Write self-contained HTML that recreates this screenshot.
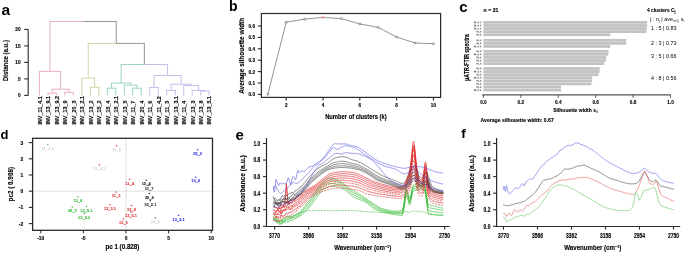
<!DOCTYPE html>
<html><head><meta charset="utf-8"><style>
html,body{margin:0;padding:0;background:#fff;}
svg{display:block;will-change:transform;}
text{font-family:"Liberation Sans", sans-serif;}
</style></head><body>
<svg width="685" height="253" viewBox="0 0 685 253">
<rect width="685" height="253" fill="#fff"/>
<text x="1.60" y="14.60" font-size="15.5" font-weight="bold" fill="#000" text-anchor="start" >a</text>
<text x="229.00" y="10.80" font-size="14" font-weight="bold" fill="#000" text-anchor="start" >b</text>
<text x="459.20" y="11.80" font-size="15" font-weight="bold" fill="#000" text-anchor="start" >c</text>
<text x="0.60" y="138.50" font-size="13" font-weight="bold" fill="#000" text-anchor="start" >d</text>
<text x="235.60" y="140.40" font-size="15" font-weight="bold" fill="#000" text-anchor="start" >e</text>
<text x="461.20" y="137.50" font-size="13.5" font-weight="bold" fill="#000" text-anchor="start" >f</text>
<line x1="28.20" y1="29.40" x2="28.20" y2="95.40" stroke="#2a2a2a" stroke-width="1.1" />
<line x1="24.20" y1="95.40" x2="28.20" y2="95.40" stroke="#2a2a2a" stroke-width="1.1" />
<text x="20.60" y="97.30" font-size="5.4" font-weight="bold" fill="#000" text-anchor="end" textLength="2.64" lengthAdjust="spacingAndGlyphs"  stroke="#000" stroke-width="0.13">0</text>
<line x1="24.20" y1="78.90" x2="28.20" y2="78.90" stroke="#2a2a2a" stroke-width="1.1" />
<text x="20.60" y="80.80" font-size="5.4" font-weight="bold" fill="#000" text-anchor="end" textLength="2.64" lengthAdjust="spacingAndGlyphs"  stroke="#000" stroke-width="0.13">5</text>
<line x1="24.20" y1="62.40" x2="28.20" y2="62.40" stroke="#2a2a2a" stroke-width="1.1" />
<text x="20.60" y="64.30" font-size="5.4" font-weight="bold" fill="#000" text-anchor="end" textLength="5.29" lengthAdjust="spacingAndGlyphs"  stroke="#000" stroke-width="0.13">10</text>
<line x1="24.20" y1="45.90" x2="28.20" y2="45.90" stroke="#2a2a2a" stroke-width="1.1" />
<text x="20.60" y="47.80" font-size="5.4" font-weight="bold" fill="#000" text-anchor="end" textLength="5.29" lengthAdjust="spacingAndGlyphs"  stroke="#000" stroke-width="0.13">15</text>
<line x1="24.20" y1="29.40" x2="28.20" y2="29.40" stroke="#2a2a2a" stroke-width="1.1" />
<text x="20.60" y="31.30" font-size="5.4" font-weight="bold" fill="#000" text-anchor="end" textLength="5.29" lengthAdjust="spacingAndGlyphs"  stroke="#000" stroke-width="0.13">20</text>
<text x="8.40" y="60.60" font-size="7.2" font-weight="bold" fill="#000" text-anchor="middle" transform="rotate(-90 8.40 60.60)" textLength="41.00" lengthAdjust="spacingAndGlyphs"  stroke="#000" stroke-width="0.13">Distance (a.u.)</text>
<text x="41.70" y="124.60" font-size="5.8" font-weight="bold" fill="#111" text-anchor="start" transform="rotate(-90 41.70 124.60)" textLength="28.34" lengthAdjust="spacingAndGlyphs" stroke="#111" stroke-width="0.16">INV_11_4.1</text>
<text x="50.19" y="124.60" font-size="5.8" font-weight="bold" fill="#111" text-anchor="start" transform="rotate(-90 50.19 124.60)" textLength="28.64" lengthAdjust="spacingAndGlyphs" stroke="#111" stroke-width="0.16">INV_13_9.1</text>
<text x="58.68" y="124.60" font-size="5.8" font-weight="bold" fill="#111" text-anchor="start" transform="rotate(-90 58.68 124.60)" textLength="28.64" lengthAdjust="spacingAndGlyphs" stroke="#111" stroke-width="0.16">INV_13_9.2</text>
<text x="67.17" y="124.60" font-size="5.8" font-weight="bold" fill="#111" text-anchor="start" transform="rotate(-90 67.17 124.60)" textLength="24.12" lengthAdjust="spacingAndGlyphs" stroke="#111" stroke-width="0.16">INV_13_9</text>
<text x="75.66" y="124.60" font-size="5.8" font-weight="bold" fill="#111" text-anchor="start" transform="rotate(-90 75.66 124.60)" textLength="24.12" lengthAdjust="spacingAndGlyphs" stroke="#111" stroke-width="0.16">INV_20_3</text>
<text x="84.15" y="124.60" font-size="5.8" font-weight="bold" fill="#111" text-anchor="start" transform="rotate(-90 84.15 124.60)" textLength="28.64" lengthAdjust="spacingAndGlyphs" stroke="#111" stroke-width="0.16">INV_13_2.1</text>
<text x="92.64" y="124.60" font-size="5.8" font-weight="bold" fill="#111" text-anchor="start" transform="rotate(-90 92.64 124.60)" textLength="24.12" lengthAdjust="spacingAndGlyphs" stroke="#111" stroke-width="0.16">INV_13_2</text>
<text x="101.13" y="124.60" font-size="5.8" font-weight="bold" fill="#111" text-anchor="start" transform="rotate(-90 101.13 124.60)" textLength="24.12" lengthAdjust="spacingAndGlyphs" stroke="#111" stroke-width="0.16">INV_15_2</text>
<text x="109.62" y="124.60" font-size="5.8" font-weight="bold" fill="#111" text-anchor="start" transform="rotate(-90 109.62 124.60)" textLength="24.12" lengthAdjust="spacingAndGlyphs" stroke="#111" stroke-width="0.16">INV_15_4</text>
<text x="118.11" y="124.60" font-size="5.8" font-weight="bold" fill="#111" text-anchor="start" transform="rotate(-90 118.11 124.60)" textLength="28.64" lengthAdjust="spacingAndGlyphs" stroke="#111" stroke-width="0.16">INV_15_2.1</text>
<text x="126.60" y="124.60" font-size="5.8" font-weight="bold" fill="#111" text-anchor="start" transform="rotate(-90 126.60 124.60)" textLength="24.12" lengthAdjust="spacingAndGlyphs" stroke="#111" stroke-width="0.16">INV_13_5</text>
<text x="135.09" y="124.60" font-size="5.8" font-weight="bold" fill="#111" text-anchor="start" transform="rotate(-90 135.09 124.60)" textLength="23.82" lengthAdjust="spacingAndGlyphs" stroke="#111" stroke-width="0.16">INV_11_7</text>
<text x="143.58" y="124.60" font-size="5.8" font-weight="bold" fill="#111" text-anchor="start" transform="rotate(-90 143.58 124.60)" textLength="24.12" lengthAdjust="spacingAndGlyphs" stroke="#111" stroke-width="0.16">INV_20_4</text>
<text x="152.07" y="124.60" font-size="5.8" font-weight="bold" fill="#111" text-anchor="start" transform="rotate(-90 152.07 124.60)" textLength="23.82" lengthAdjust="spacingAndGlyphs" stroke="#111" stroke-width="0.16">INV_11_6</text>
<text x="160.56" y="124.60" font-size="5.8" font-weight="bold" fill="#111" text-anchor="start" transform="rotate(-90 160.56 124.60)" textLength="28.34" lengthAdjust="spacingAndGlyphs" stroke="#111" stroke-width="0.16">INV_11_4.2</text>
<text x="169.05" y="124.60" font-size="5.8" font-weight="bold" fill="#111" text-anchor="start" transform="rotate(-90 169.05 124.60)" textLength="23.82" lengthAdjust="spacingAndGlyphs" stroke="#111" stroke-width="0.16">INV_11_3</text>
<text x="177.54" y="124.60" font-size="5.8" font-weight="bold" fill="#111" text-anchor="start" transform="rotate(-90 177.54 124.60)" textLength="28.64" lengthAdjust="spacingAndGlyphs" stroke="#111" stroke-width="0.16">INV_13_3.1</text>
<text x="186.03" y="124.60" font-size="5.8" font-weight="bold" fill="#111" text-anchor="start" transform="rotate(-90 186.03 124.60)" textLength="23.82" lengthAdjust="spacingAndGlyphs" stroke="#111" stroke-width="0.16">INV_11_4</text>
<text x="194.52" y="124.60" font-size="5.8" font-weight="bold" fill="#111" text-anchor="start" transform="rotate(-90 194.52 124.60)" textLength="24.12" lengthAdjust="spacingAndGlyphs" stroke="#111" stroke-width="0.16">INV_13_3</text>
<text x="203.01" y="124.60" font-size="5.8" font-weight="bold" fill="#111" text-anchor="start" transform="rotate(-90 203.01 124.60)" textLength="24.12" lengthAdjust="spacingAndGlyphs" stroke="#111" stroke-width="0.16">INV_13_8</text>
<text x="211.50" y="124.60" font-size="5.8" font-weight="bold" fill="#111" text-anchor="start" transform="rotate(-90 211.50 124.60)" textLength="28.64" lengthAdjust="spacingAndGlyphs" stroke="#111" stroke-width="0.16">INV_13_5.1</text>
<line x1="47.89" y1="95.40" x2="47.89" y2="93.20" stroke="#eab0c3" stroke-width="1" />
<line x1="56.38" y1="95.40" x2="56.38" y2="93.20" stroke="#eab0c3" stroke-width="1" />
<line x1="47.39" y1="93.20" x2="52.13" y2="93.20" stroke="#eab0c3" stroke-width="1" />
<line x1="52.13" y1="93.20" x2="56.88" y2="93.20" stroke="#eab0c3" stroke-width="1" />
<line x1="64.87" y1="95.40" x2="64.87" y2="92.40" stroke="#eab0c3" stroke-width="1" />
<line x1="73.36" y1="95.40" x2="73.36" y2="92.40" stroke="#eab0c3" stroke-width="1" />
<line x1="64.37" y1="92.40" x2="69.12" y2="92.40" stroke="#eab0c3" stroke-width="1" />
<line x1="69.12" y1="92.40" x2="73.86" y2="92.40" stroke="#eab0c3" stroke-width="1" />
<line x1="52.13" y1="93.20" x2="52.13" y2="89.20" stroke="#eab0c3" stroke-width="1" />
<line x1="69.12" y1="92.40" x2="69.12" y2="89.20" stroke="#eab0c3" stroke-width="1" />
<line x1="51.63" y1="89.20" x2="60.62" y2="89.20" stroke="#eab0c3" stroke-width="1" />
<line x1="60.62" y1="89.20" x2="69.62" y2="89.20" stroke="#eab0c3" stroke-width="1" />
<line x1="39.40" y1="95.40" x2="39.40" y2="71.40" stroke="#eab0c3" stroke-width="1" />
<line x1="60.62" y1="89.20" x2="60.62" y2="71.40" stroke="#eab0c3" stroke-width="1" />
<line x1="38.90" y1="71.40" x2="50.01" y2="71.40" stroke="#eab0c3" stroke-width="1" />
<line x1="50.01" y1="71.40" x2="61.12" y2="71.40" stroke="#eab0c3" stroke-width="1" />
<line x1="90.34" y1="95.40" x2="90.34" y2="87.30" stroke="#d2d6a6" stroke-width="1" />
<line x1="98.83" y1="95.40" x2="98.83" y2="87.30" stroke="#d2d6a6" stroke-width="1" />
<line x1="89.84" y1="87.30" x2="94.59" y2="87.30" stroke="#d2d6a6" stroke-width="1" />
<line x1="94.59" y1="87.30" x2="99.33" y2="87.30" stroke="#d2d6a6" stroke-width="1" />
<line x1="81.85" y1="95.40" x2="81.85" y2="78.10" stroke="#d2d6a6" stroke-width="1" />
<line x1="94.59" y1="87.30" x2="94.59" y2="78.10" stroke="#d2d6a6" stroke-width="1" />
<line x1="81.35" y1="78.10" x2="88.22" y2="78.10" stroke="#d2d6a6" stroke-width="1" />
<line x1="88.22" y1="78.10" x2="95.09" y2="78.10" stroke="#d2d6a6" stroke-width="1" />
<line x1="107.32" y1="95.40" x2="107.32" y2="88.20" stroke="#9dd4c7" stroke-width="1" />
<line x1="115.81" y1="95.40" x2="115.81" y2="88.20" stroke="#9dd4c7" stroke-width="1" />
<line x1="106.82" y1="88.20" x2="111.56" y2="88.20" stroke="#9dd4c7" stroke-width="1" />
<line x1="111.56" y1="88.20" x2="116.31" y2="88.20" stroke="#9dd4c7" stroke-width="1" />
<line x1="132.79" y1="95.40" x2="132.79" y2="88.20" stroke="#9dd4c7" stroke-width="1" />
<line x1="141.28" y1="95.40" x2="141.28" y2="88.20" stroke="#9dd4c7" stroke-width="1" />
<line x1="132.29" y1="88.20" x2="137.03" y2="88.20" stroke="#9dd4c7" stroke-width="1" />
<line x1="137.03" y1="88.20" x2="141.78" y2="88.20" stroke="#9dd4c7" stroke-width="1" />
<line x1="124.30" y1="95.40" x2="124.30" y2="85.20" stroke="#9dd4c7" stroke-width="1" />
<line x1="137.03" y1="88.20" x2="137.03" y2="85.20" stroke="#9dd4c7" stroke-width="1" />
<line x1="123.80" y1="85.20" x2="130.67" y2="85.20" stroke="#9dd4c7" stroke-width="1" />
<line x1="130.67" y1="85.20" x2="137.53" y2="85.20" stroke="#9dd4c7" stroke-width="1" />
<line x1="111.56" y1="88.20" x2="111.56" y2="83.10" stroke="#9dd4c7" stroke-width="1" />
<line x1="130.67" y1="85.20" x2="130.67" y2="83.10" stroke="#9dd4c7" stroke-width="1" />
<line x1="111.06" y1="83.10" x2="121.12" y2="83.10" stroke="#9dd4c7" stroke-width="1" />
<line x1="121.12" y1="83.10" x2="131.17" y2="83.10" stroke="#9dd4c7" stroke-width="1" />
<line x1="149.77" y1="95.40" x2="149.77" y2="87.50" stroke="#c3bfed" stroke-width="1" />
<line x1="158.26" y1="95.40" x2="158.26" y2="87.50" stroke="#c3bfed" stroke-width="1" />
<line x1="149.27" y1="87.50" x2="154.01" y2="87.50" stroke="#c3bfed" stroke-width="1" />
<line x1="154.01" y1="87.50" x2="158.76" y2="87.50" stroke="#c3bfed" stroke-width="1" />
<line x1="166.75" y1="95.40" x2="166.75" y2="90.40" stroke="#c3bfed" stroke-width="1" />
<line x1="175.24" y1="95.40" x2="175.24" y2="90.40" stroke="#c3bfed" stroke-width="1" />
<line x1="166.25" y1="90.40" x2="171.00" y2="90.40" stroke="#c3bfed" stroke-width="1" />
<line x1="171.00" y1="90.40" x2="175.74" y2="90.40" stroke="#c3bfed" stroke-width="1" />
<line x1="200.71" y1="95.40" x2="200.71" y2="91.10" stroke="#c3bfed" stroke-width="1" />
<line x1="209.20" y1="95.40" x2="209.20" y2="91.10" stroke="#c3bfed" stroke-width="1" />
<line x1="200.21" y1="91.10" x2="204.96" y2="91.10" stroke="#c3bfed" stroke-width="1" />
<line x1="204.96" y1="91.10" x2="209.70" y2="91.10" stroke="#c3bfed" stroke-width="1" />
<line x1="192.22" y1="95.40" x2="192.22" y2="90.40" stroke="#c3bfed" stroke-width="1" />
<line x1="204.96" y1="91.10" x2="204.96" y2="90.40" stroke="#c3bfed" stroke-width="1" />
<line x1="191.72" y1="90.40" x2="198.59" y2="90.40" stroke="#c3bfed" stroke-width="1" />
<line x1="198.59" y1="90.40" x2="205.46" y2="90.40" stroke="#c3bfed" stroke-width="1" />
<line x1="183.73" y1="95.40" x2="183.73" y2="85.60" stroke="#c3bfed" stroke-width="1" />
<line x1="198.59" y1="90.40" x2="198.59" y2="85.60" stroke="#c3bfed" stroke-width="1" />
<line x1="183.23" y1="85.60" x2="191.16" y2="85.60" stroke="#c3bfed" stroke-width="1" />
<line x1="191.16" y1="85.60" x2="199.09" y2="85.60" stroke="#c3bfed" stroke-width="1" />
<line x1="171.00" y1="90.40" x2="171.00" y2="84.20" stroke="#c3bfed" stroke-width="1" />
<line x1="191.16" y1="85.60" x2="191.16" y2="84.20" stroke="#c3bfed" stroke-width="1" />
<line x1="170.50" y1="84.20" x2="181.08" y2="84.20" stroke="#c3bfed" stroke-width="1" />
<line x1="181.08" y1="84.20" x2="191.66" y2="84.20" stroke="#c3bfed" stroke-width="1" />
<line x1="154.01" y1="87.50" x2="154.01" y2="75.50" stroke="#c3bfed" stroke-width="1" />
<line x1="181.08" y1="84.20" x2="181.08" y2="75.50" stroke="#c3bfed" stroke-width="1" />
<line x1="153.51" y1="75.50" x2="167.55" y2="75.50" stroke="#c3bfed" stroke-width="1" />
<line x1="167.55" y1="75.50" x2="181.58" y2="75.50" stroke="#c3bfed" stroke-width="1" />
<line x1="121.12" y1="83.10" x2="121.12" y2="64.50" stroke="#9dd4c7" stroke-width="1" />
<line x1="167.55" y1="75.50" x2="167.55" y2="64.50" stroke="#c3bfed" stroke-width="1" />
<line x1="120.62" y1="64.50" x2="144.33" y2="64.50" stroke="#9dd4c7" stroke-width="1" />
<line x1="144.33" y1="64.50" x2="168.05" y2="64.50" stroke="#c3bfed" stroke-width="1" />
<line x1="88.22" y1="78.10" x2="88.22" y2="43.40" stroke="#d2d6a6" stroke-width="1" />
<line x1="144.33" y1="64.50" x2="144.33" y2="43.40" stroke="#959595" stroke-width="1" />
<line x1="87.72" y1="43.40" x2="116.27" y2="43.40" stroke="#d2d6a6" stroke-width="1" />
<line x1="116.27" y1="43.40" x2="144.83" y2="43.40" stroke="#959595" stroke-width="1" />
<line x1="50.01" y1="71.40" x2="50.01" y2="21.50" stroke="#eab0c3" stroke-width="1" />
<line x1="116.27" y1="43.40" x2="116.27" y2="21.50" stroke="#959595" stroke-width="1" />
<line x1="49.51" y1="21.50" x2="83.14" y2="21.50" stroke="#eab0c3" stroke-width="1" />
<line x1="83.14" y1="21.50" x2="116.77" y2="21.50" stroke="#959595" stroke-width="1" />
<rect x="261.4" y="13.5" width="179.20000000000005" height="83.9" fill="none" stroke="#2a2a2a" stroke-width="1.2"/>
<line x1="257.80" y1="94.40" x2="261.40" y2="94.40" stroke="#2a2a2a" stroke-width="1.1" />
<text x="255.00" y="96.30" font-size="5.3" font-weight="bold" fill="#000" text-anchor="end" textLength="6.48" lengthAdjust="spacingAndGlyphs"  stroke="#000" stroke-width="0.13">0.0</text>
<line x1="257.80" y1="83.00" x2="261.40" y2="83.00" stroke="#2a2a2a" stroke-width="1.1" />
<text x="255.00" y="84.90" font-size="5.3" font-weight="bold" fill="#000" text-anchor="end" textLength="6.48" lengthAdjust="spacingAndGlyphs"  stroke="#000" stroke-width="0.13">0.1</text>
<line x1="257.80" y1="71.60" x2="261.40" y2="71.60" stroke="#2a2a2a" stroke-width="1.1" />
<text x="255.00" y="73.50" font-size="5.3" font-weight="bold" fill="#000" text-anchor="end" textLength="6.48" lengthAdjust="spacingAndGlyphs"  stroke="#000" stroke-width="0.13">0.2</text>
<line x1="257.80" y1="60.20" x2="261.40" y2="60.20" stroke="#2a2a2a" stroke-width="1.1" />
<text x="255.00" y="62.10" font-size="5.3" font-weight="bold" fill="#000" text-anchor="end" textLength="6.48" lengthAdjust="spacingAndGlyphs"  stroke="#000" stroke-width="0.13">0.3</text>
<line x1="257.80" y1="48.80" x2="261.40" y2="48.80" stroke="#2a2a2a" stroke-width="1.1" />
<text x="255.00" y="50.70" font-size="5.3" font-weight="bold" fill="#000" text-anchor="end" textLength="6.48" lengthAdjust="spacingAndGlyphs"  stroke="#000" stroke-width="0.13">0.4</text>
<line x1="257.80" y1="37.40" x2="261.40" y2="37.40" stroke="#2a2a2a" stroke-width="1.1" />
<text x="255.00" y="39.30" font-size="5.3" font-weight="bold" fill="#000" text-anchor="end" textLength="6.48" lengthAdjust="spacingAndGlyphs"  stroke="#000" stroke-width="0.13">0.5</text>
<line x1="257.80" y1="26.00" x2="261.40" y2="26.00" stroke="#2a2a2a" stroke-width="1.1" />
<text x="255.00" y="27.90" font-size="5.3" font-weight="bold" fill="#000" text-anchor="end" textLength="6.48" lengthAdjust="spacingAndGlyphs"  stroke="#000" stroke-width="0.13">0.6</text>
<line x1="286.20" y1="97.40" x2="286.20" y2="100.40" stroke="#2a2a2a" stroke-width="1.1" />
<text x="286.20" y="107.00" font-size="5.3" font-weight="bold" fill="#000" text-anchor="middle" textLength="2.59" lengthAdjust="spacingAndGlyphs"  stroke="#000" stroke-width="0.13">2</text>
<line x1="323.00" y1="97.40" x2="323.00" y2="100.40" stroke="#2a2a2a" stroke-width="1.1" />
<text x="323.00" y="107.00" font-size="5.3" font-weight="bold" fill="#000" text-anchor="middle" textLength="2.59" lengthAdjust="spacingAndGlyphs"  stroke="#000" stroke-width="0.13">4</text>
<line x1="359.80" y1="97.40" x2="359.80" y2="100.40" stroke="#2a2a2a" stroke-width="1.1" />
<text x="359.80" y="107.00" font-size="5.3" font-weight="bold" fill="#000" text-anchor="middle" textLength="2.59" lengthAdjust="spacingAndGlyphs"  stroke="#000" stroke-width="0.13">6</text>
<line x1="396.60" y1="97.40" x2="396.60" y2="100.40" stroke="#2a2a2a" stroke-width="1.1" />
<text x="396.60" y="107.00" font-size="5.3" font-weight="bold" fill="#000" text-anchor="middle" textLength="2.59" lengthAdjust="spacingAndGlyphs"  stroke="#000" stroke-width="0.13">8</text>
<line x1="433.40" y1="97.40" x2="433.40" y2="100.40" stroke="#2a2a2a" stroke-width="1.1" />
<text x="433.40" y="107.00" font-size="5.3" font-weight="bold" fill="#000" text-anchor="middle" textLength="5.19" lengthAdjust="spacingAndGlyphs"  stroke="#000" stroke-width="0.13">10</text>
<text x="355.90" y="119.30" font-size="7.0" font-weight="bold" fill="#000" text-anchor="middle" textLength="61.50" lengthAdjust="spacingAndGlyphs"  stroke="#000" stroke-width="0.13">Number of clusters (k)</text>
<text x="243.60" y="55.80" font-size="7.0" font-weight="bold" fill="#000" text-anchor="middle" transform="rotate(-90 243.60 55.80)" textLength="76.00" lengthAdjust="spacingAndGlyphs"  stroke="#000" stroke-width="0.13">Average silhouette width</text>
<polyline points="267.80,94.40 286.20,22.24 304.60,19.16 323.00,17.45 341.40,18.59 359.80,23.95 378.20,27.37 396.60,37.06 415.00,42.99 433.40,43.67" fill="none" stroke="#666" stroke-width="0.7"/>
<circle cx="267.80" cy="94.40" r="1.0" fill="#fff" stroke="#555" stroke-width="0.6"/>
<circle cx="286.20" cy="22.24" r="1.0" fill="#fff" stroke="#555" stroke-width="0.6"/>
<circle cx="304.60" cy="19.16" r="1.0" fill="#fff" stroke="#555" stroke-width="0.6"/>
<circle cx="323.00" cy="17.45" r="1.0" fill="#fff" stroke="#e05050" stroke-width="0.6"/>
<circle cx="341.40" cy="18.59" r="1.0" fill="#fff" stroke="#555" stroke-width="0.6"/>
<circle cx="359.80" cy="23.95" r="1.0" fill="#fff" stroke="#555" stroke-width="0.6"/>
<circle cx="378.20" cy="27.37" r="1.0" fill="#fff" stroke="#555" stroke-width="0.6"/>
<circle cx="396.60" cy="37.06" r="1.0" fill="#fff" stroke="#555" stroke-width="0.6"/>
<circle cx="415.00" cy="42.99" r="1.0" fill="#fff" stroke="#555" stroke-width="0.6"/>
<circle cx="433.40" cy="43.67" r="1.0" fill="#fff" stroke="#555" stroke-width="0.6"/>
<rect x="483.4" y="21.00" width="163.76" height="2.78" fill="#c2c2c2"/>
<rect x="473.88" y="21.60" width="1.02" height="1.6" fill="#555" fill-opacity="0.85"/>
<rect x="475.15" y="21.60" width="1.02" height="1.6" fill="#555" fill-opacity="0.85"/>
<rect x="476.32" y="22.90" width="1.27" height="0.4" fill="#555" fill-opacity="0.7"/>
<rect x="477.69" y="21.60" width="1.02" height="1.6" fill="#555" fill-opacity="0.85"/>
<rect x="479.16" y="22.70" width="0.5" height="0.5" fill="#555" fill-opacity="0.8"/>
<rect x="480.23" y="21.60" width="1.02" height="1.6" fill="#555" fill-opacity="0.85"/>
<rect x="483.4" y="24.08" width="163.76" height="2.78" fill="#c2c2c2"/>
<rect x="473.88" y="24.68" width="1.02" height="1.6" fill="#555" fill-opacity="0.85"/>
<rect x="475.15" y="24.68" width="1.02" height="1.6" fill="#555" fill-opacity="0.85"/>
<rect x="476.32" y="25.98" width="1.27" height="0.4" fill="#555" fill-opacity="0.7"/>
<rect x="477.69" y="24.68" width="1.02" height="1.6" fill="#555" fill-opacity="0.85"/>
<rect x="479.16" y="25.78" width="0.5" height="0.5" fill="#555" fill-opacity="0.8"/>
<rect x="480.23" y="24.68" width="1.02" height="1.6" fill="#555" fill-opacity="0.85"/>
<rect x="483.4" y="27.16" width="163.39" height="2.78" fill="#c2c2c2"/>
<rect x="473.88" y="27.76" width="1.02" height="1.6" fill="#555" fill-opacity="0.85"/>
<rect x="475.15" y="27.76" width="1.02" height="1.6" fill="#555" fill-opacity="0.85"/>
<rect x="476.32" y="29.06" width="1.27" height="0.4" fill="#555" fill-opacity="0.7"/>
<rect x="477.69" y="27.76" width="1.02" height="1.6" fill="#555" fill-opacity="0.85"/>
<rect x="479.16" y="28.86" width="0.5" height="0.5" fill="#555" fill-opacity="0.8"/>
<rect x="480.23" y="27.76" width="1.02" height="1.6" fill="#555" fill-opacity="0.85"/>
<rect x="483.4" y="30.24" width="163.01" height="2.78" fill="#c2c2c2"/>
<rect x="476.42" y="30.84" width="1.02" height="1.6" fill="#555" fill-opacity="0.85"/>
<rect x="477.69" y="30.84" width="1.02" height="1.6" fill="#555" fill-opacity="0.85"/>
<rect x="478.86" y="32.14" width="1.27" height="0.4" fill="#555" fill-opacity="0.7"/>
<rect x="480.23" y="30.84" width="1.02" height="1.6" fill="#555" fill-opacity="0.85"/>
<rect x="483.4" y="33.32" width="126.90" height="2.78" fill="#c2c2c2"/>
<rect x="476.42" y="33.92" width="1.02" height="1.6" fill="#555" fill-opacity="0.85"/>
<rect x="477.69" y="33.92" width="1.02" height="1.6" fill="#555" fill-opacity="0.85"/>
<rect x="478.86" y="35.22" width="1.27" height="0.4" fill="#555" fill-opacity="0.7"/>
<rect x="480.23" y="33.92" width="1.02" height="1.6" fill="#555" fill-opacity="0.85"/>
<rect x="483.4" y="38.90" width="142.81" height="2.78" fill="#c2c2c2"/>
<rect x="476.42" y="39.50" width="1.02" height="1.6" fill="#555" fill-opacity="0.85"/>
<rect x="477.69" y="39.50" width="1.02" height="1.6" fill="#555" fill-opacity="0.85"/>
<rect x="478.86" y="40.80" width="1.27" height="0.4" fill="#555" fill-opacity="0.7"/>
<rect x="480.23" y="39.50" width="1.02" height="1.6" fill="#555" fill-opacity="0.85"/>
<rect x="483.4" y="41.98" width="142.81" height="2.78" fill="#c2c2c2"/>
<rect x="476.42" y="42.58" width="1.02" height="1.6" fill="#555" fill-opacity="0.85"/>
<rect x="477.69" y="42.58" width="1.02" height="1.6" fill="#555" fill-opacity="0.85"/>
<rect x="478.86" y="43.88" width="1.27" height="0.4" fill="#555" fill-opacity="0.7"/>
<rect x="480.23" y="42.58" width="1.02" height="1.6" fill="#555" fill-opacity="0.85"/>
<rect x="483.4" y="45.06" width="126.90" height="2.78" fill="#c2c2c2"/>
<rect x="473.88" y="45.66" width="1.02" height="1.6" fill="#555" fill-opacity="0.85"/>
<rect x="475.15" y="45.66" width="1.02" height="1.6" fill="#555" fill-opacity="0.85"/>
<rect x="476.32" y="46.96" width="1.27" height="0.4" fill="#555" fill-opacity="0.7"/>
<rect x="477.69" y="45.66" width="1.02" height="1.6" fill="#555" fill-opacity="0.85"/>
<rect x="479.16" y="46.76" width="0.5" height="0.5" fill="#555" fill-opacity="0.8"/>
<rect x="480.23" y="45.66" width="1.02" height="1.6" fill="#555" fill-opacity="0.85"/>
<rect x="483.4" y="49.90" width="125.22" height="2.78" fill="#c2c2c2"/>
<rect x="476.42" y="50.50" width="1.02" height="1.6" fill="#555" fill-opacity="0.85"/>
<rect x="477.69" y="50.50" width="1.02" height="1.6" fill="#555" fill-opacity="0.85"/>
<rect x="478.86" y="51.80" width="1.27" height="0.4" fill="#555" fill-opacity="0.7"/>
<rect x="480.23" y="50.50" width="1.02" height="1.6" fill="#555" fill-opacity="0.85"/>
<rect x="483.4" y="52.98" width="124.84" height="2.78" fill="#c2c2c2"/>
<rect x="473.88" y="53.58" width="1.02" height="1.6" fill="#555" fill-opacity="0.85"/>
<rect x="475.15" y="53.58" width="1.02" height="1.6" fill="#555" fill-opacity="0.85"/>
<rect x="476.32" y="54.88" width="1.27" height="0.4" fill="#555" fill-opacity="0.7"/>
<rect x="477.69" y="53.58" width="1.02" height="1.6" fill="#555" fill-opacity="0.85"/>
<rect x="479.16" y="54.68" width="0.5" height="0.5" fill="#555" fill-opacity="0.8"/>
<rect x="480.23" y="53.58" width="1.02" height="1.6" fill="#555" fill-opacity="0.85"/>
<rect x="483.4" y="56.06" width="122.79" height="2.78" fill="#c2c2c2"/>
<rect x="476.42" y="56.66" width="1.02" height="1.6" fill="#555" fill-opacity="0.85"/>
<rect x="477.69" y="56.66" width="1.02" height="1.6" fill="#555" fill-opacity="0.85"/>
<rect x="478.86" y="57.96" width="1.27" height="0.4" fill="#555" fill-opacity="0.7"/>
<rect x="480.23" y="56.66" width="1.02" height="1.6" fill="#555" fill-opacity="0.85"/>
<rect x="483.4" y="59.14" width="122.41" height="2.78" fill="#c2c2c2"/>
<rect x="476.42" y="59.74" width="1.02" height="1.6" fill="#555" fill-opacity="0.85"/>
<rect x="477.69" y="59.74" width="1.02" height="1.6" fill="#555" fill-opacity="0.85"/>
<rect x="478.86" y="61.04" width="1.27" height="0.4" fill="#555" fill-opacity="0.7"/>
<rect x="480.23" y="59.74" width="1.02" height="1.6" fill="#555" fill-opacity="0.85"/>
<rect x="483.4" y="62.22" width="120.91" height="2.78" fill="#c2c2c2"/>
<rect x="476.42" y="62.82" width="1.02" height="1.6" fill="#555" fill-opacity="0.85"/>
<rect x="477.69" y="62.82" width="1.02" height="1.6" fill="#555" fill-opacity="0.85"/>
<rect x="478.86" y="64.12" width="1.27" height="0.4" fill="#555" fill-opacity="0.7"/>
<rect x="480.23" y="62.82" width="1.02" height="1.6" fill="#555" fill-opacity="0.85"/>
<rect x="483.4" y="67.10" width="116.24" height="2.78" fill="#c2c2c2"/>
<rect x="476.42" y="67.70" width="1.02" height="1.6" fill="#555" fill-opacity="0.85"/>
<rect x="477.69" y="67.70" width="1.02" height="1.6" fill="#555" fill-opacity="0.85"/>
<rect x="478.86" y="69.00" width="1.27" height="0.4" fill="#555" fill-opacity="0.7"/>
<rect x="480.23" y="67.70" width="1.02" height="1.6" fill="#555" fill-opacity="0.85"/>
<rect x="483.4" y="70.18" width="116.24" height="2.78" fill="#c2c2c2"/>
<rect x="473.88" y="70.78" width="1.02" height="1.6" fill="#555" fill-opacity="0.85"/>
<rect x="475.15" y="70.78" width="1.02" height="1.6" fill="#555" fill-opacity="0.85"/>
<rect x="476.32" y="72.08" width="1.27" height="0.4" fill="#555" fill-opacity="0.7"/>
<rect x="477.69" y="70.78" width="1.02" height="1.6" fill="#555" fill-opacity="0.85"/>
<rect x="479.16" y="71.88" width="0.5" height="0.5" fill="#555" fill-opacity="0.8"/>
<rect x="480.23" y="70.78" width="1.02" height="1.6" fill="#555" fill-opacity="0.85"/>
<rect x="483.4" y="73.26" width="115.11" height="2.78" fill="#c2c2c2"/>
<rect x="476.42" y="73.86" width="1.02" height="1.6" fill="#555" fill-opacity="0.85"/>
<rect x="477.69" y="73.86" width="1.02" height="1.6" fill="#555" fill-opacity="0.85"/>
<rect x="478.86" y="75.16" width="1.27" height="0.4" fill="#555" fill-opacity="0.7"/>
<rect x="480.23" y="73.86" width="1.02" height="1.6" fill="#555" fill-opacity="0.85"/>
<rect x="483.4" y="76.34" width="108.75" height="2.78" fill="#c2c2c2"/>
<rect x="473.88" y="76.94" width="1.02" height="1.6" fill="#555" fill-opacity="0.85"/>
<rect x="475.15" y="76.94" width="1.02" height="1.6" fill="#555" fill-opacity="0.85"/>
<rect x="476.32" y="78.24" width="1.27" height="0.4" fill="#555" fill-opacity="0.7"/>
<rect x="477.69" y="76.94" width="1.02" height="1.6" fill="#555" fill-opacity="0.85"/>
<rect x="479.16" y="78.04" width="0.5" height="0.5" fill="#555" fill-opacity="0.8"/>
<rect x="480.23" y="76.94" width="1.02" height="1.6" fill="#555" fill-opacity="0.85"/>
<rect x="483.4" y="79.42" width="108.75" height="2.78" fill="#c2c2c2"/>
<rect x="476.42" y="80.02" width="1.02" height="1.6" fill="#555" fill-opacity="0.85"/>
<rect x="477.69" y="80.02" width="1.02" height="1.6" fill="#555" fill-opacity="0.85"/>
<rect x="478.86" y="81.32" width="1.27" height="0.4" fill="#555" fill-opacity="0.7"/>
<rect x="480.23" y="80.02" width="1.02" height="1.6" fill="#555" fill-opacity="0.85"/>
<rect x="483.4" y="82.50" width="108.01" height="2.78" fill="#c2c2c2"/>
<rect x="476.42" y="83.10" width="1.02" height="1.6" fill="#555" fill-opacity="0.85"/>
<rect x="477.69" y="83.10" width="1.02" height="1.6" fill="#555" fill-opacity="0.85"/>
<rect x="478.86" y="84.40" width="1.27" height="0.4" fill="#555" fill-opacity="0.7"/>
<rect x="480.23" y="83.10" width="1.02" height="1.6" fill="#555" fill-opacity="0.85"/>
<rect x="483.4" y="85.58" width="77.69" height="2.78" fill="#c2c2c2"/>
<rect x="476.42" y="86.18" width="1.02" height="1.6" fill="#555" fill-opacity="0.85"/>
<rect x="477.69" y="86.18" width="1.02" height="1.6" fill="#555" fill-opacity="0.85"/>
<rect x="478.86" y="87.48" width="1.27" height="0.4" fill="#555" fill-opacity="0.7"/>
<rect x="480.23" y="86.18" width="1.02" height="1.6" fill="#555" fill-opacity="0.85"/>
<rect x="483.4" y="88.66" width="77.69" height="2.78" fill="#c2c2c2"/>
<rect x="473.88" y="89.26" width="1.02" height="1.6" fill="#555" fill-opacity="0.85"/>
<rect x="475.15" y="89.26" width="1.02" height="1.6" fill="#555" fill-opacity="0.85"/>
<rect x="476.32" y="90.56" width="1.27" height="0.4" fill="#555" fill-opacity="0.7"/>
<rect x="477.69" y="89.26" width="1.02" height="1.6" fill="#555" fill-opacity="0.85"/>
<rect x="479.16" y="90.36" width="0.5" height="0.5" fill="#555" fill-opacity="0.8"/>
<rect x="480.23" y="89.26" width="1.02" height="1.6" fill="#555" fill-opacity="0.85"/>
<line x1="482.20" y1="94.80" x2="670.50" y2="94.80" stroke="#555" stroke-width="1.3" />
<line x1="483.40" y1="94.80" x2="483.40" y2="97.80" stroke="#444" stroke-width="0.9" />
<text x="483.40" y="103.70" font-size="5.3" font-weight="bold" fill="#000" text-anchor="middle" textLength="6.48" lengthAdjust="spacingAndGlyphs"  stroke="#000" stroke-width="0.13">0.0</text>
<line x1="520.82" y1="94.80" x2="520.82" y2="97.80" stroke="#444" stroke-width="0.9" />
<text x="520.82" y="103.70" font-size="5.3" font-weight="bold" fill="#000" text-anchor="middle" textLength="6.48" lengthAdjust="spacingAndGlyphs"  stroke="#000" stroke-width="0.13">0.2</text>
<line x1="558.24" y1="94.80" x2="558.24" y2="97.80" stroke="#444" stroke-width="0.9" />
<text x="558.24" y="103.70" font-size="5.3" font-weight="bold" fill="#000" text-anchor="middle" textLength="6.48" lengthAdjust="spacingAndGlyphs"  stroke="#000" stroke-width="0.13">0.4</text>
<line x1="595.66" y1="94.80" x2="595.66" y2="97.80" stroke="#444" stroke-width="0.9" />
<text x="595.66" y="103.70" font-size="5.3" font-weight="bold" fill="#000" text-anchor="middle" textLength="6.48" lengthAdjust="spacingAndGlyphs"  stroke="#000" stroke-width="0.13">0.6</text>
<line x1="633.08" y1="94.80" x2="633.08" y2="97.80" stroke="#444" stroke-width="0.9" />
<text x="633.08" y="103.70" font-size="5.3" font-weight="bold" fill="#000" text-anchor="middle" textLength="6.48" lengthAdjust="spacingAndGlyphs"  stroke="#000" stroke-width="0.13">0.8</text>
<line x1="670.50" y1="94.80" x2="670.50" y2="97.80" stroke="#444" stroke-width="0.9" />
<text x="670.50" y="103.70" font-size="5.3" font-weight="bold" fill="#000" text-anchor="middle" textLength="6.48" lengthAdjust="spacingAndGlyphs"  stroke="#000" stroke-width="0.13">1.0</text>
<text x="553.20" y="111.80" font-size="6.2" font-weight="bold" fill="#000" text-anchor="start" textLength="42.80" lengthAdjust="spacingAndGlyphs"  stroke="#000" stroke-width="0.13">Silhouette width s</text>
<text x="596.60" y="112.90" font-size="4.0" font-weight="bold" fill="#000" text-anchor="start"  stroke="#000" stroke-width="0.13">i</text>
<text x="480.60" y="121.50" font-size="6.0" font-weight="bold" fill="#000" text-anchor="start" textLength="73.20" lengthAdjust="spacingAndGlyphs"  stroke="#000" stroke-width="0.13">Average silhouette width: 0.67</text>
<text x="468.90" y="57.40" font-size="7.2" font-weight="bold" fill="#000" text-anchor="middle" transform="rotate(-90 468.90 57.40)" textLength="46.50" lengthAdjust="spacingAndGlyphs"  stroke="#000" stroke-width="0.13">µATR-FTIR spectra</text>
<text x="483.60" y="12.00" font-size="5.6" font-weight="bold" fill="#000" text-anchor="start" textLength="14.80" lengthAdjust="spacingAndGlyphs"  stroke="#000" stroke-width="0.13">n = 21</text>
<text x="647.10" y="11.80" font-size="5.9" font-weight="bold" fill="#000" text-anchor="start" textLength="27.30" lengthAdjust="spacingAndGlyphs"  stroke="#000" stroke-width="0.13">4 clusters C</text>
<text x="674.60" y="13.00" font-size="3.8" font-weight="bold" fill="#000" text-anchor="start"  stroke="#000" stroke-width="0.13">j</text>
<text x="650.30" y="21.10" font-size="5.9" font-weight="normal" fill="#000" text-anchor="start" textLength="34.00" lengthAdjust="spacingAndGlyphs" >j : n<tspan font-size="3.8" dy="1">j</tspan><tspan dy="-1"> | ave</tspan><tspan font-size="3.4" dy="1">i∈Cj</tspan><tspan dy="-1"> s</tspan><tspan font-size="3.8" dy="1">i</tspan></text>
<text x="651.00" y="30.00" font-size="5.4" font-weight="normal" fill="#000" text-anchor="start" textLength="25.50" lengthAdjust="spacingAndGlyphs" >1 : 5 | 0.83</text>
<text x="651.00" y="44.50" font-size="5.4" font-weight="normal" fill="#000" text-anchor="start" textLength="25.50" lengthAdjust="spacingAndGlyphs" >2 : 3 | 0.73</text>
<text x="651.00" y="57.90" font-size="5.4" font-weight="normal" fill="#000" text-anchor="start" textLength="25.50" lengthAdjust="spacingAndGlyphs" >3 : 5 | 0.66</text>
<text x="651.00" y="80.10" font-size="5.4" font-weight="normal" fill="#000" text-anchor="start" textLength="25.50" lengthAdjust="spacingAndGlyphs" >4 : 8 | 0.56</text>
<line x1="126.00" y1="138.30" x2="126.00" y2="230.30" stroke="#aaa" stroke-width="0.7" stroke-dasharray="1,1"/>
<line x1="32.60" y1="191.20" x2="212.50" y2="191.20" stroke="#aaa" stroke-width="0.7" stroke-dasharray="1,1"/>
<rect x="32.6" y="138.3" width="179.9" height="92.0" fill="none" stroke="#2a2a2a" stroke-width="1.3"/>
<line x1="28.80" y1="142.60" x2="32.60" y2="142.60" stroke="#2a2a2a" stroke-width="1.1" />
<text x="23.20" y="144.60" font-size="5.8" font-weight="bold" fill="#000" text-anchor="end" textLength="2.74" lengthAdjust="spacingAndGlyphs"  stroke="#000" stroke-width="0.13">3</text>
<line x1="28.80" y1="158.80" x2="32.60" y2="158.80" stroke="#2a2a2a" stroke-width="1.1" />
<text x="23.20" y="160.80" font-size="5.8" font-weight="bold" fill="#000" text-anchor="end" textLength="2.74" lengthAdjust="spacingAndGlyphs"  stroke="#000" stroke-width="0.13">2</text>
<line x1="28.80" y1="175.00" x2="32.60" y2="175.00" stroke="#2a2a2a" stroke-width="1.1" />
<text x="23.20" y="177.00" font-size="5.8" font-weight="bold" fill="#000" text-anchor="end" textLength="2.74" lengthAdjust="spacingAndGlyphs"  stroke="#000" stroke-width="0.13">1</text>
<line x1="28.80" y1="191.20" x2="32.60" y2="191.20" stroke="#2a2a2a" stroke-width="1.1" />
<text x="23.20" y="193.20" font-size="5.8" font-weight="bold" fill="#000" text-anchor="end" textLength="2.74" lengthAdjust="spacingAndGlyphs"  stroke="#000" stroke-width="0.13">0</text>
<line x1="28.80" y1="207.40" x2="32.60" y2="207.40" stroke="#2a2a2a" stroke-width="1.1" />
<text x="23.20" y="209.40" font-size="5.8" font-weight="bold" fill="#000" text-anchor="end" textLength="4.38" lengthAdjust="spacingAndGlyphs"  stroke="#000" stroke-width="0.13">-1</text>
<line x1="28.80" y1="223.60" x2="32.60" y2="223.60" stroke="#2a2a2a" stroke-width="1.1" />
<text x="23.20" y="225.60" font-size="5.8" font-weight="bold" fill="#000" text-anchor="end" textLength="4.38" lengthAdjust="spacingAndGlyphs"  stroke="#000" stroke-width="0.13">-2</text>
<line x1="40.80" y1="230.30" x2="40.80" y2="233.30" stroke="#2a2a2a" stroke-width="1.1" />
<text x="40.80" y="239.90" font-size="5.8" font-weight="bold" fill="#000" text-anchor="middle" textLength="7.13" lengthAdjust="spacingAndGlyphs"  stroke="#000" stroke-width="0.13">-10</text>
<line x1="83.40" y1="230.30" x2="83.40" y2="233.30" stroke="#2a2a2a" stroke-width="1.1" />
<text x="83.40" y="239.90" font-size="5.8" font-weight="bold" fill="#000" text-anchor="middle" textLength="4.38" lengthAdjust="spacingAndGlyphs"  stroke="#000" stroke-width="0.13">-5</text>
<line x1="126.00" y1="230.30" x2="126.00" y2="233.30" stroke="#2a2a2a" stroke-width="1.1" />
<text x="126.00" y="239.90" font-size="5.8" font-weight="bold" fill="#000" text-anchor="middle" textLength="2.74" lengthAdjust="spacingAndGlyphs"  stroke="#000" stroke-width="0.13">0</text>
<line x1="168.60" y1="230.30" x2="168.60" y2="233.30" stroke="#2a2a2a" stroke-width="1.1" />
<text x="168.60" y="239.90" font-size="5.8" font-weight="bold" fill="#000" text-anchor="middle" textLength="2.74" lengthAdjust="spacingAndGlyphs"  stroke="#000" stroke-width="0.13">5</text>
<line x1="211.20" y1="230.30" x2="211.20" y2="233.30" stroke="#2a2a2a" stroke-width="1.1" />
<text x="211.20" y="239.90" font-size="5.8" font-weight="bold" fill="#000" text-anchor="middle" textLength="5.48" lengthAdjust="spacingAndGlyphs"  stroke="#000" stroke-width="0.13">10</text>
<text x="122.40" y="248.60" font-size="6.6" font-weight="bold" fill="#000" text-anchor="middle" textLength="34.00" lengthAdjust="spacingAndGlyphs"  stroke="#000" stroke-width="0.13">pc 1 (0.828)</text>
<text x="13.00" y="184.20" font-size="7.0" font-weight="bold" fill="#000" text-anchor="middle" transform="rotate(-90 13.00 184.20)" textLength="34.40" lengthAdjust="spacingAndGlyphs"  stroke="#000" stroke-width="0.13">pc2 ( 0.908)</text>
<rect x="47.10" y="143.90" width="1.4" height="1.2" fill="#3fbf3f"/>
<text x="47.80" y="149.70" font-size="4.4" font-weight="normal" fill="#b8b8b8" text-anchor="middle" textLength="12.47" lengthAdjust="spacingAndGlyphs" >11_4.1</text>
<rect x="115.90" y="145.30" width="1.4" height="1.2" fill="#e03a3a"/>
<text x="116.60" y="151.10" font-size="4.4" font-weight="normal" fill="#b8b8b8" text-anchor="middle" textLength="8.99" lengthAdjust="spacingAndGlyphs" >11_6</text>
<rect x="98.70" y="164.40" width="1.4" height="1.2" fill="#e03a3a"/>
<text x="99.40" y="170.20" font-size="4.4" font-weight="normal" fill="#b8b8b8" text-anchor="middle" textLength="12.47" lengthAdjust="spacingAndGlyphs" >11_4.2</text>
<rect x="128.90" y="178.70" width="1.4" height="1.2" fill="#e03a3a"/>
<text x="129.60" y="184.50" font-size="4.4" font-weight="bold" fill="#e03a3a" text-anchor="middle" textLength="8.59" lengthAdjust="spacingAndGlyphs"  stroke="#e03a3a" stroke-width="0.13">11_4</text>
<rect x="115.40" y="191.50" width="1.4" height="1.2" fill="#e03a3a"/>
<text x="116.10" y="197.30" font-size="4.4" font-weight="bold" fill="#e03a3a" text-anchor="middle" textLength="8.59" lengthAdjust="spacingAndGlyphs"  stroke="#e03a3a" stroke-width="0.13">11_3</text>
<rect x="109.30" y="204.00" width="1.4" height="1.2" fill="#e03a3a"/>
<text x="110.00" y="209.80" font-size="4.4" font-weight="bold" fill="#e03a3a" text-anchor="middle" textLength="12.11" lengthAdjust="spacingAndGlyphs"  stroke="#e03a3a" stroke-width="0.13">13_3.1</text>
<rect x="130.80" y="204.80" width="1.4" height="1.2" fill="#e03a3a"/>
<text x="131.50" y="210.60" font-size="4.4" font-weight="bold" fill="#e03a3a" text-anchor="middle" textLength="8.81" lengthAdjust="spacingAndGlyphs"  stroke="#e03a3a" stroke-width="0.13">13_8</text>
<rect x="130.30" y="211.50" width="1.4" height="1.2" fill="#e03a3a"/>
<text x="131.00" y="217.30" font-size="4.4" font-weight="bold" fill="#e03a3a" text-anchor="middle" textLength="12.11" lengthAdjust="spacingAndGlyphs"  stroke="#e03a3a" stroke-width="0.13">13_5.1</text>
<rect x="122.70" y="218.40" width="1.4" height="1.2" fill="#e03a3a"/>
<text x="123.40" y="224.20" font-size="4.4" font-weight="bold" fill="#e03a3a" text-anchor="middle" textLength="8.81" lengthAdjust="spacingAndGlyphs"  stroke="#e03a3a" stroke-width="0.13">13_3</text>
<rect x="145.50" y="179.60" width="1.4" height="1.2" fill="#333"/>
<text x="146.20" y="185.40" font-size="4.4" font-weight="bold" fill="#333" text-anchor="middle" textLength="8.81" lengthAdjust="spacingAndGlyphs"  stroke="#333" stroke-width="0.13">15_4</text>
<rect x="148.40" y="184.60" width="1.4" height="1.2" fill="#333"/>
<text x="149.10" y="190.40" font-size="4.4" font-weight="bold" fill="#333" text-anchor="middle" textLength="8.59" lengthAdjust="spacingAndGlyphs"  stroke="#333" stroke-width="0.13">11_7</text>
<rect x="148.60" y="192.90" width="1.4" height="1.2" fill="#333"/>
<text x="149.30" y="198.70" font-size="4.4" font-weight="bold" fill="#333" text-anchor="middle" textLength="8.81" lengthAdjust="spacingAndGlyphs"  stroke="#333" stroke-width="0.13">20_4</text>
<rect x="149.60" y="200.00" width="1.4" height="1.2" fill="#333"/>
<text x="150.30" y="205.80" font-size="4.4" font-weight="bold" fill="#333" text-anchor="middle" textLength="12.11" lengthAdjust="spacingAndGlyphs"  stroke="#333" stroke-width="0.13">15_2.1</text>
<rect x="154.60" y="217.30" width="1.4" height="1.2" fill="#666"/>
<text x="155.30" y="223.10" font-size="4.4" font-weight="normal" fill="#b8b8b8" text-anchor="middle" textLength="9.30" lengthAdjust="spacingAndGlyphs" >13_5</text>
<rect x="196.80" y="149.10" width="1.4" height="1.2" fill="#3333dd"/>
<text x="197.50" y="154.90" font-size="4.4" font-weight="bold" fill="#3333dd" text-anchor="middle" textLength="8.81" lengthAdjust="spacingAndGlyphs"  stroke="#3333dd" stroke-width="0.13">15_2</text>
<rect x="194.90" y="176.60" width="1.4" height="1.2" fill="#3333dd"/>
<text x="195.60" y="182.40" font-size="4.4" font-weight="bold" fill="#3333dd" text-anchor="middle" textLength="8.81" lengthAdjust="spacingAndGlyphs"  stroke="#3333dd" stroke-width="0.13">13_2</text>
<rect x="177.90" y="214.80" width="1.4" height="1.2" fill="#3333dd"/>
<text x="178.60" y="220.60" font-size="4.4" font-weight="bold" fill="#3333dd" text-anchor="middle" textLength="12.11" lengthAdjust="spacingAndGlyphs"  stroke="#3333dd" stroke-width="0.13">13_2.1</text>
<rect x="77.10" y="196.30" width="1.4" height="1.2" fill="#3fbf3f"/>
<text x="77.80" y="202.10" font-size="4.4" font-weight="bold" fill="#3fbf3f" text-anchor="middle" textLength="8.81" lengthAdjust="spacingAndGlyphs"  stroke="#3fbf3f" stroke-width="0.13">13_9</text>
<rect x="71.60" y="206.50" width="1.4" height="1.2" fill="#3fbf3f"/>
<text x="72.30" y="212.30" font-size="4.4" font-weight="bold" fill="#3fbf3f" text-anchor="middle" textLength="8.81" lengthAdjust="spacingAndGlyphs"  stroke="#3fbf3f" stroke-width="0.13">20_3</text>
<rect x="85.60" y="205.70" width="1.4" height="1.2" fill="#3fbf3f"/>
<text x="86.30" y="211.50" font-size="4.4" font-weight="bold" fill="#3fbf3f" text-anchor="middle" textLength="12.11" lengthAdjust="spacingAndGlyphs"  stroke="#3fbf3f" stroke-width="0.13">13_9.1</text>
<rect x="83.40" y="212.70" width="1.4" height="1.2" fill="#3fbf3f"/>
<text x="84.10" y="218.50" font-size="4.4" font-weight="bold" fill="#3fbf3f" text-anchor="middle" textLength="12.11" lengthAdjust="spacingAndGlyphs"  stroke="#3fbf3f" stroke-width="0.13">13_9.2</text>
<line x1="266.50" y1="138.00" x2="266.50" y2="226.50" stroke="#2a2a2a" stroke-width="1.2" />
<line x1="265.90" y1="226.50" x2="449.80" y2="226.50" stroke="#2a2a2a" stroke-width="1.2" />
<line x1="263.00" y1="226.30" x2="266.50" y2="226.30" stroke="#2a2a2a" stroke-width="1.1" />
<text x="260.30" y="228.70" font-size="6.8" font-weight="bold" fill="#000" text-anchor="end" textLength="6.81" lengthAdjust="spacingAndGlyphs"  stroke="#000" stroke-width="0.13">0.0</text>
<line x1="263.00" y1="209.74" x2="266.50" y2="209.74" stroke="#2a2a2a" stroke-width="1.1" />
<text x="260.30" y="212.14" font-size="6.8" font-weight="bold" fill="#000" text-anchor="end" textLength="6.81" lengthAdjust="spacingAndGlyphs"  stroke="#000" stroke-width="0.13">0.2</text>
<line x1="263.00" y1="193.18" x2="266.50" y2="193.18" stroke="#2a2a2a" stroke-width="1.1" />
<text x="260.30" y="195.58" font-size="6.8" font-weight="bold" fill="#000" text-anchor="end" textLength="6.81" lengthAdjust="spacingAndGlyphs"  stroke="#000" stroke-width="0.13">0.4</text>
<line x1="263.00" y1="176.62" x2="266.50" y2="176.62" stroke="#2a2a2a" stroke-width="1.1" />
<text x="260.30" y="179.02" font-size="6.8" font-weight="bold" fill="#000" text-anchor="end" textLength="6.81" lengthAdjust="spacingAndGlyphs"  stroke="#000" stroke-width="0.13">0.6</text>
<line x1="263.00" y1="160.06" x2="266.50" y2="160.06" stroke="#2a2a2a" stroke-width="1.1" />
<text x="260.30" y="162.46" font-size="6.8" font-weight="bold" fill="#000" text-anchor="end" textLength="6.81" lengthAdjust="spacingAndGlyphs"  stroke="#000" stroke-width="0.13">0.8</text>
<line x1="263.00" y1="143.50" x2="266.50" y2="143.50" stroke="#2a2a2a" stroke-width="1.1" />
<text x="260.30" y="145.90" font-size="6.8" font-weight="bold" fill="#000" text-anchor="end" textLength="6.81" lengthAdjust="spacingAndGlyphs"  stroke="#000" stroke-width="0.13">1.0</text>
<line x1="274.60" y1="226.50" x2="274.60" y2="229.60" stroke="#2a2a2a" stroke-width="1.1" />
<text x="274.60" y="237.50" font-size="6.8" font-weight="bold" fill="#000" text-anchor="middle" textLength="11.04" lengthAdjust="spacingAndGlyphs"  stroke="#000" stroke-width="0.13">3770</text>
<line x1="308.60" y1="226.50" x2="308.60" y2="229.60" stroke="#2a2a2a" stroke-width="1.1" />
<text x="308.60" y="237.50" font-size="6.8" font-weight="bold" fill="#000" text-anchor="middle" textLength="11.04" lengthAdjust="spacingAndGlyphs"  stroke="#000" stroke-width="0.13">3566</text>
<line x1="342.60" y1="226.50" x2="342.60" y2="229.60" stroke="#2a2a2a" stroke-width="1.1" />
<text x="342.60" y="237.50" font-size="6.8" font-weight="bold" fill="#000" text-anchor="middle" textLength="11.04" lengthAdjust="spacingAndGlyphs"  stroke="#000" stroke-width="0.13">3362</text>
<line x1="376.60" y1="226.50" x2="376.60" y2="229.60" stroke="#2a2a2a" stroke-width="1.1" />
<text x="376.60" y="237.50" font-size="6.8" font-weight="bold" fill="#000" text-anchor="middle" textLength="11.04" lengthAdjust="spacingAndGlyphs"  stroke="#000" stroke-width="0.13">3158</text>
<line x1="410.60" y1="226.50" x2="410.60" y2="229.60" stroke="#2a2a2a" stroke-width="1.1" />
<text x="410.60" y="237.50" font-size="6.8" font-weight="bold" fill="#000" text-anchor="middle" textLength="11.04" lengthAdjust="spacingAndGlyphs"  stroke="#000" stroke-width="0.13">2954</text>
<line x1="444.60" y1="226.50" x2="444.60" y2="229.60" stroke="#2a2a2a" stroke-width="1.1" />
<text x="444.60" y="237.50" font-size="6.8" font-weight="bold" fill="#000" text-anchor="middle" textLength="11.04" lengthAdjust="spacingAndGlyphs"  stroke="#000" stroke-width="0.13">2750</text>
<text x="362.80" y="250.00" font-size="6.7" font-weight="bold" fill="#000" text-anchor="middle" textLength="57.00" lengthAdjust="spacingAndGlyphs"  stroke="#000" stroke-width="0.13">Wavenumber (cm<tspan font-size="4.2" dy="-2.3">−1</tspan><tspan dy="2.3">)</tspan></text>
<text x="245.00" y="183.40" font-size="7.4" font-weight="bold" fill="#000" text-anchor="middle" transform="rotate(-90 245.00 183.40)" textLength="56.50" lengthAdjust="spacingAndGlyphs"  stroke="#000" stroke-width="0.13">Absorbance (a.u.)</text>
<line x1="496.60" y1="138.00" x2="496.60" y2="226.50" stroke="#2a2a2a" stroke-width="1.2" />
<line x1="496.00" y1="226.50" x2="680.20" y2="226.50" stroke="#2a2a2a" stroke-width="1.2" />
<line x1="493.10" y1="226.30" x2="496.60" y2="226.30" stroke="#2a2a2a" stroke-width="1.1" />
<text x="490.40" y="228.70" font-size="6.8" font-weight="bold" fill="#000" text-anchor="end" textLength="6.81" lengthAdjust="spacingAndGlyphs"  stroke="#000" stroke-width="0.13">0.0</text>
<line x1="493.10" y1="209.74" x2="496.60" y2="209.74" stroke="#2a2a2a" stroke-width="1.1" />
<text x="490.40" y="212.14" font-size="6.8" font-weight="bold" fill="#000" text-anchor="end" textLength="6.81" lengthAdjust="spacingAndGlyphs"  stroke="#000" stroke-width="0.13">0.2</text>
<line x1="493.10" y1="193.18" x2="496.60" y2="193.18" stroke="#2a2a2a" stroke-width="1.1" />
<text x="490.40" y="195.58" font-size="6.8" font-weight="bold" fill="#000" text-anchor="end" textLength="6.81" lengthAdjust="spacingAndGlyphs"  stroke="#000" stroke-width="0.13">0.4</text>
<line x1="493.10" y1="176.62" x2="496.60" y2="176.62" stroke="#2a2a2a" stroke-width="1.1" />
<text x="490.40" y="179.02" font-size="6.8" font-weight="bold" fill="#000" text-anchor="end" textLength="6.81" lengthAdjust="spacingAndGlyphs"  stroke="#000" stroke-width="0.13">0.6</text>
<line x1="493.10" y1="160.06" x2="496.60" y2="160.06" stroke="#2a2a2a" stroke-width="1.1" />
<text x="490.40" y="162.46" font-size="6.8" font-weight="bold" fill="#000" text-anchor="end" textLength="6.81" lengthAdjust="spacingAndGlyphs"  stroke="#000" stroke-width="0.13">0.8</text>
<line x1="493.10" y1="143.50" x2="496.60" y2="143.50" stroke="#2a2a2a" stroke-width="1.1" />
<text x="490.40" y="145.90" font-size="6.8" font-weight="bold" fill="#000" text-anchor="end" textLength="6.81" lengthAdjust="spacingAndGlyphs"  stroke="#000" stroke-width="0.13">1.0</text>
<line x1="503.50" y1="226.50" x2="503.50" y2="229.60" stroke="#2a2a2a" stroke-width="1.1" />
<text x="503.50" y="237.50" font-size="6.8" font-weight="bold" fill="#000" text-anchor="middle" textLength="11.04" lengthAdjust="spacingAndGlyphs"  stroke="#000" stroke-width="0.13">3770</text>
<line x1="537.50" y1="226.50" x2="537.50" y2="229.60" stroke="#2a2a2a" stroke-width="1.1" />
<text x="537.50" y="237.50" font-size="6.8" font-weight="bold" fill="#000" text-anchor="middle" textLength="11.04" lengthAdjust="spacingAndGlyphs"  stroke="#000" stroke-width="0.13">3566</text>
<line x1="571.50" y1="226.50" x2="571.50" y2="229.60" stroke="#2a2a2a" stroke-width="1.1" />
<text x="571.50" y="237.50" font-size="6.8" font-weight="bold" fill="#000" text-anchor="middle" textLength="11.04" lengthAdjust="spacingAndGlyphs"  stroke="#000" stroke-width="0.13">3362</text>
<line x1="605.50" y1="226.50" x2="605.50" y2="229.60" stroke="#2a2a2a" stroke-width="1.1" />
<text x="605.50" y="237.50" font-size="6.8" font-weight="bold" fill="#000" text-anchor="middle" textLength="11.04" lengthAdjust="spacingAndGlyphs"  stroke="#000" stroke-width="0.13">3158</text>
<line x1="639.50" y1="226.50" x2="639.50" y2="229.60" stroke="#2a2a2a" stroke-width="1.1" />
<text x="639.50" y="237.50" font-size="6.8" font-weight="bold" fill="#000" text-anchor="middle" textLength="11.04" lengthAdjust="spacingAndGlyphs"  stroke="#000" stroke-width="0.13">2954</text>
<line x1="673.50" y1="226.50" x2="673.50" y2="229.60" stroke="#2a2a2a" stroke-width="1.1" />
<text x="673.50" y="237.50" font-size="6.8" font-weight="bold" fill="#000" text-anchor="middle" textLength="11.04" lengthAdjust="spacingAndGlyphs"  stroke="#000" stroke-width="0.13">2750</text>
<text x="592.84" y="250.00" font-size="6.7" font-weight="bold" fill="#000" text-anchor="middle" textLength="57.00" lengthAdjust="spacingAndGlyphs"  stroke="#000" stroke-width="0.13">Wavenumber (cm<tspan font-size="4.2" dy="-2.3">−1</tspan><tspan dy="2.3">)</tspan></text>
<text x="473.90" y="183.40" font-size="7.4" font-weight="bold" fill="#000" text-anchor="middle" transform="rotate(-90 473.90 183.40)" textLength="56.50" lengthAdjust="spacingAndGlyphs"  stroke="#000" stroke-width="0.13">Absorbance (a.u.)</text>
<path d="M503.0,190.1 503.5,187.2 504.0,186.0 504.5,187.0 505.0,191.0 505.5,191.5 506.0,187.5 506.5,185.6 507.0,187.3 507.5,190.1 508.0,192.1 508.5,193.0 509.0,193.6 509.5,193.9 510.0,193.7 510.5,193.1 511.0,192.4 511.5,191.9 512.0,191.4 512.5,190.9 513.0,190.4 513.5,189.9 514.0,189.3 514.5,188.7 515.0,188.1 515.5,187.7 516.0,187.8 516.5,188.0 517.0,188.4 517.5,188.7 518.0,188.8 518.5,188.5 519.0,188.0 519.5,187.4 520.0,186.7 520.5,186.0 521.0,185.2 521.5,184.4 522.0,183.8 522.5,183.8 523.0,184.4 523.5,185.3 524.0,185.9 524.5,185.4 525.0,184.0 525.5,182.5 526.0,181.9 526.5,181.5 527.0,181.2 527.5,180.9 528.0,180.5 528.5,180.0 529.0,179.5 529.5,179.0 530.0,178.8 530.5,178.8 531.0,179.0 531.5,179.1 532.0,179.3 532.5,179.3 533.0,178.9 533.5,178.2 534.0,177.4 534.5,176.6 535.0,175.9 535.5,175.1 536.0,174.4 536.5,173.6 537.0,172.8 537.5,172.1 538.0,171.3 538.5,170.6 539.0,169.9 539.5,169.2 540.0,168.6 540.5,167.9 541.0,167.3 541.5,166.7 542.0,166.0 542.5,165.6 543.0,165.2 543.5,164.8 544.0,164.1 544.5,163.8 545.0,163.4 545.5,162.7 546.0,162.1 546.5,161.3 547.0,160.9 547.5,160.8 548.0,160.5 548.5,160.2 549.0,159.6 549.5,159.2 550.0,159.0 550.5,158.7 551.0,158.3 551.5,157.9 552.0,157.7 552.5,157.6 553.0,157.2 553.5,156.4 554.0,156.0 554.5,155.7 555.0,155.9 555.5,155.2 556.0,155.2 556.5,154.3 557.0,154.2 557.5,153.3 558.0,152.9 558.5,152.5 559.0,151.9 559.5,151.1 560.0,150.2 560.5,149.9 561.0,150.3 561.5,149.9 562.0,149.5 562.5,149.0 563.0,149.0 563.5,148.6 564.0,147.8 564.5,147.0 565.0,146.7 565.5,146.6 566.0,146.2 566.5,145.8 567.0,145.7 567.5,145.8 568.0,145.7 568.5,145.4 569.0,145.1 569.5,145.2 570.0,145.3 570.5,145.7 571.0,145.4 571.5,145.1 572.0,144.8 572.5,144.9 573.0,144.8 573.5,144.6 574.0,144.1 574.5,143.4 575.0,143.2 575.5,143.1 576.0,143.3 576.5,142.9 577.0,142.6 577.5,142.9 578.0,143.1 578.5,143.3 579.0,143.2 579.5,143.4 580.0,144.0 580.5,144.6 581.0,144.8 581.5,144.7 582.0,144.5 582.5,144.6 583.0,145.2 583.5,145.4 584.0,145.8 584.5,145.8 585.0,146.1 585.5,146.1 586.0,146.5 586.5,146.6 587.0,146.8 587.5,147.0 588.0,147.2 588.5,147.8 589.0,148.1 589.5,148.6 590.0,148.7 590.5,148.9 591.0,148.8 591.5,149.3 592.0,149.6 592.5,150.3 593.0,150.4 593.5,150.9 594.0,151.1 594.5,151.4 595.0,151.8 595.5,152.3 596.0,152.7 596.5,153.0 597.0,153.3 597.5,153.8 598.0,154.3 598.5,154.8 599.0,155.1 599.5,155.4 600.0,155.8 600.5,156.2 601.0,156.6 601.5,157.0 602.0,157.4 602.5,157.8 603.0,158.1 603.5,158.5 604.0,158.9 604.5,159.3 605.0,159.7 605.5,160.1 606.0,160.5 606.5,160.8 607.0,161.2 607.5,161.5 608.0,161.9 608.5,162.2 609.0,162.5 609.5,162.8 610.0,163.1 610.5,163.4 611.0,163.6 611.5,163.9 612.0,164.2 612.5,164.4 613.0,164.7 613.5,164.9 614.0,165.2 614.5,165.4 615.0,165.7 615.5,165.9 616.0,166.1 616.5,166.4 617.0,166.6 617.5,166.9 618.0,167.1 618.5,167.4 619.0,167.6 619.5,167.9 620.0,168.1 620.5,168.4 621.0,168.7 621.5,168.9 622.0,169.2 622.5,169.4 623.0,169.7 623.5,170.0 624.0,170.2 624.5,170.5 625.0,170.7 625.5,171.0 626.0,171.2 626.5,171.4 627.0,171.6 627.5,171.8 628.0,172.0 628.5,172.2 629.0,172.5 629.5,172.7 630.0,172.9 630.5,173.1 631.0,173.3 631.5,173.4 632.0,173.5 632.5,173.6 633.0,173.6 633.5,173.6 634.0,173.5 634.5,173.5 635.0,173.4 635.5,173.3 636.0,173.1 636.5,173.0 637.0,172.9 637.5,172.7 638.0,172.6 638.5,172.4 639.0,172.2 639.5,171.9 640.0,171.6 640.5,171.3 641.0,170.9 641.5,170.5 642.0,170.2 642.5,169.7 643.0,169.1 643.5,168.7 644.0,168.4 644.5,168.3 645.0,168.5 645.5,168.9 646.0,169.3 646.5,169.8 647.0,170.3 647.5,170.6 648.0,171.0 648.5,171.3 649.0,171.7 649.5,172.1 650.0,172.4 650.5,172.6 651.0,172.9 651.5,173.0 652.0,173.1 652.5,173.1 653.0,173.2 653.5,173.2 654.0,173.3 654.5,173.3 655.0,173.4 655.5,173.4 656.0,173.5 656.5,173.9 657.0,174.4 657.5,175.2 658.0,175.9 658.5,176.7 659.0,177.3 659.5,177.8 660.0,178.2 660.5,178.7 661.0,179.1 661.5,179.5 662.0,179.8 662.5,180.2 663.0,180.5 663.5,180.7 664.0,180.9 664.5,181.1 665.0,181.3 665.5,181.5 666.0,181.7 666.5,181.8 667.0,182.0 667.5,182.1 668.0,182.2 668.5,182.3 669.0,182.4 669.5,182.5 670.0,182.6 670.5,182.7 671.0,182.7 671.5,182.8 672.0,182.9 672.5,182.9 673.0,183.0 673.5,183.0 674.0,183.0" fill="none" stroke="#7474e4" stroke-width="0.7" stroke-linejoin="round"/>
<path d="M503.0,204.4 503.5,204.7 504.0,205.0 504.5,205.2 505.0,205.4 505.5,205.6 506.0,205.7 506.5,205.8 507.0,205.8 507.5,205.8 508.0,205.7 508.5,205.6 509.0,205.5 509.5,205.4 510.0,205.3 510.5,205.2 511.0,205.1 511.5,205.0 512.0,204.8 512.5,204.7 513.0,204.5 513.5,204.3 514.0,204.1 514.5,204.0 515.0,203.8 515.5,203.7 516.0,203.5 516.5,203.4 517.0,203.3 517.5,203.2 518.0,203.1 518.5,203.1 519.0,203.0 519.5,202.8 520.0,202.7 520.5,202.6 521.0,202.4 521.5,202.3 522.0,202.1 522.5,201.9 523.0,201.7 523.5,201.5 524.0,201.2 524.5,201.0 525.0,200.7 525.5,200.4 526.0,200.1 526.5,199.7 527.0,199.3 527.5,198.9 528.0,198.5 528.5,198.1 529.0,197.7 529.5,197.3 530.0,197.0 530.5,196.6 531.0,196.3 531.5,195.9 532.0,195.5 532.5,195.1 533.0,194.7 533.5,194.2 534.0,193.7 534.5,193.1 535.0,192.6 535.5,191.9 536.0,191.3 536.5,190.6 537.0,189.9 537.5,189.2 538.0,188.5 538.5,187.7 539.0,186.8 539.5,185.9 540.0,185.0 540.5,184.2 541.0,183.5 541.5,182.7 542.0,182.1 542.5,181.4 543.0,180.8 543.5,180.3 544.0,179.9 544.5,179.9 545.0,179.9 545.5,179.9 546.0,179.6 546.5,179.4 547.0,179.3 547.5,179.2 548.0,179.2 548.5,179.3 549.0,179.3 549.5,179.3 550.0,178.9 550.5,178.9 551.0,178.6 551.5,178.4 552.0,178.2 552.5,178.1 553.0,178.1 553.5,177.9 554.0,177.4 554.5,177.1 555.0,176.8 555.5,176.6 556.0,176.4 556.5,176.1 557.0,175.9 557.5,175.5 558.0,175.2 558.5,174.7 559.0,174.4 559.5,174.1 560.0,173.7 560.5,173.3 561.0,173.0 561.5,172.6 562.0,172.2 562.5,171.4 563.0,170.6 563.5,169.8 564.0,169.4 564.5,169.1 565.0,169.1 565.5,169.1 566.0,169.3 566.5,169.2 567.0,169.3 567.5,169.1 568.0,169.3 568.5,169.1 569.0,169.1 569.5,169.0 570.0,168.7 570.5,168.6 571.0,168.3 571.5,168.3 572.0,168.1 572.5,168.1 573.0,167.9 573.5,167.8 574.0,167.5 574.5,167.2 575.0,167.1 575.5,166.9 576.0,166.8 576.5,166.4 577.0,166.3 577.5,166.0 578.0,166.2 578.5,165.9 579.0,165.9 579.5,165.8 580.0,165.8 580.5,165.8 581.0,165.7 581.5,165.6 582.0,165.5 582.5,165.3 583.0,165.2 583.5,164.9 584.0,165.0 584.5,165.2 585.0,165.4 585.5,165.5 586.0,165.6 586.5,166.0 587.0,166.5 587.5,166.7 588.0,166.9 588.5,167.0 589.0,167.4 589.5,167.5 590.0,167.8 590.5,168.0 591.0,168.3 591.5,168.5 592.0,168.6 592.5,168.8 593.0,169.0 593.5,169.3 594.0,169.5 594.5,169.7 595.0,169.9 595.5,170.1 596.0,170.3 596.5,170.6 597.0,170.8 597.5,171.1 598.0,171.3 598.5,171.6 599.0,171.8 599.5,172.0 600.0,172.3 600.5,172.6 601.0,172.9 601.5,173.2 602.0,173.5 602.5,173.8 603.0,174.2 603.5,174.5 604.0,174.9 604.5,175.3 605.0,175.6 605.5,175.9 606.0,176.3 606.5,176.6 607.0,176.9 607.5,177.2 608.0,177.4 608.5,177.7 609.0,177.9 609.5,178.1 610.0,178.3 610.5,178.5 611.0,178.6 611.5,178.8 612.0,179.0 612.5,179.1 613.0,179.3 613.5,179.4 614.0,179.5 614.5,179.7 615.0,179.8 615.5,180.0 616.0,180.1 616.5,180.2 617.0,180.4 617.5,180.5 618.0,180.7 618.5,180.8 619.0,181.0 619.5,181.2 620.0,181.3 620.5,181.5 621.0,181.7 621.5,181.9 622.0,182.1 622.5,182.2 623.0,182.4 623.5,182.5 624.0,182.7 624.5,182.8 625.0,182.9 625.5,183.0 626.0,183.1 626.5,183.2 627.0,183.3 627.5,183.4 628.0,183.5 628.5,183.6 629.0,183.7 629.5,183.8 630.0,183.8 630.5,183.9 631.0,183.9 631.5,183.9 632.0,183.9 632.5,183.9 633.0,183.9 633.5,183.8 634.0,183.8 634.5,183.7 635.0,183.7 635.5,183.6 636.0,183.5 636.5,183.3 637.0,183.0 637.5,182.6 638.0,182.2 638.5,181.7 639.0,181.1 639.5,180.3 640.0,179.4 640.5,178.4 641.0,177.5 641.5,176.6 642.0,175.8 642.5,174.9 643.0,174.0 643.5,173.2 644.0,172.7 644.5,172.6 645.0,172.9 645.5,173.5 646.0,174.1 646.5,174.8 647.0,175.6 647.5,176.5 648.0,177.5 648.5,178.5 649.0,179.3 649.5,179.8 650.0,180.3 650.5,180.7 651.0,181.1 651.5,181.4 652.0,181.6 652.5,181.7 653.0,181.6 653.5,181.3 654.0,180.8 654.5,180.4 655.0,180.1 655.5,180.0 656.0,180.2 656.5,180.6 657.0,181.1 657.5,181.7 658.0,182.5 658.5,183.4 659.0,184.3 659.5,185.0 660.0,185.6 660.5,185.8 661.0,186.0 661.5,186.2 662.0,186.4 662.5,186.5 663.0,186.6 663.5,186.7 664.0,186.8 664.5,186.9 665.0,187.0 665.5,187.1 666.0,187.3 666.5,187.4 667.0,187.5 667.5,187.7 668.0,187.8 668.5,187.9 669.0,188.1 669.5,188.2 670.0,188.3 670.5,188.4 671.0,188.6 671.5,188.7 672.0,188.8 672.5,189.0 673.0,189.1 673.5,189.2 674.0,189.3" fill="none" stroke="#5a5a5a" stroke-width="0.7" stroke-linejoin="round"/>
<path d="M503.0,214.0 503.5,213.4 504.0,213.2 504.5,213.1 505.0,213.5 505.5,214.8 506.0,216.1 506.5,216.5 507.0,216.0 507.5,215.2 508.0,214.2 508.5,213.4 509.0,213.1 509.5,213.4 510.0,214.0 510.5,214.8 511.0,215.3 511.5,215.3 512.0,214.8 512.5,213.7 513.0,212.5 513.5,211.3 514.0,210.3 514.5,209.8 515.0,209.9 515.5,210.3 516.0,210.8 516.5,211.4 517.0,211.8 517.5,212.0 518.0,211.8 518.5,211.3 519.0,210.6 519.5,210.1 520.0,209.8 520.5,209.9 521.0,210.2 521.5,210.6 522.0,210.8 522.5,210.9 523.0,210.6 523.5,210.0 524.0,209.3 524.5,208.7 525.0,207.9 525.5,207.0 526.0,206.1 526.5,205.5 527.0,205.4 527.5,205.5 528.0,205.6 528.5,205.7 529.0,205.8 529.5,205.5 530.0,204.8 530.5,204.0 531.0,203.3 531.5,203.1 532.0,202.9 532.5,202.7 533.0,202.6 533.5,202.5 534.0,202.3 534.5,202.1 535.0,201.8 535.5,201.3 536.0,200.8 536.5,200.3 537.0,199.7 537.5,199.1 538.0,198.6 538.5,198.1 539.0,197.5 539.5,197.0 540.0,196.4 540.5,195.9 541.0,195.5 541.5,195.1 542.0,194.7 542.5,194.4 543.0,194.2 543.5,193.9 544.0,193.7 544.5,193.4 545.0,192.8 545.5,192.3 546.0,191.9 546.5,191.4 547.0,190.6 547.5,189.7 548.0,189.1 548.5,188.6 549.0,188.0 549.5,187.5 550.0,187.0 550.5,186.5 551.0,186.1 551.5,185.6 552.0,185.1 552.5,184.6 553.0,184.2 553.5,183.7 554.0,183.3 554.5,183.0 555.0,182.9 555.5,182.6 556.0,182.7 556.5,182.3 557.0,182.0 557.5,181.7 558.0,181.4 558.5,181.4 559.0,180.6 559.5,180.4 560.0,180.2 560.5,180.5 561.0,180.5 561.5,180.2 562.0,179.9 562.5,179.9 563.0,179.9 563.5,180.0 564.0,179.8 564.5,179.8 565.0,179.8 565.5,180.2 566.0,180.1 566.5,180.0 567.0,179.6 567.5,179.3 568.0,179.0 568.5,179.1 569.0,179.3 569.5,179.5 570.0,179.2 570.5,178.9 571.0,178.9 571.5,179.0 572.0,179.1 572.5,179.2 573.0,179.3 573.5,179.0 574.0,178.8 574.5,178.5 575.0,178.6 575.5,178.4 576.0,178.6 576.5,178.4 577.0,178.5 577.5,178.1 578.0,178.1 578.5,177.8 579.0,177.8 579.5,177.5 580.0,177.8 580.5,177.8 581.0,177.8 581.5,177.5 582.0,177.7 582.5,177.7 583.0,177.5 583.5,177.1 584.0,177.1 584.5,177.4 585.0,177.5 585.5,177.6 586.0,177.4 586.5,177.4 587.0,177.6 587.5,177.8 588.0,178.0 588.5,177.9 589.0,178.0 589.5,178.1 590.0,178.5 590.5,178.7 591.0,178.9 591.5,179.0 592.0,179.2 592.5,179.4 593.0,179.6 593.5,179.8 594.0,180.2 594.5,180.4 595.0,180.7 595.5,180.8 596.0,181.0 596.5,181.2 597.0,181.5 597.5,181.8 598.0,182.1 598.5,182.3 599.0,182.5 599.5,182.8 600.0,183.1 600.5,183.3 601.0,183.6 601.5,183.8 602.0,184.1 602.5,184.4 603.0,184.6 603.5,184.9 604.0,185.1 604.5,185.4 605.0,185.6 605.5,185.9 606.0,186.2 606.5,186.4 607.0,186.7 607.5,187.0 608.0,187.2 608.5,187.5 609.0,187.7 609.5,188.0 610.0,188.2 610.5,188.4 611.0,188.6 611.5,188.8 612.0,189.0 612.5,189.2 613.0,189.4 613.5,189.5 614.0,189.7 614.5,189.9 615.0,190.0 615.5,190.2 616.0,190.3 616.5,190.5 617.0,190.6 617.5,190.7 618.0,190.9 618.5,191.0 619.0,191.2 619.5,191.3 620.0,191.4 620.5,191.6 621.0,191.7 621.5,191.9 622.0,192.0 622.5,192.1 623.0,192.3 623.5,192.4 624.0,192.5 624.5,192.7 625.0,192.8 625.5,192.9 626.0,193.1 626.5,193.2 627.0,193.3 627.5,193.4 628.0,193.6 628.5,193.7 629.0,193.8 629.5,193.9 630.0,194.0 630.5,194.1 631.0,194.3 631.5,194.4 632.0,194.5 632.5,194.6 633.0,194.6 633.5,194.5 634.0,194.3 634.5,193.8 635.0,193.3 635.5,192.7 636.0,192.1 636.5,191.3 637.0,190.3 637.5,189.2 638.0,188.0 638.5,186.9 639.0,185.7 639.5,184.4 640.0,183.1 640.5,181.7 641.0,180.4 641.5,179.0 642.0,177.6 642.5,176.0 643.0,174.3 643.5,172.7 644.0,171.5 644.5,170.9 645.0,171.1 645.5,171.9 646.0,173.1 646.5,174.5 647.0,175.8 647.5,177.0 648.0,178.4 648.5,180.0 649.0,181.5 649.5,182.7 650.0,183.6 650.5,183.9 651.0,184.0 651.5,184.1 652.0,184.2 652.5,184.2 653.0,184.3 653.5,184.3 654.0,184.1 654.5,183.3 655.0,182.3 655.5,181.4 656.0,181.1 656.5,181.8 657.0,183.1 657.5,184.7 658.0,186.1 658.5,187.5 659.0,189.0 659.5,190.6 660.0,192.1 660.5,193.4 661.0,194.4 661.5,195.0 662.0,195.4 662.5,195.8 663.0,196.2 663.5,196.5 664.0,196.7 664.5,197.0 665.0,197.2 665.5,197.4 666.0,197.7 666.5,197.9 667.0,198.2 667.5,198.4 668.0,198.7 668.5,198.9 669.0,199.2 669.5,199.4 670.0,199.6 670.5,199.9 671.0,200.1 671.5,200.3 672.0,200.5 672.5,200.7 673.0,200.9 673.5,201.1 674.0,201.3" fill="none" stroke="#e46e6e" stroke-width="0.7" stroke-linejoin="round"/>
<path d="M503.0,216.9 503.5,217.0 504.0,217.2 504.5,217.5 505.0,218.2 505.5,219.4 506.0,220.8 506.5,221.8 507.0,222.0 507.5,221.7 508.0,221.2 508.5,220.7 509.0,220.4 509.5,220.2 510.0,220.1 510.5,220.0 511.0,219.9 511.5,219.7 512.0,219.4 512.5,219.1 513.0,218.7 513.5,218.3 514.0,217.9 514.5,217.6 515.0,217.4 515.5,217.2 516.0,217.1 516.5,216.9 517.0,216.8 517.5,216.6 518.0,216.5 518.5,216.3 519.0,216.1 519.5,215.8 520.0,215.6 520.5,215.5 521.0,215.4 521.5,215.4 522.0,215.5 522.5,215.6 523.0,215.7 523.5,215.9 524.0,216.0 524.5,216.0 525.0,215.8 525.5,215.3 526.0,214.7 526.5,214.3 527.0,214.2 527.5,214.2 528.0,214.2 528.5,214.2 529.0,214.2 529.5,214.1 530.0,213.9 530.5,213.5 531.0,213.1 531.5,212.6 532.0,212.2 532.5,211.9 533.0,211.5 533.5,211.2 534.0,210.9 534.5,210.6 535.0,210.3 535.5,209.9 536.0,209.5 536.5,209.0 537.0,208.5 537.5,208.0 538.0,207.5 538.5,207.0 539.0,206.4 539.5,205.8 540.0,205.1 540.5,204.4 541.0,203.7 541.5,203.0 542.0,202.4 542.5,201.7 543.0,201.1 543.5,200.4 544.0,199.7 544.5,199.1 545.0,198.3 545.5,197.8 546.0,197.1 546.5,196.3 547.0,195.4 547.5,194.4 548.0,193.5 548.5,192.4 549.0,191.8 549.5,191.1 550.0,190.5 550.5,189.9 551.0,189.5 551.5,188.9 552.0,188.4 552.5,187.8 553.0,187.5 553.5,187.0 554.0,186.8 554.5,186.4 555.0,186.2 555.5,186.1 556.0,185.9 556.5,185.7 557.0,185.3 557.5,185.2 558.0,184.9 558.5,184.9 559.0,184.8 559.5,184.8 560.0,184.8 560.5,184.8 561.0,185.0 561.5,185.2 562.0,185.3 562.5,185.3 563.0,185.3 563.5,185.5 564.0,185.7 564.5,185.9 565.0,186.0 565.5,186.0 566.0,186.1 566.5,186.1 567.0,186.5 567.5,186.7 568.0,187.0 568.5,187.1 569.0,187.2 569.5,187.4 570.0,187.8 570.5,188.1 571.0,188.4 571.5,188.5 572.0,188.6 572.5,188.8 573.0,189.2 573.5,189.5 574.0,189.7 574.5,189.6 575.0,190.1 575.5,190.4 576.0,190.9 576.5,191.0 577.0,191.3 577.5,191.5 578.0,191.9 578.5,192.4 579.0,192.7 579.5,192.8 580.0,193.1 580.5,193.4 581.0,193.8 581.5,194.0 582.0,194.2 582.5,194.6 583.0,194.8 583.5,195.2 584.0,195.3 584.5,195.6 585.0,195.9 585.5,196.2 586.0,196.5 586.5,196.7 587.0,197.2 587.5,197.5 588.0,197.6 588.5,197.9 589.0,198.1 589.5,198.4 590.0,198.5 590.5,198.8 591.0,199.2 591.5,199.5 592.0,199.8 592.5,200.1 593.0,200.4 593.5,200.7 594.0,201.1 594.5,201.5 595.0,201.9 595.5,202.2 596.0,202.5 596.5,202.8 597.0,203.1 597.5,203.4 598.0,203.7 598.5,204.0 599.0,204.3 599.5,204.6 600.0,204.9 600.5,205.2 601.0,205.5 601.5,205.7 602.0,206.0 602.5,206.2 603.0,206.4 603.5,206.6 604.0,206.8 604.5,207.0 605.0,207.2 605.5,207.4 606.0,207.6 606.5,207.8 607.0,207.9 607.5,208.1 608.0,208.3 608.5,208.4 609.0,208.6 609.5,208.7 610.0,208.8 610.5,209.0 611.0,209.1 611.5,209.2 612.0,209.4 612.5,209.5 613.0,209.6 613.5,209.7 614.0,209.8 614.5,210.0 615.0,210.0 615.5,210.1 616.0,210.2 616.5,210.3 617.0,210.3 617.5,210.3 618.0,210.4 618.5,210.4 619.0,210.4 619.5,210.5 620.0,210.5 620.5,210.5 621.0,210.5 621.5,210.5 622.0,210.6 622.5,210.6 623.0,210.6 623.5,210.6 624.0,210.6 624.5,210.6 625.0,210.6 625.5,210.6 626.0,210.6 626.5,210.6 627.0,210.6 627.5,210.6 628.0,210.6 628.5,210.6 629.0,210.6 629.5,210.4 630.0,210.1 630.5,209.7 631.0,209.2 631.5,208.6 632.0,207.9 632.5,206.6 633.0,205.1 633.5,203.3 634.0,201.4 634.5,198.7 635.0,195.3 635.5,193.1 636.0,192.9 636.5,193.1 637.0,193.6 637.5,194.2 638.0,195.4 638.5,197.4 639.0,199.2 639.5,200.0 640.0,199.6 640.5,198.7 641.0,197.5 641.5,196.2 642.0,195.0 642.5,193.4 643.0,191.8 643.5,190.8 644.0,190.4 644.5,190.3 645.0,190.3 645.5,190.2 646.0,190.2 646.5,190.1 647.0,190.0 647.5,189.9 648.0,189.8 648.5,189.6 649.0,189.4 649.5,189.2 650.0,189.0 650.5,188.8 651.0,188.5 651.5,188.3 652.0,188.0 652.5,187.7 653.0,187.4 653.5,187.2 654.0,187.3 654.5,187.6 655.0,188.1 655.5,188.9 656.0,190.7 656.5,193.1 657.0,195.4 657.5,197.3 658.0,199.0 658.5,200.7 659.0,202.2 659.5,203.5 660.0,204.4 660.5,204.9 661.0,205.3 661.5,205.6 662.0,205.9 662.5,206.2 663.0,206.4 663.5,206.6 664.0,206.8 664.5,207.0 665.0,207.2 665.5,207.3 666.0,207.5 666.5,207.7 667.0,207.9 667.5,208.0 668.0,208.2 668.5,208.4 669.0,208.5 669.5,208.7 670.0,208.8 670.5,208.9 671.0,209.1 671.5,209.2 672.0,209.3 672.5,209.4 673.0,209.5 673.5,209.5 674.0,209.6" fill="none" stroke="#6ccc6c" stroke-width="0.7" stroke-linejoin="round"/>
<path d="M273.3,216.3 273.8,216.6 274.3,215.5 274.8,216.0 275.3,216.5 275.8,217.6 276.3,218.1 276.8,218.8 277.3,219.2 277.8,219.3 278.3,219.5 278.8,220.4 279.3,221.1 279.8,221.0 280.3,220.4 280.8,220.2 281.3,220.6 281.8,220.5 282.3,219.7 282.8,219.2 283.3,218.8 283.8,218.8 284.3,218.5 284.8,218.3 285.3,217.8 285.8,217.4 286.3,217.0 286.8,216.8 287.3,216.4 287.8,216.4 288.3,216.3 288.8,216.3 289.3,216.2 289.8,216.3 290.3,216.3 290.8,216.3 291.3,216.5 291.8,216.1 292.3,216.1 292.8,215.7 293.3,215.6 293.8,215.2 294.3,215.1 294.8,215.2 295.3,214.8 295.8,214.6 296.3,214.2 296.8,213.9 297.3,213.4 297.8,213.2 298.3,213.1 298.8,213.0 299.3,212.6 299.8,212.2 300.3,211.6 300.8,211.1 301.3,210.5 301.8,209.9 302.3,209.2 302.8,208.6 303.3,208.1 303.8,207.4 304.3,206.9 304.8,206.3 305.3,205.7 305.8,205.1 306.3,204.4 306.8,203.8 307.3,203.2 307.8,202.5 308.3,201.9 308.8,201.2 309.3,200.5 309.8,199.9 310.3,199.2 310.8,198.5 311.3,197.8 311.8,197.1 312.3,196.4 312.8,195.6 313.3,194.9 313.8,194.1 314.3,193.4 314.8,192.7 315.3,192.0 315.8,191.3 316.3,190.6 316.8,189.9 317.3,189.2 317.8,188.6 318.3,187.9 318.8,187.2 319.3,186.6 319.8,185.9 320.3,185.3 320.8,184.7 321.3,184.1 321.8,183.5 322.3,183.0 322.8,182.5 323.3,182.0 323.8,181.6 324.3,181.1 324.8,180.6 325.3,180.1 325.8,179.7 326.3,179.3 326.8,178.9 327.3,178.6 327.8,178.4 328.3,178.3 328.8,178.2 329.3,178.2 329.8,178.2 330.3,178.3 330.8,178.3 331.3,178.4 331.8,178.4 332.3,178.5 332.8,178.6 333.3,178.6 333.8,178.8 334.3,178.9 334.8,179.0 335.3,179.2 335.8,179.4 336.3,179.6 336.8,179.8 337.3,180.0 337.8,180.3 338.3,180.5 338.8,180.7 339.3,181.0 339.8,181.3 340.3,181.6 340.8,181.9 341.3,182.2 341.8,182.5 342.3,182.9 342.8,183.3 343.3,183.6 343.8,184.0 344.3,184.4 344.8,184.8 345.3,185.2 345.8,185.5 346.3,185.9 346.8,186.3 347.3,186.7 347.8,187.1 348.3,187.6 348.8,188.0 349.3,188.4 349.8,188.8 350.3,189.1 350.8,189.4 351.3,189.7 351.8,189.9 352.3,190.2 352.8,190.4 353.3,190.6 353.8,190.9 354.3,191.1 354.8,191.4 355.3,191.7 355.8,192.0 356.3,192.3 356.8,192.6 357.3,192.9 357.8,193.2 358.3,193.5 358.8,193.9 359.3,194.2 359.8,194.5 360.3,194.8 360.8,195.2 361.3,195.5 361.8,195.8 362.3,196.1 362.8,196.5 363.3,196.8 363.8,197.2 364.3,197.5 364.8,197.8 365.3,198.2 365.8,198.5 366.3,198.8 366.8,199.2 367.3,199.5 367.8,199.9 368.3,200.2 368.8,200.5 369.3,200.9 369.8,201.2 370.3,201.5 370.8,201.8 371.3,202.1 371.8,202.5 372.3,202.8 372.8,203.1 373.3,203.5 373.8,203.8 374.3,204.1 374.8,204.5 375.3,204.8 375.8,205.2 376.3,205.5 376.8,205.8 377.3,206.2 377.8,206.5 378.3,206.8 378.8,207.1 379.3,207.3 379.8,207.6 380.3,207.8 380.8,208.1 381.3,208.3 381.8,208.4 382.3,208.6 382.8,208.7 383.3,208.9 383.8,209.0 384.3,209.2 384.8,209.3 385.3,209.5 385.8,209.6 386.3,209.8 386.8,209.9 387.3,210.0 387.8,210.1 388.3,210.2 388.8,210.4 389.3,210.5 389.8,210.6 390.3,210.7 390.8,210.7 391.3,210.8 391.8,210.9 392.3,210.9 392.8,211.0 393.3,211.0 393.8,211.1 394.3,211.1 394.8,211.1 395.3,211.1 395.8,211.1 396.3,211.1 396.8,211.1 397.3,211.1 397.8,211.0 398.3,211.0 398.8,211.0 399.3,210.9 399.8,210.9 400.3,210.8 400.8,210.7 401.3,210.6 401.8,210.5 402.3,210.2 402.8,208.7 403.3,206.5 403.8,204.0 404.3,201.1 404.8,196.7 405.3,192.2 405.8,189.3 406.3,189.1 406.8,189.9 407.3,191.1 407.8,192.5 408.3,194.1 408.8,196.5 409.3,198.6 409.8,198.9 410.3,197.5 410.8,195.3 411.3,192.9 411.8,190.5 412.3,187.6 412.8,185.6 413.3,185.3 413.8,185.2 414.3,185.2 414.8,185.1 415.3,185.1 415.8,185.1 416.3,185.1 416.8,185.1 417.3,185.1 417.8,185.0 418.3,185.0 418.8,184.8 419.3,184.6 419.8,184.3 420.3,184.1 420.8,183.9 421.3,183.7 421.8,183.6 422.3,183.6 422.8,183.8 423.3,184.0 423.8,184.4 424.3,184.8 424.8,185.6 425.3,187.8 425.8,190.8 426.3,193.9 426.8,196.8 427.3,200.1 427.8,203.1 428.3,204.5 428.8,204.7 429.3,204.9 429.8,205.1 430.3,205.2 430.8,205.3 431.3,205.3 431.8,205.5 432.3,205.6 432.8,205.7 433.3,205.8 433.8,206.0 434.3,206.1 434.8,206.2 435.3,206.4 435.8,206.5 436.3,206.6 436.8,206.8 437.3,206.9 437.8,207.0 438.3,207.1 438.8,207.3 439.3,207.4 439.8,207.5 440.3,207.7 440.8,207.8 441.3,207.9 441.8,208.0 442.3,208.2 442.8,208.3 443.3,208.4" fill="none" stroke="#22b422" stroke-width="0.62" stroke-linejoin="round"/>
<path d="M273.3,216.8 273.8,217.4 274.3,218.1 274.8,218.4 275.3,218.4 275.8,218.3 276.3,219.2 276.8,219.5 277.3,220.3 277.8,220.8 278.3,222.0 278.8,222.1 279.3,222.0 279.8,221.6 280.3,221.8 280.8,221.6 281.3,221.3 281.8,220.7 282.3,221.0 282.8,220.9 283.3,220.1 283.8,220.1 284.3,219.5 284.8,219.5 285.3,218.8 285.8,218.5 286.3,218.2 286.8,218.0 287.3,218.2 287.8,218.0 288.3,217.5 288.8,217.2 289.3,217.5 289.8,218.0 290.3,218.1 290.8,217.8 291.3,217.6 291.8,217.2 292.3,217.4 292.8,217.4 293.3,217.0 293.8,216.4 294.3,216.0 294.8,215.7 295.3,215.8 295.8,215.6 296.3,215.5 296.8,215.0 297.3,214.9 297.8,214.7 298.3,214.5 298.8,214.1 299.3,213.7 299.8,213.3 300.3,213.0 300.8,212.5 301.3,212.0 301.8,211.4 302.3,210.9 302.8,210.4 303.3,209.8 303.8,209.1 304.3,208.6 304.8,208.0 305.3,207.5 305.8,206.9 306.3,206.4 306.8,205.7 307.3,205.1 307.8,204.5 308.3,203.9 308.8,203.3 309.3,202.6 309.8,202.0 310.3,201.3 310.8,200.7 311.3,200.0 311.8,199.3 312.3,198.5 312.8,197.8 313.3,197.1 313.8,196.3 314.3,195.6 314.8,194.9 315.3,194.2 315.8,193.5 316.3,192.8 316.8,192.1 317.3,191.5 317.8,190.8 318.3,190.1 318.8,189.5 319.3,188.8 319.8,188.2 320.3,187.5 320.8,186.9 321.3,186.3 321.8,185.7 322.3,185.2 322.8,184.7 323.3,184.3 323.8,183.8 324.3,183.4 324.8,183.0 325.3,182.6 325.8,182.2 326.3,181.8 326.8,181.5 327.3,181.2 327.8,181.0 328.3,180.8 328.8,180.7 329.3,180.7 329.8,180.7 330.3,180.7 330.8,180.7 331.3,180.7 331.8,180.8 332.3,180.8 332.8,180.9 333.3,180.9 333.8,181.0 334.3,181.1 334.8,181.3 335.3,181.4 335.8,181.6 336.3,181.7 336.8,181.9 337.3,182.1 337.8,182.3 338.3,182.5 338.8,182.7 339.3,182.9 339.8,183.1 340.3,183.4 340.8,183.7 341.3,184.0 341.8,184.3 342.3,184.6 342.8,185.0 343.3,185.3 343.8,185.7 344.3,186.0 344.8,186.4 345.3,186.8 345.8,187.1 346.3,187.5 346.8,187.9 347.3,188.2 347.8,188.7 348.3,189.1 348.8,189.5 349.3,189.9 349.8,190.3 350.3,190.7 350.8,191.0 351.3,191.3 351.8,191.6 352.3,191.9 352.8,192.2 353.3,192.5 353.8,192.7 354.3,193.0 354.8,193.3 355.3,193.6 355.8,193.8 356.3,194.1 356.8,194.4 357.3,194.7 357.8,194.9 358.3,195.2 358.8,195.5 359.3,195.8 359.8,196.1 360.3,196.3 360.8,196.6 361.3,196.9 361.8,197.2 362.3,197.5 362.8,197.8 363.3,198.1 363.8,198.4 364.3,198.7 364.8,199.0 365.3,199.3 365.8,199.7 366.3,200.0 366.8,200.3 367.3,200.7 367.8,201.0 368.3,201.4 368.8,201.7 369.3,202.1 369.8,202.5 370.3,202.8 370.8,203.2 371.3,203.5 371.8,203.8 372.3,204.2 372.8,204.5 373.3,204.9 373.8,205.2 374.3,205.6 374.8,205.9 375.3,206.2 375.8,206.6 376.3,206.9 376.8,207.2 377.3,207.4 377.8,207.7 378.3,208.0 378.8,208.2 379.3,208.5 379.8,208.7 380.3,208.9 380.8,209.1 381.3,209.3 381.8,209.5 382.3,209.6 382.8,209.8 383.3,209.9 383.8,210.1 384.3,210.2 384.8,210.3 385.3,210.5 385.8,210.6 386.3,210.7 386.8,210.9 387.3,211.0 387.8,211.1 388.3,211.2 388.8,211.3 389.3,211.4 389.8,211.5 390.3,211.6 390.8,211.7 391.3,211.8 391.8,211.9 392.3,211.9 392.8,212.0 393.3,212.1 393.8,212.1 394.3,212.1 394.8,212.2 395.3,212.2 395.8,212.2 396.3,212.2 396.8,212.3 397.3,212.3 397.8,212.3 398.3,212.3 398.8,212.3 399.3,212.3 399.8,212.2 400.3,212.2 400.8,212.2 401.3,212.1 401.8,212.1 402.3,211.7 402.8,210.4 403.3,208.2 403.8,205.8 404.3,202.9 404.8,198.6 405.3,194.2 405.8,191.4 406.3,191.2 406.8,192.0 407.3,193.2 407.8,194.6 408.3,196.1 408.8,198.5 409.3,200.4 409.8,200.7 410.3,199.3 410.8,197.1 411.3,194.7 411.8,192.3 412.3,189.4 412.8,187.3 413.3,186.9 413.8,186.9 414.3,186.8 414.8,186.7 415.3,186.7 415.8,186.7 416.3,186.7 416.8,186.6 417.3,186.6 417.8,186.5 418.3,186.4 418.8,186.3 419.3,186.1 419.8,185.9 420.3,185.7 420.8,185.5 421.3,185.3 421.8,185.2 422.3,185.2 422.8,185.4 423.3,185.7 423.8,186.1 424.3,186.6 424.8,187.5 425.3,189.6 425.8,192.6 426.3,195.7 426.8,198.7 427.3,202.4 427.8,205.7 428.3,207.3 428.8,207.5 429.3,207.7 429.8,207.8 430.3,207.9 430.8,208.0 431.3,208.1 431.8,208.2 432.3,208.3 432.8,208.4 433.3,208.5 433.8,208.6 434.3,208.7 434.8,208.8 435.3,208.9 435.8,209.0 436.3,209.1 436.8,209.2 437.3,209.3 437.8,209.4 438.3,209.5 438.8,209.6 439.3,209.7 439.8,209.8 440.3,209.9 440.8,210.0 441.3,210.1 441.8,210.2 442.3,210.3 442.8,210.4 443.3,210.5" fill="none" stroke="#22b422" stroke-width="0.62" stroke-linejoin="round"/>
<path d="M273.3,218.7 273.8,219.1 274.3,219.2 274.8,219.4 275.3,220.0 275.8,219.8 276.3,220.7 276.8,220.2 277.3,221.3 277.8,221.3 278.3,222.6 278.8,223.0 279.3,223.3 279.8,223.2 280.3,223.3 280.8,223.8 281.3,223.6 281.8,222.5 282.3,221.5 282.8,221.2 283.3,222.3 283.8,221.9 284.3,221.5 284.8,220.6 285.3,220.6 285.8,220.2 286.3,220.1 286.8,219.7 287.3,219.7 287.8,219.7 288.3,219.6 288.8,219.4 289.3,219.4 289.8,219.4 290.3,219.2 290.8,218.6 291.3,218.7 291.8,218.4 292.3,218.3 292.8,217.7 293.3,217.6 293.8,217.7 294.3,217.7 294.8,217.6 295.3,217.3 295.8,217.0 296.3,216.6 296.8,216.5 297.3,216.4 297.8,216.1 298.3,215.8 298.8,215.5 299.3,215.3 299.8,214.9 300.3,214.3 300.8,213.8 301.3,213.2 301.8,213.0 302.3,212.5 302.8,212.2 303.3,211.6 303.8,211.2 304.3,210.5 304.8,210.0 305.3,209.5 305.8,209.1 306.3,208.6 306.8,208.0 307.3,207.4 307.8,206.9 308.3,206.3 308.8,205.7 309.3,205.1 309.8,204.5 310.3,203.8 310.8,203.2 311.3,202.5 311.8,201.8 312.3,201.1 312.8,200.4 313.3,199.6 313.8,198.9 314.3,198.2 314.8,197.5 315.3,196.7 315.8,196.0 316.3,195.4 316.8,194.7 317.3,194.1 317.8,193.4 318.3,192.8 318.8,192.1 319.3,191.4 319.8,190.8 320.3,190.1 320.8,189.5 321.3,188.9 321.8,188.3 322.3,187.8 322.8,187.3 323.3,186.9 323.8,186.5 324.3,186.1 324.8,185.8 325.3,185.4 325.8,185.1 326.3,184.8 326.8,184.5 327.3,184.2 327.8,184.0 328.3,183.8 328.8,183.7 329.3,183.6 329.8,183.5 330.3,183.5 330.8,183.5 331.3,183.5 331.8,183.5 332.3,183.5 332.8,183.6 333.3,183.6 333.8,183.7 334.3,183.8 334.8,183.9 335.3,184.0 335.8,184.1 336.3,184.2 336.8,184.3 337.3,184.5 337.8,184.6 338.3,184.8 338.8,184.9 339.3,185.1 339.8,185.3 340.3,185.5 340.8,185.8 341.3,186.1 341.8,186.4 342.3,186.7 342.8,187.0 343.3,187.3 343.8,187.6 344.3,188.0 344.8,188.3 345.3,188.6 345.8,189.0 346.3,189.3 346.8,189.7 347.3,190.1 347.8,190.5 348.3,190.9 348.8,191.3 349.3,191.7 349.8,192.1 350.3,192.5 350.8,192.9 351.3,193.3 351.8,193.6 352.3,194.0 352.8,194.3 353.3,194.6 353.8,194.9 354.3,195.2 354.8,195.5 355.3,195.8 355.8,196.0 356.3,196.3 356.8,196.5 357.3,196.7 357.8,197.0 358.3,197.2 358.8,197.4 359.3,197.7 359.8,197.9 360.3,198.1 360.8,198.3 361.3,198.6 361.8,198.8 362.3,199.0 362.8,199.3 363.3,199.5 363.8,199.8 364.3,200.1 364.8,200.4 365.3,200.7 365.8,201.0 366.3,201.3 366.8,201.7 367.3,202.0 367.8,202.4 368.3,202.8 368.8,203.2 369.3,203.6 369.8,203.9 370.3,204.3 370.8,204.7 371.3,205.1 371.8,205.5 372.3,205.8 372.8,206.2 373.3,206.6 373.8,206.9 374.3,207.3 374.8,207.6 375.3,207.9 375.8,208.2 376.3,208.5 376.8,208.7 377.3,208.9 377.8,209.2 378.3,209.4 378.8,209.6 379.3,209.8 379.8,210.0 380.3,210.2 380.8,210.4 381.3,210.5 381.8,210.7 382.3,210.8 382.8,211.0 383.3,211.1 383.8,211.2 384.3,211.4 384.8,211.5 385.3,211.6 385.8,211.8 386.3,211.9 386.8,212.0 387.3,212.1 387.8,212.2 388.3,212.4 388.8,212.5 389.3,212.6 389.8,212.7 390.3,212.8 390.8,212.8 391.3,212.9 391.8,213.0 392.3,213.1 392.8,213.2 393.3,213.2 393.8,213.3 394.3,213.4 394.8,213.4 395.3,213.5 395.8,213.5 396.3,213.6 396.8,213.6 397.3,213.7 397.8,213.7 398.3,213.8 398.8,213.8 399.3,213.8 399.8,213.9 400.3,213.9 400.8,213.9 401.3,213.9 401.8,213.8 402.3,213.6 402.8,212.2 403.3,210.2 403.8,207.8 404.3,205.1 404.8,200.9 405.3,196.6 405.8,193.8 406.3,193.7 406.8,194.5 407.3,195.7 407.8,197.0 408.3,198.5 408.8,200.7 409.3,202.5 409.8,202.8 410.3,201.4 410.8,199.2 411.3,196.8 411.8,194.4 412.3,191.5 412.8,189.3 413.3,188.9 413.8,188.8 414.3,188.7 414.8,188.6 415.3,188.5 415.8,188.5 416.3,188.5 416.8,188.4 417.3,188.4 417.8,188.3 418.3,188.2 418.8,188.0 419.3,187.9 419.8,187.7 420.3,187.5 420.8,187.3 421.3,187.2 421.8,187.1 422.3,187.1 422.8,187.3 423.3,187.6 423.8,188.1 424.3,188.7 424.8,189.6 425.3,191.7 425.8,194.6 426.3,197.7 426.8,200.9 427.3,205.1 427.8,208.8 428.3,210.5 428.8,210.8 429.3,210.9 429.8,211.0 430.3,211.1 430.8,211.2 431.3,211.2 431.8,211.3 432.3,211.4 432.8,211.5 433.3,211.6 433.8,211.7 434.3,211.7 434.8,211.8 435.3,211.9 435.8,212.0 436.3,212.1 436.8,212.1 437.3,212.2 437.8,212.3 438.3,212.4 438.8,212.4 439.3,212.5 439.8,212.6 440.3,212.6 440.8,212.7 441.3,212.7 441.8,212.8 442.3,212.9 442.8,212.9 443.3,212.9" fill="none" stroke="#22b422" stroke-width="0.62" stroke-linejoin="round"/>
<path d="M273.3,220.2 273.8,220.3 274.3,220.2 274.8,220.2 275.3,221.5 275.8,221.9 276.3,222.3 276.8,222.5 277.3,223.1 277.8,223.3 278.3,223.8 278.8,224.3 279.3,224.6 279.8,224.1 280.3,224.2 280.8,224.1 281.3,224.1 281.8,223.8 282.3,223.9 282.8,223.1 283.3,222.6 283.8,222.1 284.3,222.4 284.8,222.5 285.3,222.7 285.8,222.4 286.3,221.8 286.8,221.5 287.3,221.3 287.8,221.7 288.3,221.6 288.8,221.5 289.3,221.2 289.8,220.9 290.3,220.6 290.8,220.3 291.3,220.3 291.8,220.4 292.3,220.4 292.8,220.2 293.3,219.7 293.8,219.4 294.3,219.1 294.8,219.1 295.3,218.7 295.8,218.5 296.3,218.1 296.8,218.1 297.3,217.7 297.8,217.4 298.3,216.9 298.8,216.6 299.3,216.4 299.8,216.2 300.3,215.9 300.8,215.3 301.3,215.0 301.8,214.7 302.3,214.3 302.8,213.9 303.3,213.5 303.8,213.1 304.3,212.6 304.8,212.2 305.3,211.7 305.8,211.2 306.3,210.8 306.8,210.3 307.3,209.8 307.8,209.2 308.3,208.7 308.8,208.1 309.3,207.5 309.8,206.9 310.3,206.3 310.8,205.7 311.3,205.0 311.8,204.4 312.3,203.7 312.8,202.9 313.3,202.2 313.8,201.5 314.3,200.7 314.8,200.0 315.3,199.3 315.8,198.6 316.3,197.9 316.8,197.3 317.3,196.7 317.8,196.0 318.3,195.4 318.8,194.7 319.3,194.0 319.8,193.4 320.3,192.7 320.8,192.1 321.3,191.5 321.8,191.0 322.3,190.4 322.8,189.9 323.3,189.5 323.8,189.1 324.3,188.8 324.8,188.6 325.3,188.3 325.8,188.0 326.3,187.8 326.8,187.5 327.3,187.3 327.8,187.0 328.3,186.8 328.8,186.7 329.3,186.5 329.8,186.4 330.3,186.3 330.8,186.2 331.3,186.2 331.8,186.2 332.3,186.2 332.8,186.2 333.3,186.3 333.8,186.3 334.3,186.4 334.8,186.4 335.3,186.5 335.8,186.6 336.3,186.7 336.8,186.8 337.3,186.9 337.8,187.0 338.3,187.1 338.8,187.2 339.3,187.3 339.8,187.5 340.3,187.7 340.8,187.9 341.3,188.1 341.8,188.4 342.3,188.7 342.8,189.0 343.3,189.3 343.8,189.6 344.3,189.9 344.8,190.2 345.3,190.5 345.8,190.8 346.3,191.1 346.8,191.5 347.3,191.9 347.8,192.3 348.3,192.7 348.8,193.1 349.3,193.5 349.8,193.9 350.3,194.4 350.8,194.8 351.3,195.2 351.8,195.6 352.3,196.0 352.8,196.4 353.3,196.8 353.8,197.1 354.3,197.4 354.8,197.7 355.3,198.0 355.8,198.2 356.3,198.4 356.8,198.6 357.3,198.8 357.8,199.0 358.3,199.2 358.8,199.4 359.3,199.5 359.8,199.7 360.3,199.9 360.8,200.0 361.3,200.2 361.8,200.4 362.3,200.6 362.8,200.8 363.3,201.0 363.8,201.2 364.3,201.5 364.8,201.7 365.3,202.0 365.8,202.3 366.3,202.7 366.8,203.0 367.3,203.4 367.8,203.8 368.3,204.2 368.8,204.6 369.3,205.0 369.8,205.4 370.3,205.9 370.8,206.3 371.3,206.7 371.8,207.1 372.3,207.5 372.8,207.9 373.3,208.3 373.8,208.6 374.3,208.9 374.8,209.3 375.3,209.5 375.8,209.8 376.3,210.0 376.8,210.2 377.3,210.4 377.8,210.6 378.3,210.8 378.8,210.9 379.3,211.1 379.8,211.3 380.3,211.4 380.8,211.6 381.3,211.7 381.8,211.9 382.3,212.0 382.8,212.2 383.3,212.3 383.8,212.4 384.3,212.6 384.8,212.7 385.3,212.8 385.8,212.9 386.3,213.0 386.8,213.2 387.3,213.3 387.8,213.4 388.3,213.5 388.8,213.6 389.3,213.7 389.8,213.8 390.3,213.9 390.8,214.0 391.3,214.1 391.8,214.2 392.3,214.2 392.8,214.3 393.3,214.4 393.8,214.5 394.3,214.6 394.8,214.7 395.3,214.7 395.8,214.8 396.3,214.9 396.8,215.0 397.3,215.1 397.8,215.2 398.3,215.3 398.8,215.3 399.3,215.4 399.8,215.5 400.3,215.5 400.8,215.6 401.3,215.6 401.8,215.6 402.3,215.4 402.8,214.1 403.3,212.2 403.8,209.9 404.3,207.3 404.8,203.2 405.3,199.0 405.8,196.3 406.3,196.1 406.8,196.9 407.3,198.1 407.8,199.5 408.3,200.9 408.8,203.0 409.3,204.7 409.8,204.9 410.3,203.5 410.8,201.3 411.3,198.9 411.8,196.5 412.3,193.5 412.8,191.3 413.3,190.9 413.8,190.7 414.3,190.6 414.8,190.5 415.3,190.4 415.8,190.3 416.3,190.3 416.8,190.2 417.3,190.1 417.8,190.0 418.3,189.9 418.8,189.8 419.3,189.6 419.8,189.5 420.3,189.3 420.8,189.2 421.3,189.1 421.8,189.0 422.3,189.0 422.8,189.2 423.3,189.6 423.8,190.1 424.3,190.7 424.8,191.7 425.3,193.8 425.8,196.7 426.3,199.8 426.8,203.2 427.3,207.7 427.8,211.9 428.3,213.8 428.8,214.0 429.3,214.1 429.8,214.2 430.3,214.3 430.8,214.4 431.3,214.4 431.8,214.5 432.3,214.5 432.8,214.6 433.3,214.7 433.8,214.7 434.3,214.8 434.8,214.8 435.3,214.9 435.8,214.9 436.3,215.0 436.8,215.0 437.3,215.1 437.8,215.1 438.3,215.2 438.8,215.2 439.3,215.2 439.8,215.3 440.3,215.3 440.8,215.3 441.3,215.3 441.8,215.4 442.3,215.4 442.8,215.4 443.3,215.4" fill="none" stroke="#22b422" stroke-width="0.62" stroke-linejoin="round"/>
<path d="M273.3,218.8 273.8,219.2 274.3,219.6 274.8,220.0 275.3,220.3 275.8,220.6 276.3,220.9 276.8,221.2 277.3,221.4 277.8,221.6 278.3,221.8 278.8,221.9 279.3,222.0 279.8,222.0 280.3,222.0 280.8,222.0 281.3,221.9 281.8,221.8 282.3,221.6 282.8,221.5 283.3,221.3 283.8,221.1 284.3,220.9 284.8,220.7 285.3,220.4 285.8,220.2 286.3,219.9 286.8,219.6 287.3,219.4 287.8,219.1 288.3,218.8 288.8,218.6 289.3,218.3 289.8,218.1 290.3,217.9 290.8,217.6 291.3,217.4 291.8,217.2 292.3,216.9 292.8,216.6 293.3,216.4 293.8,216.1 294.3,215.9 294.8,215.6 295.3,215.3 295.8,215.1 296.3,214.8 296.8,214.5 297.3,214.3 297.8,214.0 298.3,213.8 298.8,213.6 299.3,213.3 299.8,213.1 300.3,212.9 300.8,212.6 301.3,212.4 301.8,212.1 302.3,211.9 302.8,211.7 303.3,211.5 303.8,211.3 304.3,211.1 304.8,211.0 305.3,211.0 305.8,210.9 306.3,210.8 306.8,210.8 307.3,210.7 307.8,210.7 308.3,210.7 308.8,210.6 309.3,210.6 309.8,210.6 310.3,210.6 310.8,210.6 311.3,210.6 311.8,210.6 312.3,210.6 312.8,210.6 313.3,210.6 313.8,210.6 314.3,210.6 314.8,210.6 315.3,210.6 315.8,210.6 316.3,210.6 316.8,210.6 317.3,210.6 317.8,210.6 318.3,210.6 318.8,210.6 319.3,210.6 319.8,210.6 320.3,210.6 320.8,210.6 321.3,210.6 321.8,210.6 322.3,210.6 322.8,210.6 323.3,210.6 323.8,210.6 324.3,210.6 324.8,210.6 325.3,210.6 325.8,210.6 326.3,210.6 326.8,210.6 327.3,210.6 327.8,210.6 328.3,210.6 328.8,210.6 329.3,210.6 329.8,210.6 330.3,210.6 330.8,210.6 331.3,210.6 331.8,210.6 332.3,210.6 332.8,210.6 333.3,210.6 333.8,210.6 334.3,210.6 334.8,210.6 335.3,210.6 335.8,210.6 336.3,210.6 336.8,210.6 337.3,210.6 337.8,210.6 338.3,210.6 338.8,210.6 339.3,210.6 339.8,210.6 340.3,210.6 340.8,210.6 341.3,210.6 341.8,210.6 342.3,210.6 342.8,210.6 343.3,210.6 343.8,210.6 344.3,210.6 344.8,210.6 345.3,210.6 345.8,210.6 346.3,210.6 346.8,210.6 347.3,210.6 347.8,210.6 348.3,210.6 348.8,210.6 349.3,210.6 349.8,210.6 350.3,210.6 350.8,210.6 351.3,210.6 351.8,210.6 352.3,210.6 352.8,210.7 353.3,210.7 353.8,210.7 354.3,210.7 354.8,210.7 355.3,210.8 355.8,210.8 356.3,210.8 356.8,210.9 357.3,210.9 357.8,210.9 358.3,211.0 358.8,211.0 359.3,211.1 359.8,211.1 360.3,211.1 360.8,211.2 361.3,211.2 361.8,211.3 362.3,211.3 362.8,211.4 363.3,211.4 363.8,211.4 364.3,211.5 364.8,211.5 365.3,211.5 365.8,211.6 366.3,211.6 366.8,211.6 367.3,211.7 367.8,211.7 368.3,211.7 368.8,211.8 369.3,211.8 369.8,211.8 370.3,211.8 370.8,211.9 371.3,211.9 371.8,211.9 372.3,211.9 372.8,212.0 373.3,212.0 373.8,212.0 374.3,212.0 374.8,212.1 375.3,212.1 375.8,212.1 376.3,212.2 376.8,212.2 377.3,212.2 377.8,212.2 378.3,212.3 378.8,212.3 379.3,212.3 379.8,212.3 380.3,212.4 380.8,212.4 381.3,212.4 381.8,212.4 382.3,212.5 382.8,212.5 383.3,212.5 383.8,212.5 384.3,212.5 384.8,212.6 385.3,212.6 385.8,212.6 386.3,212.6 386.8,212.7 387.3,212.7 387.8,212.7 388.3,212.7 388.8,212.7 389.3,212.7 389.8,212.8 390.3,212.8 390.8,212.8 391.3,212.8 391.8,212.8 392.3,212.8 392.8,212.8 393.3,212.9 393.8,212.9 394.3,212.9 394.8,212.9 395.3,212.9 395.8,212.9 396.3,212.9 396.8,212.9 397.3,212.9 397.8,213.0 398.3,213.0 398.8,213.0 399.3,213.0 399.8,213.0 400.3,213.0 400.8,213.0 401.3,213.0 401.8,213.0 402.3,213.0 402.8,212.8 403.3,212.6 403.8,212.4 404.3,212.1 404.8,211.8 405.3,211.6 405.8,211.5 406.3,211.5 406.8,211.7 407.3,211.9 407.8,212.1 408.3,212.4 408.8,212.5 409.3,212.5 409.8,212.3 410.3,212.1 410.8,211.9 411.3,211.6 411.8,211.3 412.3,211.1 412.8,211.0 413.3,211.0 413.8,211.0 414.3,211.1 414.8,211.1 415.3,211.2 415.8,211.2 416.3,211.3 416.8,211.4 417.3,211.4 417.8,211.5 418.3,211.5 418.8,211.6 419.3,211.6 419.8,211.6 420.3,211.7 420.8,211.7 421.3,211.7 421.8,211.8 422.3,211.8 422.8,211.9 423.3,211.9 423.8,212.0 424.3,212.1 424.8,212.2 425.3,212.4 425.8,212.6 426.3,212.9 426.8,213.1 427.3,213.3 427.8,213.5 428.3,213.6 428.8,213.6 429.3,213.7 429.8,213.8 430.3,213.9 430.8,214.0 431.3,214.0 431.8,214.1 432.3,214.2 432.8,214.2 433.3,214.3 433.8,214.4 434.3,214.4 434.8,214.5 435.3,214.5 435.8,214.6 436.3,214.6 436.8,214.7 437.3,214.7 437.8,214.8 438.3,214.8 438.8,214.8 439.3,214.9 439.8,214.9 440.3,214.9 440.8,214.9 441.3,215.0 441.8,215.0 442.3,215.0 442.8,215.0 443.3,215.0" fill="none" stroke="#22b422" stroke-width="0.6" stroke-linejoin="round" stroke-dasharray="2,1"/>
<path d="M273.3,207.6 273.8,206.8 274.3,207.2 274.8,206.7 275.3,207.5 275.8,206.8 276.3,207.5 276.8,208.0 277.3,208.7 277.8,208.4 278.3,208.4 278.8,209.3 279.3,208.2 279.8,208.1 280.3,206.0 280.8,205.7 281.3,204.2 281.8,205.2 282.3,205.3 282.8,205.3 283.3,205.0 283.8,204.7 284.3,204.0 284.8,203.9 285.3,203.5 285.8,203.0 286.3,201.6 286.8,201.5 287.3,202.5 287.8,203.2 288.3,202.9 288.8,202.4 289.3,201.3 289.8,201.2 290.3,200.4 290.8,201.0 291.3,200.3 291.8,200.5 292.3,199.8 292.8,199.8 293.3,199.5 293.8,199.1 294.3,199.2 294.8,198.6 295.3,197.8 295.8,197.5 296.3,197.5 296.8,197.8 297.3,197.4 297.8,197.0 298.3,196.3 298.8,195.3 299.3,194.7 299.8,194.4 300.3,194.5 300.8,194.0 301.3,193.5 301.8,193.3 302.3,193.0 302.8,192.6 303.3,191.9 303.8,191.8 304.3,191.6 304.8,191.4 305.3,191.0 305.8,190.7 306.3,190.4 306.8,189.9 307.3,189.6 307.8,189.3 308.3,189.0 308.8,188.6 309.3,188.3 309.8,188.1 310.3,187.8 310.8,187.5 311.3,187.3 311.8,187.0 312.3,186.7 312.8,186.5 313.3,186.2 313.8,186.0 314.3,185.7 314.8,185.4 315.3,185.0 315.8,184.7 316.3,184.3 316.8,183.9 317.3,183.5 317.8,183.0 318.3,182.6 318.8,182.2 319.3,181.7 319.8,181.3 320.3,180.9 320.8,180.5 321.3,180.1 321.8,179.7 322.3,179.3 322.8,179.0 323.3,178.6 323.8,178.2 324.3,177.8 324.8,177.5 325.3,177.1 325.8,176.7 326.3,176.4 326.8,176.0 327.3,175.6 327.8,175.2 328.3,174.8 328.8,174.5 329.3,174.2 329.8,173.9 330.3,173.7 330.8,173.5 331.3,173.4 331.8,173.2 332.3,173.1 332.8,173.0 333.3,172.9 333.8,172.7 334.3,172.7 334.8,172.6 335.3,172.5 335.8,172.4 336.3,172.3 336.8,172.3 337.3,172.2 337.8,172.1 338.3,172.1 338.8,172.0 339.3,171.9 339.8,171.9 340.3,171.8 340.8,171.8 341.3,171.7 341.8,171.7 342.3,171.7 342.8,171.7 343.3,171.7 343.8,171.7 344.3,171.7 344.8,171.7 345.3,171.8 345.8,171.8 346.3,171.8 346.8,171.8 347.3,171.9 347.8,171.9 348.3,172.0 348.8,172.0 349.3,172.0 349.8,172.1 350.3,172.1 350.8,172.2 351.3,172.3 351.8,172.3 352.3,172.4 352.8,172.5 353.3,172.6 353.8,172.7 354.3,172.8 354.8,172.9 355.3,173.0 355.8,173.2 356.3,173.3 356.8,173.5 357.3,173.7 357.8,173.9 358.3,174.1 358.8,174.4 359.3,174.6 359.8,174.8 360.3,175.0 360.8,175.3 361.3,175.5 361.8,175.7 362.3,175.9 362.8,176.2 363.3,176.4 363.8,176.7 364.3,176.9 364.8,177.2 365.3,177.4 365.8,177.7 366.3,178.0 366.8,178.2 367.3,178.5 367.8,178.7 368.3,179.0 368.8,179.2 369.3,179.5 369.8,179.7 370.3,179.9 370.8,180.1 371.3,180.4 371.8,180.6 372.3,180.8 372.8,181.0 373.3,181.2 373.8,181.4 374.3,181.6 374.8,181.8 375.3,181.9 375.8,182.1 376.3,182.3 376.8,182.5 377.3,182.7 377.8,182.8 378.3,183.0 378.8,183.2 379.3,183.3 379.8,183.5 380.3,183.6 380.8,183.8 381.3,183.9 381.8,184.1 382.3,184.2 382.8,184.4 383.3,184.5 383.8,184.6 384.3,184.8 384.8,184.9 385.3,185.0 385.8,185.2 386.3,185.3 386.8,185.4 387.3,185.5 387.8,185.6 388.3,185.7 388.8,185.8 389.3,185.9 389.8,186.0 390.3,186.1 390.8,186.2 391.3,186.3 391.8,186.4 392.3,186.5 392.8,186.6 393.3,186.7 393.8,186.8 394.3,186.9 394.8,186.9 395.3,187.0 395.8,187.0 396.3,187.1 396.8,187.1 397.3,187.1 397.8,187.1 398.3,187.1 398.8,187.0 399.3,187.0 399.8,186.9 400.3,186.7 400.8,186.6 401.3,186.4 401.8,186.1 402.3,185.8 402.8,185.5 403.3,185.1 403.8,184.6 404.3,184.1 404.8,183.4 405.3,182.6 405.8,181.6 406.3,180.3 406.8,178.9 407.3,177.3 407.8,175.7 408.3,174.3 408.8,172.8 409.3,171.2 409.8,169.0 410.3,166.2 410.8,162.7 411.3,158.3 411.8,153.5 412.3,148.5 412.8,144.2 413.3,141.5 413.8,141.4 414.3,143.7 414.8,147.9 415.3,153.0 415.8,158.2 416.3,162.9 416.8,166.9 417.3,170.3 417.8,173.0 418.3,175.2 418.8,176.9 419.3,178.2 419.8,179.2 420.3,179.8 420.8,180.1 421.3,180.1 421.8,179.7 422.3,178.8 422.8,177.3 423.3,175.1 423.8,172.1 424.3,168.2 424.8,164.3 425.3,161.9 425.8,162.5 426.3,165.9 426.8,170.5 427.3,174.9 427.8,178.4 428.3,181.1 428.8,183.2 429.3,184.7 429.8,186.0 430.3,186.9 430.8,187.7 431.3,188.3 431.8,188.9 432.3,189.3 432.8,189.7 433.3,190.0 433.8,190.3 434.3,190.5 434.8,190.8 435.3,191.0 435.8,191.2 436.3,191.3 436.8,191.5 437.3,191.7 437.8,191.8 438.3,191.9 438.8,192.0 439.3,192.2 439.8,192.3 440.3,192.4 440.8,192.5 441.3,192.6 441.8,192.7 442.3,192.7 442.8,192.8 443.3,192.9" fill="none" stroke="#dc2424" stroke-width="0.68" stroke-linejoin="round"/>
<path d="M273.3,209.9 273.8,209.9 274.3,210.8 274.8,210.9 275.3,211.6 275.8,211.3 276.3,210.9 276.8,211.0 277.3,210.5 277.8,208.2 278.3,207.6 278.8,206.9 279.3,208.9 279.8,208.5 280.3,208.9 280.8,208.3 281.3,208.4 281.8,207.3 282.3,207.4 282.8,206.9 283.3,207.3 283.8,205.8 284.3,206.1 284.8,205.9 285.3,206.6 285.8,205.5 286.3,205.8 286.8,205.7 287.3,205.5 287.8,205.3 288.3,204.1 288.8,204.1 289.3,203.4 289.8,203.7 290.3,202.9 290.8,202.3 291.3,202.1 291.8,202.4 292.3,202.1 292.8,201.5 293.3,200.7 293.8,200.8 294.3,200.5 294.8,200.2 295.3,199.1 295.8,198.4 296.3,198.0 296.8,197.6 297.3,197.6 297.8,197.5 298.3,197.3 298.8,197.0 299.3,196.7 299.8,196.2 300.3,196.0 300.8,195.2 301.3,195.3 301.8,194.6 302.3,194.6 302.8,193.9 303.3,193.7 303.8,193.2 304.3,192.9 304.8,192.4 305.3,192.2 305.8,191.8 306.3,191.5 306.8,191.2 307.3,190.8 307.8,190.5 308.3,190.1 308.8,189.8 309.3,189.6 309.8,189.3 310.3,189.0 310.8,188.7 311.3,188.4 311.8,188.2 312.3,187.9 312.8,187.7 313.3,187.4 313.8,187.1 314.3,186.8 314.8,186.5 315.3,186.2 315.8,185.9 316.3,185.5 316.8,185.1 317.3,184.7 317.8,184.3 318.3,183.9 318.8,183.5 319.3,183.1 319.8,182.7 320.3,182.3 320.8,181.9 321.3,181.5 321.8,181.2 322.3,180.8 322.8,180.5 323.3,180.1 323.8,179.7 324.3,179.4 324.8,179.1 325.3,178.7 325.8,178.4 326.3,178.0 326.8,177.7 327.3,177.3 327.8,177.0 328.3,176.6 328.8,176.3 329.3,176.0 329.8,175.7 330.3,175.5 330.8,175.4 331.3,175.2 331.8,175.1 332.3,175.0 332.8,174.8 333.3,174.7 333.8,174.6 334.3,174.5 334.8,174.5 335.3,174.4 335.8,174.3 336.3,174.2 336.8,174.2 337.3,174.1 337.8,174.0 338.3,174.0 338.8,173.9 339.3,173.8 339.8,173.8 340.3,173.8 340.8,173.7 341.3,173.7 341.8,173.7 342.3,173.7 342.8,173.7 343.3,173.7 343.8,173.7 344.3,173.7 344.8,173.7 345.3,173.7 345.8,173.8 346.3,173.8 346.8,173.8 347.3,173.9 347.8,173.9 348.3,174.0 348.8,174.0 349.3,174.1 349.8,174.1 350.3,174.2 350.8,174.2 351.3,174.3 351.8,174.4 352.3,174.4 352.8,174.5 353.3,174.6 353.8,174.7 354.3,174.8 354.8,174.9 355.3,175.0 355.8,175.2 356.3,175.3 356.8,175.5 357.3,175.7 357.8,175.9 358.3,176.1 358.8,176.3 359.3,176.5 359.8,176.7 360.3,176.9 360.8,177.2 361.3,177.4 361.8,177.6 362.3,177.8 362.8,178.1 363.3,178.3 363.8,178.6 364.3,178.8 364.8,179.1 365.3,179.3 365.8,179.6 366.3,179.8 366.8,180.1 367.3,180.3 367.8,180.6 368.3,180.8 368.8,181.0 369.3,181.3 369.8,181.5 370.3,181.7 370.8,181.9 371.3,182.1 371.8,182.3 372.3,182.5 372.8,182.7 373.3,182.9 373.8,183.0 374.3,183.2 374.8,183.4 375.3,183.6 375.8,183.7 376.3,183.9 376.8,184.1 377.3,184.2 377.8,184.4 378.3,184.5 378.8,184.7 379.3,184.9 379.8,185.0 380.3,185.1 380.8,185.3 381.3,185.4 381.8,185.6 382.3,185.7 382.8,185.8 383.3,186.0 383.8,186.1 384.3,186.2 384.8,186.3 385.3,186.5 385.8,186.6 386.3,186.7 386.8,186.8 387.3,186.9 387.8,187.0 388.3,187.1 388.8,187.2 389.3,187.3 389.8,187.4 390.3,187.5 390.8,187.6 391.3,187.7 391.8,187.8 392.3,187.9 392.8,188.0 393.3,188.1 393.8,188.1 394.3,188.2 394.8,188.3 395.3,188.3 395.8,188.4 396.3,188.4 396.8,188.4 397.3,188.5 397.8,188.5 398.3,188.4 398.8,188.4 399.3,188.3 399.8,188.2 400.3,188.1 400.8,188.0 401.3,187.8 401.8,187.6 402.3,187.3 402.8,187.0 403.3,186.6 403.8,186.2 404.3,185.7 404.8,185.0 405.3,184.2 405.8,183.3 406.3,182.1 406.8,180.8 407.3,179.3 407.8,177.8 408.3,176.4 408.8,175.0 409.3,173.4 409.8,171.4 410.3,168.7 410.8,165.3 411.3,161.2 411.8,156.5 412.3,151.8 412.8,147.7 413.3,145.2 413.8,145.0 414.3,147.2 414.8,151.3 415.3,156.1 415.8,161.0 416.3,165.5 416.8,169.4 417.3,172.6 417.8,175.2 418.3,177.3 418.8,178.9 419.3,180.2 419.8,181.1 420.3,181.7 420.8,182.0 421.3,181.9 421.8,181.5 422.3,180.7 422.8,179.3 423.3,177.1 423.8,174.2 424.3,170.4 424.8,166.7 425.3,164.3 425.8,164.9 426.3,168.2 426.8,172.7 427.3,176.9 427.8,180.3 428.3,182.9 428.8,184.9 429.3,186.5 429.8,187.6 430.3,188.6 430.8,189.3 431.3,189.9 431.8,190.4 432.3,190.9 432.8,191.2 433.3,191.6 433.8,191.8 434.3,192.1 434.8,192.3 435.3,192.5 435.8,192.7 436.3,192.9 436.8,193.0 437.3,193.2 437.8,193.3 438.3,193.4 438.8,193.6 439.3,193.7 439.8,193.8 440.3,193.9 440.8,194.0 441.3,194.1 441.8,194.2 442.3,194.3 442.8,194.4 443.3,194.4" fill="none" stroke="#dc2424" stroke-width="0.68" stroke-linejoin="round"/>
<path d="M273.3,209.5 273.8,209.9 274.3,210.2 274.8,210.7 275.3,210.9 275.8,211.8 276.3,211.4 276.8,211.2 277.3,209.6 277.8,210.8 278.3,210.1 278.8,211.3 279.3,211.3 279.8,212.1 280.3,211.5 280.8,209.0 281.3,208.6 281.8,207.5 282.3,208.0 282.8,206.2 283.3,205.6 283.8,205.1 284.3,203.4 284.8,200.9 285.3,196.4 285.8,190.8 286.3,183.5 286.8,187.3 287.3,194.1 287.8,199.7 288.3,202.4 288.8,203.8 289.3,204.4 289.8,204.2 290.3,204.0 290.8,203.6 291.3,203.0 291.8,203.0 292.3,202.7 292.8,202.4 293.3,201.9 293.8,202.0 294.3,201.5 294.8,201.4 295.3,201.2 295.8,200.9 296.3,200.2 296.8,199.7 297.3,199.5 297.8,199.4 298.3,199.1 298.8,198.9 299.3,198.6 299.8,198.0 300.3,197.3 300.8,197.0 301.3,196.6 301.8,196.5 302.3,196.2 302.8,196.0 303.3,195.5 303.8,195.1 304.3,194.5 304.8,194.1 305.3,193.7 305.8,193.3 306.3,193.0 306.8,192.7 307.3,192.3 307.8,191.9 308.3,191.5 308.8,191.2 309.3,190.9 309.8,190.5 310.3,190.2 310.8,190.0 311.3,189.7 311.8,189.4 312.3,189.1 312.8,188.9 313.3,188.6 313.8,188.3 314.3,188.1 314.8,187.8 315.3,187.5 315.8,187.1 316.3,186.8 316.8,186.4 317.3,186.0 317.8,185.7 318.3,185.3 318.8,184.9 319.3,184.5 319.8,184.1 320.3,183.8 320.8,183.4 321.3,183.1 321.8,182.7 322.3,182.4 322.8,182.1 323.3,181.7 323.8,181.4 324.3,181.1 324.8,180.8 325.3,180.4 325.8,180.1 326.3,179.8 326.8,179.5 327.3,179.2 327.8,178.8 328.3,178.5 328.8,178.2 329.3,177.9 329.8,177.7 330.3,177.5 330.8,177.4 331.3,177.2 331.8,177.1 332.3,177.0 332.8,176.9 333.3,176.8 333.8,176.7 334.3,176.6 334.8,176.5 335.3,176.4 335.8,176.4 336.3,176.3 336.8,176.2 337.3,176.1 337.8,176.1 338.3,176.0 338.8,176.0 339.3,175.9 339.8,175.9 340.3,175.8 340.8,175.8 341.3,175.8 341.8,175.8 342.3,175.8 342.8,175.8 343.3,175.8 343.8,175.8 344.3,175.8 344.8,175.9 345.3,175.9 345.8,175.9 346.3,176.0 346.8,176.0 347.3,176.0 347.8,176.1 348.3,176.1 348.8,176.2 349.3,176.2 349.8,176.3 350.3,176.3 350.8,176.4 351.3,176.5 351.8,176.5 352.3,176.6 352.8,176.7 353.3,176.8 353.8,176.9 354.3,177.0 354.8,177.1 355.3,177.2 355.8,177.3 356.3,177.5 356.8,177.6 357.3,177.8 357.8,178.0 358.3,178.2 358.8,178.4 359.3,178.6 359.8,178.8 360.3,179.0 360.8,179.2 361.3,179.4 361.8,179.6 362.3,179.9 362.8,180.1 363.3,180.4 363.8,180.6 364.3,180.9 364.8,181.1 365.3,181.4 365.8,181.6 366.3,181.8 366.8,182.1 367.3,182.3 367.8,182.5 368.3,182.8 368.8,183.0 369.3,183.2 369.8,183.4 370.3,183.6 370.8,183.8 371.3,184.0 371.8,184.1 372.3,184.3 372.8,184.5 373.3,184.7 373.8,184.8 374.3,185.0 374.8,185.2 375.3,185.3 375.8,185.5 376.3,185.6 376.8,185.8 377.3,185.9 377.8,186.1 378.3,186.2 378.8,186.4 379.3,186.5 379.8,186.6 380.3,186.8 380.8,186.9 381.3,187.0 381.8,187.2 382.3,187.3 382.8,187.4 383.3,187.5 383.8,187.7 384.3,187.8 384.8,187.9 385.3,188.0 385.8,188.1 386.3,188.2 386.8,188.3 387.3,188.4 387.8,188.5 388.3,188.6 388.8,188.7 389.3,188.8 389.8,188.9 390.3,189.0 390.8,189.1 391.3,189.1 391.8,189.2 392.3,189.3 392.8,189.4 393.3,189.5 393.8,189.5 394.3,189.6 394.8,189.7 395.3,189.7 395.8,189.8 396.3,189.8 396.8,189.8 397.3,189.8 397.8,189.8 398.3,189.8 398.8,189.8 399.3,189.7 399.8,189.6 400.3,189.5 400.8,189.4 401.3,189.2 401.8,189.0 402.3,188.8 402.8,188.5 403.3,188.1 403.8,187.7 404.3,187.2 404.8,186.5 405.3,185.8 405.8,184.9 406.3,183.8 406.8,182.4 407.3,181.0 407.8,179.5 408.3,178.2 408.8,176.8 409.3,175.2 409.8,173.1 410.3,170.4 410.8,167.0 411.3,163.0 411.8,158.3 412.3,153.6 412.8,149.5 413.3,147.1 413.8,146.9 414.3,149.1 414.8,153.1 415.3,157.9 415.8,162.8 416.3,167.3 416.8,171.1 417.3,174.3 417.8,176.9 418.3,179.0 418.8,180.6 419.3,181.9 419.8,182.8 420.3,183.4 420.8,183.7 421.3,183.8 421.8,183.4 422.3,182.7 422.8,181.4 423.3,179.4 423.8,176.6 424.3,173.1 424.8,169.5 425.3,167.3 425.8,167.9 426.3,171.1 426.8,175.3 427.3,179.2 427.8,182.5 428.3,185.0 428.8,186.9 429.3,188.3 429.8,189.5 430.3,190.4 430.8,191.1 431.3,191.7 431.8,192.2 432.3,192.6 432.8,192.9 433.3,193.2 433.8,193.5 434.3,193.8 434.8,194.0 435.3,194.2 435.8,194.4 436.3,194.5 436.8,194.7 437.3,194.8 437.8,195.0 438.3,195.1 438.8,195.2 439.3,195.3 439.8,195.4 440.3,195.5 440.8,195.6 441.3,195.7 441.8,195.8 442.3,195.9 442.8,196.0 443.3,196.1" fill="none" stroke="#dc2424" stroke-width="0.68" stroke-linejoin="round"/>
<path d="M273.3,212.4 273.8,212.8 274.3,212.9 274.8,213.4 275.3,212.4 275.8,212.1 276.3,212.8 276.8,213.3 277.3,213.9 277.8,213.2 278.3,212.7 278.8,212.0 279.3,211.1 279.8,212.4 280.3,212.2 280.8,213.3 281.3,211.2 281.8,210.5 282.3,209.8 282.8,210.7 283.3,210.6 283.8,209.9 284.3,209.5 284.8,209.5 285.3,210.0 285.8,208.8 286.3,207.8 286.8,206.7 287.3,207.2 287.8,207.5 288.3,207.4 288.8,207.0 289.3,206.9 289.8,207.2 290.3,206.6 290.8,206.0 291.3,205.4 291.8,206.1 292.3,205.7 292.8,205.4 293.3,204.4 293.8,204.2 294.3,204.0 294.8,203.7 295.3,203.3 295.8,202.7 296.3,202.5 296.8,202.1 297.3,201.5 297.8,201.4 298.3,201.0 298.8,200.9 299.3,200.3 299.8,199.9 300.3,199.1 300.8,198.5 301.3,198.3 301.8,198.1 302.3,197.9 302.8,197.2 303.3,196.7 303.8,196.3 304.3,196.1 304.8,195.7 305.3,195.2 305.8,194.7 306.3,194.4 306.8,194.0 307.3,193.5 307.8,193.2 308.3,192.9 308.8,192.6 309.3,192.2 309.8,191.9 310.3,191.6 310.8,191.3 311.3,191.0 311.8,190.7 312.3,190.4 312.8,190.2 313.3,189.9 313.8,189.6 314.3,189.3 314.8,189.0 315.3,188.7 315.8,188.4 316.3,188.1 316.8,187.8 317.3,187.4 317.8,187.0 318.3,186.7 318.8,186.3 319.3,186.0 319.8,185.6 320.3,185.3 320.8,184.9 321.3,184.6 321.8,184.3 322.3,184.0 322.8,183.7 323.3,183.4 323.8,183.1 324.3,182.8 324.8,182.5 325.3,182.2 325.8,181.9 326.3,181.6 326.8,181.3 327.3,181.0 327.8,180.7 328.3,180.4 328.8,180.2 329.3,179.9 329.8,179.7 330.3,179.5 330.8,179.4 331.3,179.3 331.8,179.1 332.3,179.0 332.8,178.9 333.3,178.8 333.8,178.7 334.3,178.6 334.8,178.6 335.3,178.5 335.8,178.4 336.3,178.3 336.8,178.3 337.3,178.2 337.8,178.2 338.3,178.1 338.8,178.1 339.3,178.0 339.8,178.0 340.3,177.9 340.8,177.9 341.3,177.9 341.8,177.9 342.3,177.9 342.8,177.9 343.3,177.9 343.8,177.9 344.3,178.0 344.8,178.0 345.3,178.0 345.8,178.1 346.3,178.1 346.8,178.2 347.3,178.2 347.8,178.3 348.3,178.3 348.8,178.4 349.3,178.4 349.8,178.5 350.3,178.5 350.8,178.6 351.3,178.6 351.8,178.7 352.3,178.8 352.8,178.9 353.3,179.0 353.8,179.1 354.3,179.2 354.8,179.3 355.3,179.4 355.8,179.5 356.3,179.6 356.8,179.8 357.3,180.0 357.8,180.1 358.3,180.3 358.8,180.5 359.3,180.7 359.8,180.9 360.3,181.1 360.8,181.3 361.3,181.5 361.8,181.7 362.3,181.9 362.8,182.2 363.3,182.4 363.8,182.6 364.3,182.9 364.8,183.1 365.3,183.4 365.8,183.6 366.3,183.9 366.8,184.1 367.3,184.3 367.8,184.5 368.3,184.7 368.8,184.9 369.3,185.1 369.8,185.3 370.3,185.5 370.8,185.7 371.3,185.8 371.8,186.0 372.3,186.2 372.8,186.3 373.3,186.5 373.8,186.6 374.3,186.8 374.8,186.9 375.3,187.1 375.8,187.2 376.3,187.4 376.8,187.5 377.3,187.6 377.8,187.8 378.3,187.9 378.8,188.0 379.3,188.2 379.8,188.3 380.3,188.4 380.8,188.5 381.3,188.6 381.8,188.8 382.3,188.9 382.8,189.0 383.3,189.1 383.8,189.2 384.3,189.3 384.8,189.4 385.3,189.5 385.8,189.6 386.3,189.7 386.8,189.8 387.3,189.9 387.8,190.0 388.3,190.1 388.8,190.2 389.3,190.3 389.8,190.4 390.3,190.4 390.8,190.5 391.3,190.6 391.8,190.7 392.3,190.8 392.8,190.8 393.3,190.9 393.8,191.0 394.3,191.0 394.8,191.1 395.3,191.1 395.8,191.2 396.3,191.2 396.8,191.2 397.3,191.3 397.8,191.3 398.3,191.2 398.8,191.2 399.3,191.2 399.8,191.1 400.3,191.0 400.8,190.8 401.3,190.7 401.8,190.5 402.3,190.3 402.8,190.0 403.3,189.6 403.8,189.2 404.3,188.7 404.8,188.2 405.3,187.4 405.8,186.6 406.3,185.5 406.8,184.3 407.3,182.9 407.8,181.5 408.3,180.1 408.8,178.8 409.3,177.2 409.8,175.2 410.3,172.6 410.8,169.3 411.3,165.3 411.8,160.8 412.3,156.2 412.8,152.2 413.3,149.8 413.8,149.6 414.3,151.8 414.8,155.7 415.3,160.4 415.8,165.1 416.3,169.5 416.8,173.2 417.3,176.3 417.8,178.8 418.3,180.9 418.8,182.5 419.3,183.7 419.8,184.6 420.3,185.2 420.8,185.5 421.3,185.5 421.8,185.2 422.3,184.4 422.8,183.2 423.3,181.2 423.8,178.5 424.3,175.0 424.8,171.6 425.3,169.4 425.8,170.0 426.3,173.1 426.8,177.2 427.3,181.1 427.8,184.3 428.3,186.8 428.8,188.6 429.3,190.1 429.8,191.2 430.3,192.0 430.8,192.7 431.3,193.3 431.8,193.8 432.3,194.2 432.8,194.6 433.3,194.9 433.8,195.1 434.3,195.4 434.8,195.6 435.3,195.8 435.8,196.0 436.3,196.2 436.8,196.3 437.3,196.5 437.8,196.6 438.3,196.7 438.8,196.8 439.3,196.9 439.8,197.1 440.3,197.2 440.8,197.3 441.3,197.4 441.8,197.4 442.3,197.5 442.8,197.6 443.3,197.7" fill="none" stroke="#dc2424" stroke-width="0.68" stroke-linejoin="round"/>
<path d="M273.3,213.5 273.8,213.7 274.3,214.3 274.8,213.7 275.3,214.0 275.8,214.3 276.3,214.4 276.8,215.1 277.3,214.4 277.8,214.8 278.3,213.8 278.8,214.8 279.3,214.7 279.8,214.5 280.3,213.8 280.8,213.6 281.3,213.8 281.8,212.8 282.3,211.9 282.8,210.6 283.3,210.2 283.8,210.6 284.3,211.0 284.8,211.1 285.3,210.6 285.8,209.3 286.3,209.6 286.8,209.6 287.3,209.5 287.8,208.7 288.3,208.3 288.8,209.3 289.3,209.4 289.8,209.5 290.3,209.3 290.8,209.1 291.3,208.1 291.8,207.0 292.3,206.4 292.8,206.6 293.3,206.8 293.8,206.2 294.3,205.8 294.8,205.1 295.3,205.0 295.8,204.7 296.3,204.6 296.8,204.2 297.3,203.4 297.8,203.1 298.3,202.8 298.8,202.6 299.3,202.0 299.8,201.6 300.3,201.4 300.8,200.9 301.3,200.5 301.8,199.9 302.3,199.5 302.8,199.1 303.3,198.6 303.8,198.2 304.3,197.8 304.8,197.6 305.3,197.2 305.8,196.5 306.3,196.1 306.8,195.7 307.3,195.3 307.8,194.8 308.3,194.4 308.8,194.0 309.3,193.6 309.8,193.3 310.3,193.0 310.8,192.7 311.3,192.4 311.8,192.1 312.3,191.8 312.8,191.5 313.3,191.2 313.8,191.0 314.3,190.7 314.8,190.4 315.3,190.1 315.8,189.8 316.3,189.5 316.8,189.2 317.3,188.8 317.8,188.5 318.3,188.2 318.8,187.8 319.3,187.5 319.8,187.2 320.3,186.9 320.8,186.6 321.3,186.3 321.8,186.0 322.3,185.7 322.8,185.4 323.3,185.1 323.8,184.9 324.3,184.6 324.8,184.3 325.3,184.1 325.8,183.8 326.3,183.6 326.8,183.3 327.3,183.0 327.8,182.7 328.3,182.5 328.8,182.2 329.3,182.0 329.8,181.8 330.3,181.7 330.8,181.6 331.3,181.4 331.8,181.3 332.3,181.2 332.8,181.1 333.3,181.0 333.8,180.9 334.3,180.9 334.8,180.8 335.3,180.7 335.8,180.6 336.3,180.6 336.8,180.5 337.3,180.4 337.8,180.4 338.3,180.3 338.8,180.3 339.3,180.3 339.8,180.2 340.3,180.2 340.8,180.2 341.3,180.2 341.8,180.2 342.3,180.2 342.8,180.2 343.3,180.2 343.8,180.2 344.3,180.3 344.8,180.3 345.3,180.4 345.8,180.4 346.3,180.4 346.8,180.5 347.3,180.5 347.8,180.6 348.3,180.7 348.8,180.7 349.3,180.8 349.8,180.8 350.3,180.9 350.8,180.9 351.3,181.0 351.8,181.1 352.3,181.2 352.8,181.2 353.3,181.3 353.8,181.4 354.3,181.5 354.8,181.6 355.3,181.7 355.8,181.9 356.3,182.0 356.8,182.1 357.3,182.3 357.8,182.4 358.3,182.6 358.8,182.8 359.3,183.0 359.8,183.1 360.3,183.3 360.8,183.5 361.3,183.7 361.8,183.9 362.3,184.1 362.8,184.4 363.3,184.6 363.8,184.9 364.3,185.1 364.8,185.3 365.3,185.6 365.8,185.8 366.3,186.1 366.8,186.3 367.3,186.5 367.8,186.7 368.3,186.9 368.8,187.0 369.3,187.2 369.8,187.4 370.3,187.6 370.8,187.7 371.3,187.9 371.8,188.0 372.3,188.2 372.8,188.3 373.3,188.4 373.8,188.6 374.3,188.7 374.8,188.8 375.3,189.0 375.8,189.1 376.3,189.2 376.8,189.4 377.3,189.5 377.8,189.6 378.3,189.7 378.8,189.8 379.3,190.0 379.8,190.1 380.3,190.2 380.8,190.3 381.3,190.4 381.8,190.5 382.3,190.6 382.8,190.7 383.3,190.8 383.8,190.9 384.3,191.0 384.8,191.1 385.3,191.2 385.8,191.3 386.3,191.4 386.8,191.5 387.3,191.6 387.8,191.7 388.3,191.8 388.8,191.8 389.3,191.9 389.8,192.0 390.3,192.1 390.8,192.1 391.3,192.2 391.8,192.3 392.3,192.4 392.8,192.4 393.3,192.5 393.8,192.6 394.3,192.6 394.8,192.7 395.3,192.7 395.8,192.8 396.3,192.8 396.8,192.8 397.3,192.9 397.8,192.9 398.3,192.9 398.8,192.8 399.3,192.8 399.8,192.7 400.3,192.7 400.8,192.5 401.3,192.4 401.8,192.2 402.3,192.0 402.8,191.8 403.3,191.5 403.8,191.1 404.3,190.7 404.8,190.2 405.3,189.5 405.8,188.7 406.3,187.8 406.8,186.6 407.3,185.4 407.8,184.1 408.3,182.9 408.8,181.6 409.3,180.2 409.8,178.4 410.3,176.0 410.8,172.9 411.3,169.3 411.8,165.2 412.3,161.0 412.8,157.3 413.3,155.1 413.8,155.0 414.3,157.0 414.8,160.5 415.3,164.8 415.8,169.2 416.3,173.2 416.8,176.6 417.3,179.5 417.8,181.8 418.3,183.6 418.8,185.1 419.3,186.2 419.8,187.1 420.3,187.6 420.8,187.9 421.3,187.9 421.8,187.6 422.3,186.8 422.8,185.6 423.3,183.8 423.8,181.2 424.3,178.0 424.8,174.7 425.3,172.6 425.8,173.2 426.3,176.1 426.8,180.0 427.3,183.7 427.8,186.7 428.3,189.0 428.8,190.8 429.3,192.2 429.8,193.2 430.3,194.0 430.8,194.7 431.3,195.3 431.8,195.7 432.3,196.1 432.8,196.5 433.3,196.7 433.8,197.0 434.3,197.2 434.8,197.4 435.3,197.6 435.8,197.8 436.3,198.0 436.8,198.1 437.3,198.3 437.8,198.4 438.3,198.5 438.8,198.6 439.3,198.7 439.8,198.9 440.3,199.0 440.8,199.1 441.3,199.1 441.8,199.2 442.3,199.3 442.8,199.4 443.3,199.5" fill="none" stroke="#dc2424" stroke-width="0.68" stroke-linejoin="round"/>
<path d="M273.3,214.9 273.8,214.1 274.3,213.6 274.8,213.1 275.3,215.1 275.8,216.3 276.3,217.1 276.8,216.1 277.3,216.2 277.8,216.7 278.3,217.2 278.8,216.9 279.3,216.4 279.8,216.1 280.3,216.0 280.8,215.5 281.3,214.5 281.8,212.8 282.3,211.9 282.8,211.3 283.3,211.1 283.8,210.0 284.3,208.1 284.8,206.3 285.3,201.9 285.8,194.7 286.3,186.4 286.8,189.9 287.3,198.5 287.8,203.2 288.3,206.2 288.8,207.1 289.3,208.3 289.8,208.3 290.3,208.8 290.8,209.2 291.3,209.7 291.8,209.0 292.3,208.1 292.8,208.2 293.3,207.6 293.8,207.3 294.3,206.6 294.8,206.9 295.3,206.6 295.8,206.3 296.3,205.5 296.8,205.6 297.3,205.2 297.8,205.1 298.3,204.8 298.8,204.4 299.3,203.6 299.8,203.2 300.3,202.7 300.8,202.8 301.3,202.2 301.8,201.8 302.3,201.2 302.8,200.9 303.3,200.4 303.8,200.0 304.3,199.4 304.8,198.9 305.3,198.6 305.8,198.2 306.3,197.8 306.8,197.3 307.3,196.8 307.8,196.3 308.3,195.9 308.8,195.5 309.3,195.1 309.8,194.7 310.3,194.3 310.8,194.0 311.3,193.7 311.8,193.4 312.3,193.1 312.8,192.8 313.3,192.6 313.8,192.3 314.3,192.0 314.8,191.7 315.3,191.5 315.8,191.2 316.3,190.9 316.8,190.6 317.3,190.3 317.8,190.0 318.3,189.7 318.8,189.4 319.3,189.1 319.8,188.8 320.3,188.5 320.8,188.2 321.3,187.9 321.8,187.7 322.3,187.4 322.8,187.1 323.3,186.9 323.8,186.7 324.3,186.4 324.8,186.2 325.3,185.9 325.8,185.7 326.3,185.5 326.8,185.2 327.3,185.0 327.8,184.8 328.3,184.5 328.8,184.3 329.3,184.1 329.8,184.0 330.3,183.8 330.8,183.7 331.3,183.6 331.8,183.5 332.3,183.4 332.8,183.3 333.3,183.2 333.8,183.1 334.3,183.1 334.8,183.0 335.3,182.9 335.8,182.8 336.3,182.8 336.8,182.7 337.3,182.7 337.8,182.6 338.3,182.6 338.8,182.5 339.3,182.5 339.8,182.5 340.3,182.4 340.8,182.4 341.3,182.4 341.8,182.4 342.3,182.5 342.8,182.5 343.3,182.5 343.8,182.5 344.3,182.6 344.8,182.6 345.3,182.7 345.8,182.7 346.3,182.8 346.8,182.8 347.3,182.9 347.8,182.9 348.3,183.0 348.8,183.1 349.3,183.1 349.8,183.2 350.3,183.2 350.8,183.3 351.3,183.4 351.8,183.4 352.3,183.5 352.8,183.6 353.3,183.7 353.8,183.8 354.3,183.9 354.8,184.0 355.3,184.1 355.8,184.2 356.3,184.3 356.8,184.5 357.3,184.6 357.8,184.7 358.3,184.9 358.8,185.1 359.3,185.2 359.8,185.4 360.3,185.5 360.8,185.7 361.3,185.9 361.8,186.1 362.3,186.4 362.8,186.6 363.3,186.8 363.8,187.1 364.3,187.3 364.8,187.5 365.3,187.8 365.8,188.0 366.3,188.2 366.8,188.5 367.3,188.6 367.8,188.8 368.3,189.0 368.8,189.2 369.3,189.3 369.8,189.5 370.3,189.6 370.8,189.8 371.3,189.9 371.8,190.0 372.3,190.2 372.8,190.3 373.3,190.4 373.8,190.5 374.3,190.6 374.8,190.8 375.3,190.9 375.8,191.0 376.3,191.1 376.8,191.2 377.3,191.3 377.8,191.4 378.3,191.5 378.8,191.6 379.3,191.7 379.8,191.9 380.3,192.0 380.8,192.1 381.3,192.2 381.8,192.3 382.3,192.4 382.8,192.5 383.3,192.6 383.8,192.6 384.3,192.7 384.8,192.8 385.3,192.9 385.8,193.0 386.3,193.1 386.8,193.2 387.3,193.2 387.8,193.3 388.3,193.4 388.8,193.5 389.3,193.5 389.8,193.6 390.3,193.7 390.8,193.8 391.3,193.8 391.8,193.9 392.3,194.0 392.8,194.0 393.3,194.1 393.8,194.2 394.3,194.2 394.8,194.3 395.3,194.3 395.8,194.4 396.3,194.4 396.8,194.4 397.3,194.5 397.8,194.5 398.3,194.5 398.8,194.5 399.3,194.5 399.8,194.4 400.3,194.3 400.8,194.2 401.3,194.1 401.8,194.0 402.3,193.8 402.8,193.6 403.3,193.3 403.8,193.0 404.3,192.6 404.8,192.2 405.3,191.6 405.8,190.9 406.3,190.0 406.8,189.0 407.3,187.8 407.8,186.7 408.3,185.6 408.8,184.5 409.3,183.2 409.8,181.5 410.3,179.3 410.8,176.6 411.3,173.3 411.8,169.6 412.3,165.8 412.8,162.5 413.3,160.5 413.8,160.3 414.3,162.1 414.8,165.4 415.3,169.3 415.8,173.3 416.3,176.9 416.8,180.0 417.3,182.6 417.8,184.7 418.3,186.4 418.8,187.8 419.3,188.8 419.8,189.5 420.3,190.0 420.8,190.3 421.3,190.3 421.8,189.9 422.3,189.3 422.8,188.1 423.3,186.4 423.8,183.9 424.3,180.9 424.8,177.8 425.3,175.9 425.8,176.4 426.3,179.1 426.8,182.8 427.3,186.3 427.8,189.1 428.3,191.3 428.8,193.0 429.3,194.3 429.8,195.3 430.3,196.0 430.8,196.7 431.3,197.2 431.8,197.6 432.3,198.0 432.8,198.3 433.3,198.6 433.8,198.9 434.3,199.1 434.8,199.3 435.3,199.5 435.8,199.6 436.3,199.8 436.8,199.9 437.3,200.1 437.8,200.2 438.3,200.3 438.8,200.4 439.3,200.5 439.8,200.7 440.3,200.8 440.8,200.9 441.3,200.9 441.8,201.0 442.3,201.1 442.8,201.2 443.3,201.3" fill="none" stroke="#dc2424" stroke-width="0.68" stroke-linejoin="round" stroke-dasharray="2,1"/>
<path d="M273.3,218.0 273.8,218.3 274.3,218.2 274.8,217.6 275.3,217.4 275.8,217.5 276.3,216.8 276.8,217.2 277.3,216.6 277.8,217.8 278.3,217.4 278.8,218.6 279.3,218.9 279.8,219.0 280.3,218.4 280.8,216.6 281.3,215.7 281.8,215.1 282.3,216.3 282.8,216.5 283.3,216.3 283.8,215.5 284.3,216.0 284.8,215.4 285.3,214.5 285.8,213.4 286.3,213.4 286.8,214.1 287.3,213.9 287.8,214.0 288.3,213.1 288.8,213.1 289.3,212.1 289.8,212.3 290.3,211.7 290.8,212.1 291.3,212.5 291.8,211.7 292.3,211.0 292.8,210.3 293.3,210.3 293.8,210.1 294.3,209.6 294.8,209.7 295.3,209.1 295.8,209.0 296.3,208.3 296.8,208.1 297.3,207.4 297.8,207.1 298.3,206.7 298.8,206.8 299.3,206.6 299.8,206.2 300.3,205.3 300.8,204.6 301.3,204.3 301.8,203.6 302.3,203.2 302.8,202.7 303.3,202.3 303.8,201.8 304.3,201.6 304.8,201.1 305.3,200.6 305.8,199.9 306.3,199.5 306.8,199.1 307.3,198.7 307.8,198.2 308.3,197.7 308.8,197.2 309.3,196.7 309.8,196.3 310.3,196.0 310.8,195.6 311.3,195.3 311.8,195.0 312.3,194.7 312.8,194.4 313.3,194.1 313.8,193.9 314.3,193.6 314.8,193.3 315.3,193.0 315.8,192.8 316.3,192.5 316.8,192.2 317.3,192.0 317.8,191.7 318.3,191.4 318.8,191.1 319.3,190.9 319.8,190.6 320.3,190.3 320.8,190.1 321.3,189.9 321.8,189.6 322.3,189.4 322.8,189.2 323.3,188.9 323.8,188.7 324.3,188.5 324.8,188.3 325.3,188.1 325.8,187.9 326.3,187.7 326.8,187.5 327.3,187.3 327.8,187.1 328.3,186.9 328.8,186.7 329.3,186.6 329.8,186.4 330.3,186.3 330.8,186.2 331.3,186.1 331.8,186.0 332.3,185.9 332.8,185.8 333.3,185.7 333.8,185.7 334.3,185.6 334.8,185.5 335.3,185.4 335.8,185.4 336.3,185.3 336.8,185.3 337.3,185.2 337.8,185.2 338.3,185.1 338.8,185.1 339.3,185.1 339.8,185.0 340.3,185.0 340.8,185.0 341.3,185.0 341.8,185.1 342.3,185.1 342.8,185.1 343.3,185.1 343.8,185.2 344.3,185.2 344.8,185.3 345.3,185.3 345.8,185.4 346.3,185.4 346.8,185.5 347.3,185.6 347.8,185.6 348.3,185.7 348.8,185.7 349.3,185.8 349.8,185.9 350.3,185.9 350.8,186.0 351.3,186.1 351.8,186.1 352.3,186.2 352.8,186.3 353.3,186.4 353.8,186.5 354.3,186.6 354.8,186.7 355.3,186.8 355.8,186.9 356.3,187.0 356.8,187.1 357.3,187.2 357.8,187.4 358.3,187.5 358.8,187.7 359.3,187.8 359.8,188.0 360.3,188.1 360.8,188.3 361.3,188.5 361.8,188.7 362.3,188.9 362.8,189.1 363.3,189.4 363.8,189.6 364.3,189.8 364.8,190.1 365.3,190.3 365.8,190.5 366.3,190.7 366.8,190.9 367.3,191.1 367.8,191.3 368.3,191.4 368.8,191.6 369.3,191.7 369.8,191.9 370.3,192.0 370.8,192.1 371.3,192.2 371.8,192.3 372.3,192.5 372.8,192.6 373.3,192.7 373.8,192.8 374.3,192.9 374.8,193.0 375.3,193.1 375.8,193.2 376.3,193.3 376.8,193.3 377.3,193.4 377.8,193.5 378.3,193.6 378.8,193.7 379.3,193.8 379.8,193.9 380.3,194.0 380.8,194.1 381.3,194.2 381.8,194.3 382.3,194.4 382.8,194.4 383.3,194.5 383.8,194.6 384.3,194.7 384.8,194.8 385.3,194.8 385.8,194.9 386.3,195.0 386.8,195.1 387.3,195.2 387.8,195.2 388.3,195.3 388.8,195.4 389.3,195.4 389.8,195.5 390.3,195.6 390.8,195.6 391.3,195.7 391.8,195.8 392.3,195.8 392.8,195.9 393.3,195.9 393.8,196.0 394.3,196.1 394.8,196.1 395.3,196.2 395.8,196.2 396.3,196.3 396.8,196.3 397.3,196.3 397.8,196.4 398.3,196.4 398.8,196.4 399.3,196.4 399.8,196.4 400.3,196.3 400.8,196.2 401.3,196.2 401.8,196.0 402.3,195.9 402.8,195.7 403.3,195.5 403.8,195.3 404.3,194.9 404.8,194.5 405.3,194.0 405.8,193.4 406.3,192.7 406.8,191.8 407.3,190.9 407.8,189.9 408.3,188.9 408.8,188.0 409.3,186.9 409.8,185.5 410.3,183.6 410.8,181.3 411.3,178.4 411.8,175.2 412.3,171.9 412.8,169.1 413.3,167.4 413.8,167.3 414.3,168.9 414.8,171.7 415.3,175.1 415.8,178.5 416.3,181.7 416.8,184.4 417.3,186.6 417.8,188.4 418.3,189.9 418.8,191.1 419.3,191.9 419.8,192.6 420.3,193.0 420.8,193.2 421.3,193.2 421.8,192.9 422.3,192.3 422.8,191.2 423.3,189.6 423.8,187.4 424.3,184.7 424.8,181.9 425.3,180.2 425.8,180.6 426.3,183.1 426.8,186.4 427.3,189.6 427.8,192.2 428.3,194.1 428.8,195.7 429.3,196.8 429.8,197.7 430.3,198.4 430.8,199.0 431.3,199.5 431.8,199.9 432.3,200.2 432.8,200.5 433.3,200.8 433.8,201.0 434.3,201.2 434.8,201.4 435.3,201.6 435.8,201.8 436.3,201.9 436.8,202.0 437.3,202.2 437.8,202.3 438.3,202.4 438.8,202.5 439.3,202.6 439.8,202.7 440.3,202.8 440.8,202.9 441.3,203.0 441.8,203.1 442.3,203.2 442.8,203.3 443.3,203.3" fill="none" stroke="#dc2424" stroke-width="0.68" stroke-linejoin="round"/>
<path d="M273.3,220.7 273.8,220.7 274.3,220.0 274.8,219.3 275.3,220.1 275.8,220.9 276.3,221.5 276.8,222.0 277.3,221.1 277.8,220.7 278.3,220.0 278.8,220.2 279.3,221.4 279.8,221.5 280.3,221.0 280.8,219.9 281.3,219.3 281.8,219.2 282.3,218.4 282.8,217.7 283.3,217.2 283.8,217.1 284.3,217.6 284.8,217.5 285.3,217.3 285.8,216.4 286.3,216.6 286.8,216.7 287.3,216.4 287.8,216.0 288.3,216.3 288.8,215.8 289.3,215.4 289.8,215.4 290.3,216.3 290.8,216.3 291.3,215.6 291.8,214.3 292.3,213.9 292.8,213.2 293.3,213.1 293.8,212.8 294.3,212.3 294.8,211.9 295.3,211.8 295.8,211.8 296.3,211.1 296.8,210.1 297.3,209.3 297.8,209.2 298.3,208.8 298.8,208.6 299.3,208.1 299.8,207.9 300.3,207.5 300.8,207.1 301.3,206.5 301.8,205.9 302.3,205.6 302.8,205.1 303.3,204.6 303.8,203.9 304.3,203.5 304.8,203.2 305.3,202.8 305.8,202.2 306.3,201.5 306.8,200.9 307.3,200.5 307.8,200.0 308.3,199.5 308.8,199.0 309.3,198.5 309.8,198.1 310.3,197.8 310.8,197.4 311.3,197.1 311.8,196.7 312.3,196.4 312.8,196.1 313.3,195.9 313.8,195.6 314.3,195.3 314.8,195.1 315.3,194.8 315.8,194.6 316.3,194.3 316.8,194.1 317.3,193.8 317.8,193.6 318.3,193.3 318.8,193.1 319.3,192.9 319.8,192.6 320.3,192.4 320.8,192.2 321.3,192.0 321.8,191.8 322.3,191.6 322.8,191.4 323.3,191.2 323.8,191.0 324.3,190.9 324.8,190.7 325.3,190.5 325.8,190.3 326.3,190.2 326.8,190.0 327.3,189.9 327.8,189.7 328.3,189.6 328.8,189.4 329.3,189.3 329.8,189.2 330.3,189.1 330.8,189.0 331.3,188.9 331.8,188.8 332.3,188.7 332.8,188.7 333.3,188.6 333.8,188.5 334.3,188.4 334.8,188.4 335.3,188.3 335.8,188.2 336.3,188.2 336.8,188.1 337.3,188.1 337.8,188.0 338.3,188.0 338.8,188.0 339.3,188.0 339.8,187.9 340.3,187.9 340.8,188.0 341.3,188.0 341.8,188.0 342.3,188.0 342.8,188.1 343.3,188.1 343.8,188.1 344.3,188.2 344.8,188.2 345.3,188.3 345.8,188.4 346.3,188.4 346.8,188.5 347.3,188.6 347.8,188.6 348.3,188.7 348.8,188.8 349.3,188.8 349.8,188.9 350.3,189.0 350.8,189.0 351.3,189.1 351.8,189.2 352.3,189.3 352.8,189.3 353.3,189.4 353.8,189.5 354.3,189.6 354.8,189.7 355.3,189.8 355.8,189.9 356.3,190.0 356.8,190.1 357.3,190.2 357.8,190.3 358.3,190.5 358.8,190.6 359.3,190.7 359.8,190.8 360.3,191.0 360.8,191.1 361.3,191.3 361.8,191.5 362.3,191.7 362.8,192.0 363.3,192.2 363.8,192.4 364.3,192.7 364.8,192.9 365.3,193.1 365.8,193.4 366.3,193.6 366.8,193.7 367.3,193.9 367.8,194.1 368.3,194.2 368.8,194.3 369.3,194.4 369.8,194.5 370.3,194.6 370.8,194.7 371.3,194.8 371.8,194.9 372.3,195.0 372.8,195.1 373.3,195.2 373.8,195.3 374.3,195.4 374.8,195.4 375.3,195.5 375.8,195.6 376.3,195.7 376.8,195.7 377.3,195.8 377.8,195.9 378.3,196.0 378.8,196.0 379.3,196.1 379.8,196.2 380.3,196.3 380.8,196.4 381.3,196.4 381.8,196.5 382.3,196.6 382.8,196.7 383.3,196.7 383.8,196.8 384.3,196.9 384.8,197.0 385.3,197.0 385.8,197.1 386.3,197.2 386.8,197.2 387.3,197.3 387.8,197.3 388.3,197.4 388.8,197.5 389.3,197.5 389.8,197.6 390.3,197.7 390.8,197.7 391.3,197.8 391.8,197.8 392.3,197.9 392.8,197.9 393.3,198.0 393.8,198.1 394.3,198.1 394.8,198.2 395.3,198.2 395.8,198.3 396.3,198.3 396.8,198.4 397.3,198.4 397.8,198.4 398.3,198.5 398.8,198.5 399.3,198.5 399.8,198.5 400.3,198.5 400.8,198.4 401.3,198.4 401.8,198.3 402.3,198.2 402.8,198.1 403.3,197.9 403.8,197.7 404.3,197.5 404.8,197.1 405.3,196.7 405.8,196.2 406.3,195.6 406.8,194.9 407.3,194.1 407.8,193.3 408.3,192.5 408.8,191.7 409.3,190.8 409.8,189.6 410.3,188.1 410.8,186.1 411.3,183.7 411.8,181.0 412.3,178.3 412.8,175.9 413.3,174.5 413.8,174.4 414.3,175.7 414.8,178.1 415.3,181.0 415.8,183.9 416.3,186.6 416.8,188.9 417.3,190.8 417.8,192.3 418.3,193.6 418.8,194.5 419.3,195.3 419.8,195.8 420.3,196.2 420.8,196.3 421.3,196.3 421.8,196.0 422.3,195.4 422.8,194.5 423.3,193.0 423.8,191.0 424.3,188.5 424.8,186.0 425.3,184.4 425.8,184.9 426.3,187.1 426.8,190.1 427.3,193.0 427.8,195.3 428.3,197.1 428.8,198.5 429.3,199.6 429.8,200.4 430.3,201.0 430.8,201.6 431.3,202.0 431.8,202.4 432.3,202.7 432.8,203.0 433.3,203.2 433.8,203.4 434.3,203.6 434.8,203.8 435.3,204.0 435.8,204.1 436.3,204.3 436.8,204.4 437.3,204.5 437.8,204.6 438.3,204.7 438.8,204.9 439.3,205.0 439.8,205.1 440.3,205.1 440.8,205.2 441.3,205.3 441.8,205.4 442.3,205.5 442.8,205.6 443.3,205.7" fill="none" stroke="#dc2424" stroke-width="0.68" stroke-linejoin="round" stroke-dasharray="2,1"/>
<path d="M273.3,196.3 273.8,197.3 274.3,198.7 274.8,198.5 275.3,198.6 275.8,198.8 276.3,199.4 276.8,200.3 277.3,200.8 277.8,201.2 278.3,199.7 278.8,199.4 279.3,199.2 279.8,200.8 280.3,200.2 280.8,198.8 281.3,196.9 281.8,196.2 282.3,195.5 282.8,195.9 283.3,196.5 283.8,196.6 284.3,196.2 284.8,195.3 285.3,195.1 285.8,195.8 286.3,195.4 286.8,196.0 287.3,195.2 287.8,194.8 288.3,194.1 288.8,193.8 289.3,193.6 289.8,193.2 290.3,193.3 290.8,193.5 291.3,192.6 291.8,192.4 292.3,192.3 292.8,193.0 293.3,193.4 293.8,192.4 294.3,192.0 294.8,191.2 295.3,190.8 295.8,190.7 296.3,190.1 296.8,190.0 297.3,189.9 297.8,189.7 298.3,189.4 298.8,188.6 299.3,187.8 299.8,188.0 300.3,187.3 300.8,187.0 301.3,186.0 301.8,185.9 302.3,185.3 302.8,184.8 303.3,184.2 303.8,183.5 304.3,183.0 304.8,182.5 305.3,182.1 305.8,181.2 306.3,180.4 306.8,179.8 307.3,179.3 307.8,178.7 308.3,178.0 308.8,177.4 309.3,176.8 309.8,176.2 310.3,175.7 310.8,175.2 311.3,174.7 311.8,174.2 312.3,173.7 312.8,173.2 313.3,172.7 313.8,172.2 314.3,171.7 314.8,171.3 315.3,170.8 315.8,170.4 316.3,170.0 316.8,169.6 317.3,169.2 317.8,168.8 318.3,168.4 318.8,168.1 319.3,167.7 319.8,167.4 320.3,167.1 320.8,166.8 321.3,166.5 321.8,166.3 322.3,166.0 322.8,165.7 323.3,165.5 323.8,165.2 324.3,165.0 324.8,164.7 325.3,164.5 325.8,164.2 326.3,163.9 326.8,163.6 327.3,163.3 327.8,163.0 328.3,162.7 328.8,162.3 329.3,161.9 329.8,161.5 330.3,161.0 330.8,160.6 331.3,160.2 331.8,159.8 332.3,159.5 332.8,159.2 333.3,158.9 333.8,158.7 334.3,158.4 334.8,158.2 335.3,158.0 335.8,157.9 336.3,157.7 336.8,157.6 337.3,157.5 337.8,157.3 338.3,157.2 338.8,157.1 339.3,157.0 339.8,156.9 340.3,156.8 340.8,156.8 341.3,156.7 341.8,156.7 342.3,156.7 342.8,156.7 343.3,156.8 343.8,156.8 344.3,156.9 344.8,157.0 345.3,157.1 345.8,157.2 346.3,157.3 346.8,157.4 347.3,157.6 347.8,157.7 348.3,158.0 348.8,158.3 349.3,158.6 349.8,158.9 350.3,159.1 350.8,159.3 351.3,159.5 351.8,159.6 352.3,159.8 352.8,159.9 353.3,160.0 353.8,160.1 354.3,160.3 354.8,160.4 355.3,160.5 355.8,160.7 356.3,160.8 356.8,161.0 357.3,161.2 357.8,161.4 358.3,161.6 358.8,161.8 359.3,162.1 359.8,162.3 360.3,162.6 360.8,162.8 361.3,163.1 361.8,163.4 362.3,163.6 362.8,163.9 363.3,164.2 363.8,164.5 364.3,164.8 364.8,165.0 365.3,165.3 365.8,165.6 366.3,165.9 366.8,166.2 367.3,166.5 367.8,166.8 368.3,167.2 368.8,167.5 369.3,167.8 369.8,168.1 370.3,168.4 370.8,168.7 371.3,169.0 371.8,169.4 372.3,169.7 372.8,170.0 373.3,170.3 373.8,170.7 374.3,171.0 374.8,171.3 375.3,171.6 375.8,172.0 376.3,172.3 376.8,172.6 377.3,172.9 377.8,173.2 378.3,173.5 378.8,173.8 379.3,174.0 379.8,174.3 380.3,174.6 380.8,174.8 381.3,175.1 381.8,175.3 382.3,175.6 382.8,175.8 383.3,176.1 383.8,176.3 384.3,176.5 384.8,176.7 385.3,177.0 385.8,177.2 386.3,177.4 386.8,177.6 387.3,177.8 387.8,178.0 388.3,178.2 388.8,178.4 389.3,178.6 389.8,178.8 390.3,178.9 390.8,179.1 391.3,179.3 391.8,179.5 392.3,179.7 392.8,179.9 393.3,180.1 393.8,180.2 394.3,180.4 394.8,180.6 395.3,180.8 395.8,181.0 396.3,181.3 396.8,181.5 397.3,181.8 397.8,182.1 398.3,182.3 398.8,182.6 399.3,182.8 399.8,183.0 400.3,183.2 400.8,183.3 401.3,183.4 401.8,183.5 402.3,183.5 402.8,183.4 403.3,183.1 403.8,182.9 404.3,182.5 404.8,182.2 405.3,181.7 405.8,181.1 406.3,180.4 406.8,179.5 407.3,178.5 407.8,177.5 408.3,176.5 408.8,175.4 409.3,174.4 409.8,173.1 410.3,171.8 410.8,170.5 411.3,169.3 411.8,168.3 412.3,167.6 412.8,166.9 413.3,166.3 413.8,166.0 414.3,166.1 414.8,166.4 415.3,167.0 415.8,167.7 416.3,168.5 416.8,169.8 417.3,171.5 417.8,173.1 418.3,174.6 418.8,175.7 419.3,176.3 419.8,176.8 420.3,177.2 420.8,177.6 421.3,177.9 421.8,178.0 422.3,177.9 422.8,177.5 423.3,176.8 423.8,176.0 424.3,175.1 424.8,174.3 425.3,173.5 425.8,172.7 426.3,172.1 426.8,172.2 427.3,173.3 427.8,174.8 428.3,176.4 428.8,177.8 429.3,179.2 429.8,180.7 430.3,182.2 430.8,183.6 431.3,184.8 431.8,185.7 432.3,186.3 432.8,186.9 433.3,187.3 433.8,187.8 434.3,188.1 434.8,188.5 435.3,188.7 435.8,188.9 436.3,189.1 436.8,189.3 437.3,189.4 437.8,189.6 438.3,189.7 438.8,189.8 439.3,189.9 439.8,190.1 440.3,190.2 440.8,190.2 441.3,190.3 441.8,190.4 442.3,190.4 442.8,190.5 443.3,190.5" fill="none" stroke="#3a3a3a" stroke-width="0.62" stroke-linejoin="round"/>
<path d="M273.3,197.7 273.8,198.2 274.3,199.7 274.8,199.9 275.3,200.6 275.8,200.9 276.3,202.3 276.8,201.8 277.3,202.5 277.8,202.9 278.3,203.7 278.8,203.1 279.3,202.6 279.8,202.1 280.3,201.8 280.8,201.5 281.3,201.0 281.8,200.3 282.3,199.2 282.8,199.1 283.3,199.6 283.8,200.0 284.3,199.3 284.8,198.9 285.3,198.4 285.8,199.3 286.3,199.7 286.8,199.4 287.3,198.7 287.8,197.2 288.3,197.4 288.8,197.5 289.3,197.9 289.8,196.9 290.3,196.4 290.8,196.0 291.3,195.9 291.8,195.6 292.3,195.0 292.8,194.7 293.3,193.7 293.8,193.9 294.3,194.4 294.8,194.4 295.3,194.2 295.8,193.4 296.3,193.4 296.8,193.2 297.3,192.5 297.8,192.4 298.3,191.7 298.8,191.6 299.3,190.8 299.8,190.4 300.3,190.1 300.8,189.9 301.3,189.1 301.8,188.7 302.3,188.2 302.8,188.0 303.3,187.4 303.8,186.7 304.3,186.2 304.8,185.6 305.3,185.1 305.8,184.4 306.3,183.9 306.8,183.4 307.3,182.7 307.8,181.9 308.3,181.2 308.8,180.6 309.3,180.1 309.8,179.6 310.3,179.0 310.8,178.5 311.3,178.0 311.8,177.5 312.3,177.0 312.8,176.5 313.3,176.1 313.8,175.6 314.3,175.1 314.8,174.7 315.3,174.2 315.8,173.8 316.3,173.4 316.8,173.0 317.3,172.6 317.8,172.2 318.3,171.8 318.8,171.4 319.3,171.1 319.8,170.7 320.3,170.4 320.8,170.0 321.3,169.7 321.8,169.4 322.3,169.1 322.8,168.8 323.3,168.5 323.8,168.2 324.3,167.9 324.8,167.6 325.3,167.3 325.8,167.0 326.3,166.8 326.8,166.5 327.3,166.2 327.8,165.9 328.3,165.7 328.8,165.4 329.3,165.0 329.8,164.7 330.3,164.4 330.8,164.1 331.3,163.8 331.8,163.5 332.3,163.3 332.8,163.0 333.3,162.8 333.8,162.7 334.3,162.5 334.8,162.3 335.3,162.2 335.8,162.1 336.3,162.0 336.8,161.9 337.3,161.8 337.8,161.7 338.3,161.6 338.8,161.5 339.3,161.4 339.8,161.4 340.3,161.3 340.8,161.3 341.3,161.3 341.8,161.2 342.3,161.2 342.8,161.3 343.3,161.3 343.8,161.3 344.3,161.4 344.8,161.4 345.3,161.5 345.8,161.6 346.3,161.7 346.8,161.8 347.3,161.8 347.8,162.0 348.3,162.1 348.8,162.3 349.3,162.5 349.8,162.7 350.3,162.9 350.8,163.0 351.3,163.1 351.8,163.2 352.3,163.3 352.8,163.5 353.3,163.6 353.8,163.7 354.3,163.8 354.8,163.9 355.3,164.1 355.8,164.2 356.3,164.3 356.8,164.5 357.3,164.7 357.8,164.8 358.3,165.0 358.8,165.2 359.3,165.4 359.8,165.6 360.3,165.8 360.8,166.1 361.3,166.3 361.8,166.5 362.3,166.8 362.8,167.0 363.3,167.3 363.8,167.6 364.3,167.8 364.8,168.1 365.3,168.4 365.8,168.7 366.3,169.0 366.8,169.3 367.3,169.6 367.8,169.9 368.3,170.2 368.8,170.5 369.3,170.8 369.8,171.1 370.3,171.4 370.8,171.7 371.3,172.1 371.8,172.4 372.3,172.7 372.8,173.1 373.3,173.4 373.8,173.8 374.3,174.1 374.8,174.5 375.3,174.8 375.8,175.1 376.3,175.4 376.8,175.7 377.3,176.0 377.8,176.3 378.3,176.5 378.8,176.8 379.3,177.0 379.8,177.2 380.3,177.5 380.8,177.7 381.3,177.9 381.8,178.1 382.3,178.3 382.8,178.5 383.3,178.7 383.8,178.9 384.3,179.1 384.8,179.3 385.3,179.5 385.8,179.7 386.3,179.9 386.8,180.1 387.3,180.3 387.8,180.5 388.3,180.7 388.8,180.8 389.3,181.0 389.8,181.2 390.3,181.4 390.8,181.5 391.3,181.7 391.8,181.9 392.3,182.0 392.8,182.2 393.3,182.4 393.8,182.6 394.3,182.7 394.8,182.9 395.3,183.1 395.8,183.3 396.3,183.6 396.8,183.8 397.3,184.1 397.8,184.4 398.3,184.6 398.8,184.9 399.3,185.1 399.8,185.3 400.3,185.5 400.8,185.7 401.3,185.8 401.8,185.8 402.3,185.8 402.8,185.7 403.3,185.6 403.8,185.4 404.3,185.2 404.8,185.0 405.3,184.8 405.8,184.4 406.3,183.8 406.8,183.1 407.3,182.4 407.8,181.6 408.3,180.8 408.8,179.9 409.3,179.1 409.8,178.1 410.3,177.0 410.8,176.0 411.3,175.0 411.8,174.1 412.3,173.5 412.8,172.9 413.3,172.4 413.8,172.0 414.3,171.9 414.8,172.2 415.3,172.8 415.8,173.6 416.3,174.6 416.8,175.7 417.3,176.9 417.8,178.1 418.3,179.1 418.8,180.0 419.3,180.5 419.8,180.9 420.3,181.3 420.8,181.5 421.3,181.7 421.8,181.7 422.3,181.5 422.8,181.0 423.3,180.5 423.8,179.8 424.3,179.2 424.8,178.6 425.3,178.1 425.8,177.5 426.3,177.1 426.8,177.2 427.3,178.1 427.8,179.4 428.3,180.8 428.8,182.0 429.3,183.1 429.8,184.2 430.3,185.4 430.8,186.4 431.3,187.3 431.8,188.1 432.3,188.6 432.8,189.0 433.3,189.3 433.8,189.6 434.3,189.9 434.8,190.1 435.3,190.3 435.8,190.5 436.3,190.6 436.8,190.8 437.3,190.9 437.8,191.0 438.3,191.1 438.8,191.2 439.3,191.3 439.8,191.4 440.3,191.5 440.8,191.6 441.3,191.6 441.8,191.7 442.3,191.7 442.8,191.7 443.3,191.8" fill="none" stroke="#3a3a3a" stroke-width="0.62" stroke-linejoin="round"/>
<path d="M273.3,199.8 273.8,200.4 274.3,201.7 274.8,202.7 275.3,203.9 275.8,203.4 276.3,203.1 276.8,202.8 277.3,204.7 277.8,204.9 278.3,205.4 278.8,204.7 279.3,203.8 279.8,203.0 280.3,202.1 280.8,202.4 281.3,202.4 281.8,201.9 282.3,200.8 282.8,199.6 283.3,198.9 283.8,197.8 284.3,197.4 284.8,197.9 285.3,199.3 285.8,199.5 286.3,199.2 286.8,199.2 287.3,199.4 287.8,200.0 288.3,199.8 288.8,198.9 289.3,198.4 289.8,198.6 290.3,199.7 290.8,199.3 291.3,198.6 291.8,198.3 292.3,198.0 292.8,197.6 293.3,197.1 293.8,196.4 294.3,196.2 294.8,195.4 295.3,195.3 295.8,195.5 296.3,195.4 296.8,194.9 297.3,194.0 297.8,193.9 298.3,193.4 298.8,192.9 299.3,192.3 299.8,192.0 300.3,191.5 300.8,191.3 301.3,191.1 301.8,191.0 302.3,190.4 302.8,189.6 303.3,188.7 303.8,188.1 304.3,187.5 304.8,187.0 305.3,186.6 305.8,186.2 306.3,185.6 306.8,184.9 307.3,184.4 307.8,183.7 308.3,183.2 308.8,182.6 309.3,181.9 309.8,181.3 310.3,180.8 310.8,180.3 311.3,179.8 311.8,179.3 312.3,178.8 312.8,178.3 313.3,177.8 313.8,177.4 314.3,176.9 314.8,176.5 315.3,176.0 315.8,175.6 316.3,175.2 316.8,174.8 317.3,174.4 317.8,174.0 318.3,173.6 318.8,173.2 319.3,172.8 319.8,172.5 320.3,172.1 320.8,171.7 321.3,171.4 321.8,171.0 322.3,170.7 322.8,170.4 323.3,170.0 323.8,169.7 324.3,169.4 324.8,169.1 325.3,168.8 325.8,168.5 326.3,168.3 326.8,168.0 327.3,167.7 327.8,167.5 328.3,167.2 328.8,167.0 329.3,166.7 329.8,166.5 330.3,166.2 330.8,165.9 331.3,165.7 331.8,165.5 332.3,165.3 332.8,165.1 333.3,164.9 333.8,164.8 334.3,164.6 334.8,164.5 335.3,164.4 335.8,164.3 336.3,164.2 336.8,164.1 337.3,164.0 337.8,164.0 338.3,163.9 338.8,163.8 339.3,163.8 339.8,163.7 340.3,163.7 340.8,163.6 341.3,163.6 341.8,163.6 342.3,163.6 342.8,163.6 343.3,163.6 343.8,163.7 344.3,163.7 344.8,163.8 345.3,163.8 345.8,163.9 346.3,163.9 346.8,164.0 347.3,164.1 347.8,164.2 348.3,164.3 348.8,164.4 349.3,164.6 349.8,164.7 350.3,164.8 350.8,164.9 351.3,165.0 351.8,165.1 352.3,165.2 352.8,165.3 353.3,165.4 353.8,165.5 354.3,165.7 354.8,165.8 355.3,165.9 355.8,166.0 356.3,166.2 356.8,166.3 357.3,166.5 357.8,166.6 358.3,166.8 358.8,167.0 359.3,167.2 359.8,167.4 360.3,167.6 360.8,167.8 361.3,168.0 361.8,168.2 362.3,168.4 362.8,168.7 363.3,168.9 363.8,169.2 364.3,169.4 364.8,169.7 365.3,170.0 365.8,170.3 366.3,170.5 366.8,170.8 367.3,171.1 367.8,171.5 368.3,171.8 368.8,172.1 369.3,172.4 369.8,172.7 370.3,173.0 370.8,173.3 371.3,173.6 371.8,174.0 372.3,174.3 372.8,174.7 373.3,175.0 373.8,175.4 374.3,175.7 374.8,176.1 375.3,176.5 375.8,176.8 376.3,177.1 376.8,177.4 377.3,177.6 377.8,177.9 378.3,178.1 378.8,178.3 379.3,178.6 379.8,178.8 380.3,179.0 380.8,179.2 381.3,179.4 381.8,179.6 382.3,179.8 382.8,180.0 383.3,180.1 383.8,180.3 384.3,180.5 384.8,180.7 385.3,180.9 385.8,181.1 386.3,181.3 386.8,181.4 387.3,181.6 387.8,181.8 388.3,181.9 388.8,182.1 389.3,182.3 389.8,182.4 390.3,182.6 390.8,182.8 391.3,182.9 391.8,183.1 392.3,183.3 392.8,183.4 393.3,183.6 393.8,183.8 394.3,184.0 394.8,184.1 395.3,184.3 395.8,184.6 396.3,184.8 396.8,185.0 397.3,185.3 397.8,185.6 398.3,185.8 398.8,186.1 399.3,186.3 399.8,186.5 400.3,186.7 400.8,186.9 401.3,187.0 401.8,187.0 402.3,187.0 402.8,187.0 403.3,186.9 403.8,186.8 404.3,186.7 404.8,186.5 405.3,186.4 405.8,186.1 406.3,185.6 406.8,185.0 407.3,184.4 407.8,183.7 408.3,183.0 408.8,182.3 409.3,181.6 409.8,180.7 410.3,179.8 410.8,178.8 411.3,178.0 411.8,177.2 412.3,176.6 412.8,176.0 413.3,175.5 413.8,175.1 414.3,175.0 414.8,175.2 415.3,175.8 415.8,176.7 416.3,177.7 416.8,178.7 417.3,179.7 417.8,180.6 418.3,181.5 418.8,182.2 419.3,182.7 419.8,183.1 420.3,183.4 420.8,183.6 421.3,183.7 421.8,183.6 422.3,183.3 422.8,182.9 423.3,182.4 423.8,181.8 424.3,181.3 424.8,180.9 425.3,180.4 425.8,180.0 426.3,179.7 426.8,179.8 427.3,180.6 427.8,181.8 428.3,183.1 428.8,184.1 429.3,185.1 429.8,186.0 430.3,187.0 430.8,187.9 431.3,188.7 431.8,189.3 432.3,189.8 432.8,190.1 433.3,190.4 433.8,190.6 434.3,190.8 434.8,191.0 435.3,191.2 435.8,191.3 436.3,191.5 436.8,191.6 437.3,191.7 437.8,191.8 438.3,191.9 438.8,192.0 439.3,192.1 439.8,192.1 440.3,192.2 440.8,192.3 441.3,192.3 441.8,192.3 442.3,192.4 442.8,192.4 443.3,192.4" fill="none" stroke="#3a3a3a" stroke-width="0.62" stroke-linejoin="round"/>
<path d="M273.3,202.8 273.8,203.8 274.3,202.4 274.8,202.6 275.3,201.7 275.8,203.7 276.3,203.6 276.8,205.3 277.3,204.5 277.8,204.6 278.3,202.1 278.8,203.8 279.3,203.2 279.8,204.2 280.3,202.9 280.8,203.9 281.3,203.5 281.8,203.2 282.3,201.3 282.8,201.9 283.3,201.5 283.8,202.6 284.3,202.4 284.8,202.4 285.3,201.9 285.8,202.1 286.3,202.5 286.8,203.0 287.3,202.8 287.8,202.2 288.3,201.5 288.8,200.9 289.3,200.5 289.8,200.3 290.3,200.3 290.8,200.2 291.3,199.5 291.8,199.2 292.3,198.4 292.8,198.5 293.3,198.2 293.8,198.1 294.3,197.5 294.8,197.3 295.3,197.5 295.8,197.2 296.3,196.8 296.8,195.6 297.3,195.5 297.8,195.4 298.3,195.4 298.8,194.4 299.3,193.7 299.8,193.7 300.3,193.6 300.8,193.3 301.3,192.7 301.8,192.3 302.3,191.7 302.8,191.3 303.3,190.8 303.8,190.0 304.3,189.2 304.8,188.5 305.3,188.0 305.8,187.7 306.3,187.3 306.8,186.7 307.3,186.0 307.8,185.3 308.3,184.7 308.8,184.1 309.3,183.5 309.8,182.9 310.3,182.4 310.8,181.9 311.3,181.4 311.8,180.9 312.3,180.4 312.8,179.9 313.3,179.5 313.8,179.0 314.3,178.5 314.8,178.1 315.3,177.7 315.8,177.2 316.3,176.8 316.8,176.4 317.3,176.0 317.8,175.6 318.3,175.2 318.8,174.8 319.3,174.4 319.8,174.0 320.3,173.7 320.8,173.3 321.3,172.9 321.8,172.5 322.3,172.2 322.8,171.8 323.3,171.5 323.8,171.1 324.3,170.8 324.8,170.5 325.3,170.2 325.8,169.9 326.3,169.6 326.8,169.3 327.3,169.1 327.8,168.9 328.3,168.7 328.8,168.4 329.3,168.2 329.8,168.0 330.3,167.8 330.8,167.6 331.3,167.4 331.8,167.2 332.3,167.1 332.8,166.9 333.3,166.8 333.8,166.7 334.3,166.5 334.8,166.5 335.3,166.4 335.8,166.3 336.3,166.2 336.8,166.2 337.3,166.1 337.8,166.0 338.3,166.0 338.8,165.9 339.3,165.9 339.8,165.9 340.3,165.8 340.8,165.8 341.3,165.8 341.8,165.8 342.3,165.8 342.8,165.8 343.3,165.8 343.8,165.8 344.3,165.8 344.8,165.9 345.3,165.9 345.8,166.0 346.3,166.0 346.8,166.1 347.3,166.1 347.8,166.2 348.3,166.3 348.8,166.4 349.3,166.4 349.8,166.5 350.3,166.6 350.8,166.7 351.3,166.8 351.8,166.8 352.3,166.9 352.8,167.0 353.3,167.1 353.8,167.2 354.3,167.3 354.8,167.5 355.3,167.6 355.8,167.7 356.3,167.8 356.8,168.0 357.3,168.1 357.8,168.3 358.3,168.4 358.8,168.6 359.3,168.8 359.8,168.9 360.3,169.1 360.8,169.3 361.3,169.5 361.8,169.7 362.3,169.9 362.8,170.1 363.3,170.4 363.8,170.6 364.3,170.9 364.8,171.1 365.3,171.4 365.8,171.7 366.3,172.0 366.8,172.3 367.3,172.6 367.8,172.9 368.3,173.2 368.8,173.5 369.3,173.8 369.8,174.1 370.3,174.5 370.8,174.8 371.3,175.1 371.8,175.4 372.3,175.7 372.8,176.1 373.3,176.5 373.8,176.9 374.3,177.2 374.8,177.6 375.3,178.0 375.8,178.3 376.3,178.6 376.8,178.9 377.3,179.1 377.8,179.3 378.3,179.6 378.8,179.8 379.3,180.0 379.8,180.2 380.3,180.4 380.8,180.5 381.3,180.7 381.8,180.9 382.3,181.1 382.8,181.3 383.3,181.4 383.8,181.6 384.3,181.8 384.8,181.9 385.3,182.1 385.8,182.3 386.3,182.5 386.8,182.6 387.3,182.8 387.8,183.0 388.3,183.1 388.8,183.3 389.3,183.4 389.8,183.6 390.3,183.8 390.8,183.9 391.3,184.1 391.8,184.2 392.3,184.4 392.8,184.6 393.3,184.7 393.8,184.9 394.3,185.1 394.8,185.2 395.3,185.4 395.8,185.6 396.3,185.9 396.8,186.1 397.3,186.4 397.8,186.7 398.3,186.9 398.8,187.2 399.3,187.4 399.8,187.6 400.3,187.8 400.8,188.0 401.3,188.1 401.8,188.1 402.3,188.1 402.8,188.1 403.3,188.1 403.8,188.0 404.3,188.0 404.8,187.9 405.3,187.8 405.8,187.6 406.3,187.2 406.8,186.8 407.3,186.2 407.8,185.7 408.3,185.1 408.8,184.5 409.3,183.9 409.8,183.1 410.3,182.3 410.8,181.5 411.3,180.7 411.8,180.0 412.3,179.4 412.8,178.9 413.3,178.4 413.8,178.0 414.3,177.8 414.8,177.9 415.3,178.6 415.8,179.5 416.3,180.6 416.8,181.5 417.3,182.3 417.8,183.0 418.3,183.6 418.8,184.2 419.3,184.7 419.8,185.0 420.3,185.3 420.8,185.5 421.3,185.5 421.8,185.3 422.3,185.0 422.8,184.6 423.3,184.1 423.8,183.7 424.3,183.3 424.8,182.9 425.3,182.6 425.8,182.3 426.3,182.1 426.8,182.2 427.3,182.9 427.8,184.0 428.3,185.1 428.8,186.1 429.3,186.9 429.8,187.7 430.3,188.5 430.8,189.2 431.3,189.9 431.8,190.4 432.3,190.8 432.8,191.1 433.3,191.3 433.8,191.5 434.3,191.7 434.8,191.8 435.3,192.0 435.8,192.1 436.3,192.2 436.8,192.3 437.3,192.4 437.8,192.5 438.3,192.6 438.8,192.6 439.3,192.7 439.8,192.8 440.3,192.8 440.8,192.9 441.3,192.9 441.8,193.0 442.3,193.0 442.8,193.0 443.3,193.0" fill="none" stroke="#3a3a3a" stroke-width="0.62" stroke-linejoin="round"/>
<path d="M273.3,204.7 273.8,205.4 274.3,207.1 274.8,204.1 275.3,203.9 275.8,203.2 276.3,204.0 276.8,204.3 277.3,203.7 277.8,205.4 278.3,205.2 278.8,205.6 279.3,206.0 279.8,206.0 280.3,205.1 280.8,203.5 281.3,202.6 281.8,201.9 282.3,201.3 282.8,201.8 283.3,201.7 283.8,202.2 284.3,201.4 284.8,202.2 285.3,202.5 285.8,203.6 286.3,203.1 286.8,202.4 287.3,201.6 287.8,201.1 288.3,201.4 288.8,202.4 289.3,202.5 289.8,201.3 290.3,199.8 290.8,200.0 291.3,200.5 291.8,200.2 292.3,200.2 292.8,199.5 293.3,199.5 293.8,199.6 294.3,199.7 294.8,199.3 295.3,198.5 295.8,198.0 296.3,197.6 296.8,196.9 297.3,196.4 297.8,195.7 298.3,195.7 298.8,195.3 299.3,195.3 299.8,195.2 300.3,195.2 300.8,194.6 301.3,193.8 301.8,193.4 302.3,192.9 302.8,192.5 303.3,191.6 303.8,191.0 304.3,190.5 304.8,190.1 305.3,189.8 305.8,189.1 306.3,188.6 306.8,187.9 307.3,187.2 307.8,186.6 308.3,186.0 308.8,185.4 309.3,184.8 309.8,184.2 310.3,183.7 310.8,183.2 311.3,182.7 311.8,182.2 312.3,181.7 312.8,181.2 313.3,180.7 313.8,180.3 314.3,179.8 314.8,179.4 315.3,178.9 315.8,178.5 316.3,178.1 316.8,177.7 317.3,177.3 317.8,176.9 318.3,176.5 318.8,176.1 319.3,175.7 319.8,175.3 320.3,174.9 320.8,174.5 321.3,174.1 321.8,173.7 322.3,173.4 322.8,173.0 323.3,172.6 323.8,172.3 324.3,171.9 324.8,171.6 325.3,171.3 325.8,171.0 326.3,170.7 326.8,170.4 327.3,170.2 327.8,170.0 328.3,169.8 328.8,169.6 329.3,169.4 329.8,169.3 330.3,169.1 330.8,168.9 331.3,168.8 331.8,168.6 332.3,168.5 332.8,168.4 333.3,168.3 333.8,168.2 334.3,168.1 334.8,168.0 335.3,168.0 335.8,167.9 336.3,167.9 336.8,167.8 337.3,167.8 337.8,167.7 338.3,167.7 338.8,167.6 339.3,167.6 339.8,167.6 340.3,167.5 340.8,167.5 341.3,167.5 341.8,167.5 342.3,167.5 342.8,167.5 343.3,167.5 343.8,167.5 344.3,167.6 344.8,167.6 345.3,167.6 345.8,167.6 346.3,167.7 346.8,167.7 347.3,167.8 347.8,167.8 348.3,167.8 348.8,167.9 349.3,167.9 349.8,168.0 350.3,168.0 350.8,168.1 351.3,168.2 351.8,168.2 352.3,168.3 352.8,168.4 353.3,168.5 353.8,168.6 354.3,168.7 354.8,168.8 355.3,168.9 355.8,169.1 356.3,169.2 356.8,169.3 357.3,169.5 357.8,169.6 358.3,169.7 358.8,169.9 359.3,170.1 359.8,170.2 360.3,170.4 360.8,170.5 361.3,170.7 361.8,170.9 362.3,171.1 362.8,171.3 363.3,171.6 363.8,171.8 364.3,172.0 364.8,172.3 365.3,172.6 365.8,172.9 366.3,173.2 366.8,173.4 367.3,173.7 367.8,174.1 368.3,174.4 368.8,174.7 369.3,175.0 369.8,175.3 370.3,175.6 370.8,175.9 371.3,176.2 371.8,176.6 372.3,176.9 372.8,177.3 373.3,177.7 373.8,178.0 374.3,178.4 374.8,178.8 375.3,179.2 375.8,179.5 376.3,179.8 376.8,180.0 377.3,180.3 377.8,180.5 378.3,180.7 378.8,180.9 379.3,181.1 379.8,181.3 380.3,181.5 380.8,181.6 381.3,181.8 381.8,182.0 382.3,182.1 382.8,182.3 383.3,182.4 383.8,182.6 384.3,182.8 384.8,182.9 385.3,183.1 385.8,183.3 386.3,183.4 386.8,183.6 387.3,183.7 387.8,183.9 388.3,184.1 388.8,184.2 389.3,184.4 389.8,184.5 390.3,184.7 390.8,184.8 391.3,185.0 391.8,185.1 392.3,185.3 392.8,185.5 393.3,185.6 393.8,185.8 394.3,186.0 394.8,186.1 395.3,186.3 395.8,186.5 396.3,186.8 396.8,187.0 397.3,187.3 397.8,187.5 398.3,187.8 398.8,188.1 399.3,188.3 399.8,188.5 400.3,188.7 400.8,188.8 401.3,188.9 401.8,189.0 402.3,189.0 402.8,189.0 403.3,189.0 403.8,189.0 404.3,189.0 404.8,189.0 405.3,189.0 405.8,188.8 406.3,188.5 406.8,188.2 407.3,187.7 407.8,187.2 408.3,186.7 408.8,186.2 409.3,185.7 409.8,185.0 410.3,184.3 410.8,183.6 411.3,182.8 411.8,182.2 412.3,181.7 412.8,181.1 413.3,180.6 413.8,180.2 414.3,180.0 414.8,180.1 415.3,180.8 415.8,181.8 416.3,182.9 416.8,183.7 417.3,184.3 417.8,184.8 418.3,185.4 418.8,185.8 419.3,186.3 419.8,186.6 420.3,186.9 420.8,187.0 421.3,187.0 421.8,186.7 422.3,186.4 422.8,185.9 423.3,185.5 423.8,185.1 424.3,184.8 424.8,184.6 425.3,184.3 425.8,184.1 426.3,184.0 426.8,184.1 427.3,184.7 427.8,185.7 428.3,186.8 428.8,187.7 429.3,188.4 429.8,189.0 430.3,189.7 430.8,190.3 431.3,190.8 431.8,191.3 432.3,191.7 432.8,191.9 433.3,192.1 433.8,192.2 434.3,192.3 434.8,192.5 435.3,192.6 435.8,192.7 436.3,192.8 436.8,192.9 437.3,193.0 437.8,193.0 438.3,193.1 438.8,193.2 439.3,193.2 439.8,193.3 440.3,193.3 440.8,193.4 441.3,193.4 441.8,193.5 442.3,193.5 442.8,193.5 443.3,193.5" fill="none" stroke="#3a3a3a" stroke-width="0.62" stroke-linejoin="round"/>
<path d="M273.3,186.4 273.8,190.6 274.3,192.2 274.8,190.8 275.3,184.4 275.8,179.5 276.3,179.8 276.8,181.4 277.3,183.1 277.8,184.5 278.3,185.7 278.8,185.5 279.3,184.3 279.8,183.1 280.3,182.8 280.8,183.2 281.3,183.7 281.8,184.0 282.3,183.9 282.8,183.7 283.3,183.4 283.8,183.4 284.3,183.6 284.8,183.8 285.3,184.0 285.8,183.8 286.3,183.0 286.8,181.9 287.3,180.7 287.8,178.9 288.3,177.6 288.8,178.3 289.3,180.5 289.8,182.2 290.3,183.8 290.8,184.6 291.3,182.7 291.8,179.7 292.3,177.9 292.8,176.6 293.3,176.4 293.8,176.8 294.3,177.5 294.8,178.6 295.3,179.8 295.8,179.4 296.3,177.0 296.8,174.7 297.3,172.2 297.8,170.5 298.3,170.8 298.8,172.0 299.3,172.6 299.8,172.4 300.3,172.0 300.8,171.6 301.3,171.2 301.8,171.1 302.3,171.2 302.8,171.4 303.3,171.5 303.8,171.5 304.3,171.3 304.8,170.9 305.3,170.5 305.8,170.0 306.3,169.6 306.8,169.1 307.3,168.5 307.8,167.9 308.3,167.4 308.8,167.1 309.3,166.9 309.8,166.8 310.3,166.7 310.8,166.6 311.3,166.5 311.8,166.4 312.3,166.2 312.8,165.9 313.3,165.7 313.8,165.3 314.3,165.0 314.8,164.6 315.3,164.2 315.8,163.8 316.3,163.5 316.8,163.1 317.3,162.8 317.8,162.5 318.3,162.2 318.8,161.8 319.3,161.5 319.8,161.1 320.3,160.7 320.8,160.3 321.3,159.8 321.8,159.3 322.3,158.8 322.8,158.3 323.3,157.8 323.8,157.2 324.3,156.6 324.8,156.0 325.3,155.4 325.8,154.7 326.3,154.0 326.8,153.3 327.3,152.6 327.8,151.9 328.3,151.2 328.8,150.5 329.3,149.8 329.8,149.1 330.3,148.3 330.8,147.6 331.3,146.9 331.8,146.2 332.3,145.6 332.8,145.1 333.3,144.6 333.8,144.1 334.3,143.8 334.8,143.7 335.3,143.7 335.8,143.7 336.3,143.8 336.8,143.8 337.3,143.8 337.8,143.9 338.3,143.9 338.8,143.9 339.3,143.9 339.8,143.9 340.3,143.9 340.8,143.9 341.3,143.9 341.8,143.9 342.3,143.9 342.8,143.9 343.3,143.9 343.8,143.9 344.3,143.9 344.8,143.9 345.3,143.9 345.8,144.0 346.3,144.0 346.8,144.2 347.3,144.3 347.8,144.4 348.3,144.6 348.8,144.8 349.3,144.9 349.8,145.0 350.3,145.2 350.8,145.3 351.3,145.4 351.8,145.5 352.3,145.6 352.8,145.7 353.3,145.8 353.8,146.0 354.3,146.1 354.8,146.2 355.3,146.3 355.8,146.5 356.3,146.6 356.8,146.8 357.3,147.0 357.8,147.2 358.3,147.4 358.8,147.7 359.3,148.0 359.8,148.3 360.3,148.6 360.8,148.9 361.3,149.3 361.8,149.6 362.3,150.0 362.8,150.3 363.3,150.7 363.8,151.0 364.3,151.4 364.8,151.7 365.3,152.1 365.8,152.5 366.3,152.8 366.8,153.2 367.3,153.6 367.8,154.0 368.3,154.4 368.8,154.8 369.3,155.2 369.8,155.5 370.3,155.9 370.8,156.3 371.3,156.6 371.8,157.0 372.3,157.3 372.8,157.7 373.3,158.0 373.8,158.3 374.3,158.7 374.8,159.0 375.3,159.3 375.8,159.6 376.3,159.9 376.8,160.2 377.3,160.5 377.8,160.8 378.3,161.0 378.8,161.2 379.3,161.5 379.8,161.7 380.3,161.9 380.8,162.1 381.3,162.3 381.8,162.5 382.3,162.7 382.8,162.8 383.3,163.0 383.8,163.2 384.3,163.4 384.8,163.5 385.3,163.7 385.8,163.9 386.3,164.0 386.8,164.2 387.3,164.4 387.8,164.5 388.3,164.7 388.8,164.8 389.3,165.0 389.8,165.1 390.3,165.3 390.8,165.4 391.3,165.6 391.8,165.7 392.3,165.8 392.8,166.0 393.3,166.1 393.8,166.2 394.3,166.3 394.8,166.5 395.3,166.6 395.8,166.7 396.3,166.8 396.8,166.9 397.3,167.0 397.8,167.2 398.3,167.3 398.8,167.4 399.3,167.5 399.8,167.6 400.3,167.7 400.8,167.8 401.3,167.9 401.8,168.0 402.3,168.1 402.8,168.2 403.3,168.2 403.8,168.3 404.3,168.3 404.8,168.3 405.3,168.3 405.8,168.2 406.3,168.2 406.8,168.0 407.3,167.9 407.8,167.7 408.3,167.6 408.8,167.4 409.3,167.3 409.8,167.2 410.3,167.1 410.8,166.9 411.3,166.8 411.8,166.6 412.3,166.5 412.8,166.4 413.3,166.3 413.8,166.2 414.3,166.2 414.8,166.2 415.3,166.2 415.8,166.3 416.3,166.3 416.8,166.4 417.3,166.4 417.8,166.5 418.3,166.6 418.8,166.6 419.3,166.7 419.8,166.8 420.3,166.8 420.8,166.9 421.3,167.0 421.8,167.1 422.3,167.2 422.8,167.2 423.3,167.3 423.8,167.5 424.3,167.6 424.8,167.7 425.3,167.9 425.8,168.1 426.3,168.3 426.8,168.6 427.3,168.8 427.8,169.0 428.3,169.2 428.8,169.4 429.3,169.6 429.8,169.8 430.3,170.0 430.8,170.2 431.3,170.3 431.8,170.5 432.3,170.7 432.8,170.8 433.3,171.0 433.8,171.1 434.3,171.3 434.8,171.4 435.3,171.6 435.8,171.7 436.3,171.9 436.8,172.0 437.3,172.2 437.8,172.3 438.3,172.4 438.8,172.5 439.3,172.5 439.8,172.6 440.3,172.7 440.8,172.8 441.3,172.8 441.8,172.9 442.3,172.9 442.8,173.0 443.3,173.0" fill="none" stroke="#4444e0" stroke-width="0.55" stroke-linejoin="round"/>
<path d="M273.3,188.8 273.8,187.4 274.3,186.5 274.8,186.0 275.3,185.8 275.8,186.2 276.3,187.1 276.8,188.2 277.3,189.1 277.8,190.0 278.3,190.8 278.8,191.6 279.3,192.2 279.8,192.9 280.3,193.4 280.8,193.5 281.3,193.3 281.8,192.9 282.3,192.4 282.8,191.9 283.3,191.5 283.8,191.1 284.3,190.8 284.8,190.5 285.3,190.1 285.8,189.6 286.3,189.2 286.8,188.6 287.3,188.1 287.8,187.6 288.3,187.1 288.8,186.6 289.3,186.1 289.8,185.6 290.3,185.2 290.8,184.8 291.3,184.3 291.8,183.6 292.3,182.8 292.8,182.2 293.3,182.1 293.8,182.3 294.3,182.7 294.8,183.0 295.3,183.4 295.8,183.6 296.3,183.7 296.8,183.6 297.3,183.4 297.8,183.1 298.3,182.8 298.8,182.4 299.3,182.1 299.8,181.7 300.3,181.3 300.8,180.8 301.3,180.3 301.8,179.7 302.3,179.2 302.8,178.7 303.3,178.2 303.8,177.7 304.3,177.1 304.8,176.6 305.3,176.1 305.8,175.6 306.3,175.1 306.8,174.6 307.3,174.1 307.8,173.6 308.3,173.1 308.8,172.6 309.3,172.0 309.8,171.4 310.3,170.8 310.8,170.1 311.3,169.5 311.8,168.9 312.3,168.4 312.8,167.8 313.3,167.2 313.8,166.7 314.3,166.2 314.8,165.7 315.3,165.4 315.8,165.1 316.3,164.8 316.8,164.6 317.3,164.4 317.8,164.1 318.3,163.8 318.8,163.4 319.3,162.9 319.8,162.3 320.3,161.7 320.8,161.2 321.3,160.7 321.8,160.3 322.3,159.9 322.8,159.4 323.3,159.0 323.8,158.5 324.3,158.0 324.8,157.5 325.3,157.0 325.8,156.5 326.3,155.9 326.8,155.3 327.3,154.7 327.8,154.0 328.3,153.3 328.8,152.6 329.3,151.9 329.8,151.2 330.3,150.6 330.8,150.1 331.3,149.5 331.8,149.0 332.3,148.4 332.8,148.0 333.3,147.7 333.8,147.5 334.3,147.6 334.8,148.0 335.3,148.5 335.8,149.0 336.3,149.3 336.8,149.3 337.3,149.2 337.8,149.0 338.3,148.8 338.8,148.6 339.3,148.4 339.8,148.1 340.3,147.9 340.8,147.6 341.3,147.4 341.8,147.1 342.3,146.9 342.8,146.5 343.3,146.3 343.8,146.0 344.3,145.8 344.8,145.7 345.3,145.7 345.8,145.7 346.3,145.8 346.8,145.8 347.3,145.9 347.8,146.0 348.3,146.1 348.8,146.2 349.3,146.3 349.8,146.5 350.3,146.6 350.8,146.7 351.3,146.8 351.8,147.0 352.3,147.1 352.8,147.3 353.3,147.5 353.8,147.6 354.3,147.8 354.8,148.0 355.3,148.2 355.8,148.4 356.3,148.7 356.8,148.9 357.3,149.1 357.8,149.4 358.3,149.7 358.8,150.1 359.3,150.4 359.8,150.8 360.3,151.2 360.8,151.6 361.3,152.0 361.8,152.4 362.3,152.7 362.8,153.1 363.3,153.5 363.8,153.9 364.3,154.2 364.8,154.5 365.3,154.9 365.8,155.2 366.3,155.5 366.8,155.8 367.3,156.2 367.8,156.5 368.3,156.8 368.8,157.1 369.3,157.4 369.8,157.7 370.3,158.1 370.8,158.4 371.3,158.7 371.8,159.0 372.3,159.3 372.8,159.7 373.3,160.0 373.8,160.3 374.3,160.7 374.8,161.0 375.3,161.3 375.8,161.6 376.3,162.0 376.8,162.3 377.3,162.6 377.8,162.9 378.3,163.1 378.8,163.4 379.3,163.7 379.8,163.9 380.3,164.1 380.8,164.4 381.3,164.6 381.8,164.8 382.3,165.1 382.8,165.3 383.3,165.5 383.8,165.7 384.3,165.9 384.8,166.1 385.3,166.3 385.8,166.4 386.3,166.6 386.8,166.8 387.3,166.9 387.8,167.1 388.3,167.2 388.8,167.3 389.3,167.4 389.8,167.6 390.3,167.7 390.8,167.8 391.3,167.9 391.8,168.1 392.3,168.2 392.8,168.3 393.3,168.5 393.8,168.6 394.3,168.8 394.8,168.9 395.3,169.1 395.8,169.3 396.3,169.6 396.8,169.8 397.3,170.1 397.8,170.4 398.3,170.7 398.8,171.1 399.3,171.4 399.8,171.7 400.3,172.0 400.8,172.3 401.3,172.6 401.8,172.9 402.3,173.1 402.8,173.3 403.3,173.5 403.8,173.7 404.3,173.7 404.8,173.8 405.3,173.8 405.8,173.7 406.3,173.5 406.8,173.2 407.3,172.9 407.8,172.6 408.3,172.2 408.8,171.9 409.3,171.6 409.8,171.4 410.3,171.1 410.8,170.8 411.3,170.6 411.8,170.3 412.3,170.0 412.8,169.8 413.3,169.6 413.8,169.5 414.3,169.4 414.8,169.4 415.3,169.5 415.8,169.7 416.3,170.0 416.8,170.3 417.3,170.7 417.8,171.2 418.3,171.6 418.8,172.1 419.3,172.5 419.8,173.0 420.3,173.4 420.8,173.8 421.3,174.2 421.8,174.5 422.3,174.9 422.8,175.3 423.3,175.7 423.8,176.1 424.3,176.5 424.8,176.8 425.3,177.2 425.8,177.5 426.3,177.8 426.8,178.1 427.3,178.4 427.8,178.8 428.3,179.0 428.8,179.3 429.3,179.6 429.8,179.9 430.3,180.1 430.8,180.3 431.3,180.6 431.8,180.8 432.3,181.0 432.8,181.2 433.3,181.4 433.8,181.6 434.3,181.8 434.8,181.9 435.3,182.1 435.8,182.3 436.3,182.4 436.8,182.6 437.3,182.7 437.8,182.8 438.3,183.0 438.8,183.1 439.3,183.2 439.8,183.3 440.3,183.5 440.8,183.6 441.3,183.7 441.8,183.8 442.3,183.9 442.8,184.0 443.3,184.0" fill="none" stroke="#4444e0" stroke-width="0.55" stroke-linejoin="round"/>
<path d="M273.3,205.8 273.8,206.3 274.3,206.8 274.8,207.1 275.3,207.4 275.8,207.5 276.3,207.6 276.8,207.5 277.3,207.3 277.8,207.0 278.3,206.6 278.8,206.3 279.3,206.1 279.8,205.9 280.3,205.8 280.8,205.7 281.3,205.6 281.8,205.5 282.3,205.4 282.8,205.3 283.3,205.1 283.8,204.8 284.3,204.5 284.8,204.2 285.3,203.9 285.8,203.7 286.3,203.6 286.8,203.5 287.3,203.4 287.8,203.3 288.3,203.2 288.8,203.1 289.3,202.9 289.8,202.7 290.3,202.5 290.8,202.3 291.3,202.1 291.8,201.8 292.3,201.4 292.8,201.0 293.3,200.4 293.8,199.7 294.3,199.1 294.8,198.5 295.3,197.9 295.8,197.4 296.3,196.9 296.8,196.4 297.3,195.9 297.8,195.4 298.3,194.9 298.8,194.5 299.3,194.0 299.8,193.5 300.3,193.0 300.8,192.5 301.3,192.0 301.8,191.4 302.3,190.8 302.8,190.1 303.3,189.5 303.8,188.8 304.3,188.1 304.8,187.4 305.3,186.7 305.8,185.9 306.3,185.1 306.8,184.3 307.3,183.5 307.8,182.7 308.3,181.9 308.8,181.0 309.3,180.1 309.8,179.3 310.3,178.4 310.8,177.5 311.3,176.6 311.8,175.6 312.3,174.7 312.8,173.8 313.3,172.9 313.8,172.1 314.3,171.3 314.8,170.5 315.3,169.8 315.8,169.1 316.3,168.4 316.8,167.8 317.3,167.2 317.8,166.6 318.3,166.1 318.8,165.6 319.3,165.1 319.8,164.8 320.3,164.5 320.8,164.2 321.3,164.0 321.8,163.8 322.3,163.6 322.8,163.3 323.3,163.0 323.8,162.6 324.3,162.2 324.8,161.8 325.3,161.3 325.8,160.9 326.3,160.4 326.8,160.0 327.3,159.6 327.8,159.2 328.3,158.7 328.8,158.3 329.3,157.9 329.8,157.5 330.3,157.1 330.8,156.6 331.3,156.2 331.8,155.7 332.3,155.2 332.8,154.7 333.3,154.3 333.8,154.1 334.3,153.9 334.8,153.8 335.3,153.7 335.8,153.6 336.3,153.5 336.8,153.4 337.3,153.4 337.8,153.4 338.3,153.5 338.8,153.6 339.3,153.7 339.8,153.8 340.3,153.9 340.8,154.0 341.3,154.0 341.8,153.9 342.3,153.7 342.8,153.5 343.3,153.3 343.8,153.1 344.3,152.9 344.8,152.8 345.3,152.8 345.8,152.8 346.3,152.8 346.8,152.9 347.3,152.9 347.8,152.9 348.3,153.0 348.8,153.0 349.3,153.0 349.8,153.1 350.3,153.1 350.8,153.2 351.3,153.2 351.8,153.2 352.3,153.3 352.8,153.3 353.3,153.3 353.8,153.4 354.3,153.4 354.8,153.4 355.3,153.5 355.8,153.5 356.3,153.6 356.8,153.7 357.3,153.7 357.8,153.8 358.3,153.9 358.8,154.0 359.3,154.1 359.8,154.3 360.3,154.4 360.8,154.6 361.3,154.7 361.8,154.9 362.3,155.1 362.8,155.3 363.3,155.5 363.8,155.6 364.3,155.8 364.8,156.0 365.3,156.2 365.8,156.5 366.3,156.7 366.8,156.9 367.3,157.2 367.8,157.5 368.3,157.7 368.8,158.0 369.3,158.3 369.8,158.6 370.3,159.0 370.8,159.3 371.3,159.7 371.8,160.1 372.3,160.5 372.8,160.9 373.3,161.4 373.8,161.9 374.3,162.3 374.8,162.8 375.3,163.3 375.8,163.8 376.3,164.4 376.8,165.0 377.3,165.6 377.8,166.2 378.3,166.8 378.8,167.4 379.3,168.0 379.8,168.6 380.3,169.2 380.8,169.8 381.3,170.4 381.8,171.0 382.3,171.6 382.8,172.2 383.3,172.8 383.8,173.4 384.3,174.0 384.8,174.5 385.3,175.1 385.8,175.6 386.3,176.2 386.8,176.7 387.3,177.3 387.8,177.8 388.3,178.4 388.8,178.9 389.3,179.4 389.8,179.9 390.3,180.3 390.8,180.6 391.3,181.0 391.8,181.3 392.3,181.5 392.8,181.8 393.3,182.1 393.8,182.3 394.3,182.6 394.8,182.8 395.3,183.0 395.8,183.2 396.3,183.4 396.8,183.6 397.3,183.8 397.8,183.9 398.3,184.1 398.8,184.3 399.3,184.4 399.8,184.6 400.3,184.7 400.8,184.9 401.3,185.0 401.8,185.1 402.3,185.3 402.8,185.4 403.3,185.5 403.8,185.5 404.3,185.6 404.8,185.6 405.3,185.6 405.8,185.4 406.3,185.1 406.8,184.7 407.3,184.2 407.8,183.6 408.3,183.1 408.8,182.5 409.3,182.0 409.8,181.6 410.3,181.2 410.8,180.7 411.3,180.2 411.8,179.8 412.3,179.3 412.8,178.9 413.3,178.6 413.8,178.3 414.3,178.2 414.8,178.2 415.3,178.3 415.8,178.5 416.3,178.8 416.8,179.2 417.3,179.5 417.8,179.9 418.3,180.3 418.8,180.6 419.3,181.0 419.8,181.3 420.3,181.6 420.8,182.0 421.3,182.3 421.8,182.7 422.3,183.0 422.8,183.4 423.3,183.7 423.8,184.0 424.3,184.3 424.8,184.5 425.3,184.8 425.8,185.1 426.3,185.3 426.8,185.5 427.3,185.8 427.8,186.0 428.3,186.2 428.8,186.4 429.3,186.7 429.8,186.9 430.3,187.1 430.8,187.2 431.3,187.4 431.8,187.6 432.3,187.8 432.8,188.0 433.3,188.2 433.8,188.4 434.3,188.5 434.8,188.7 435.3,188.9 435.8,189.1 436.3,189.3 436.8,189.5 437.3,189.7 437.8,189.8 438.3,190.0 438.8,190.2 439.3,190.4 439.8,190.6 440.3,190.8 440.8,190.9 441.3,191.1 441.8,191.3 442.3,191.5 442.8,191.7 443.3,191.9" fill="none" stroke="#4444e0" stroke-width="0.55" stroke-linejoin="round"/>
</svg></body></html>
